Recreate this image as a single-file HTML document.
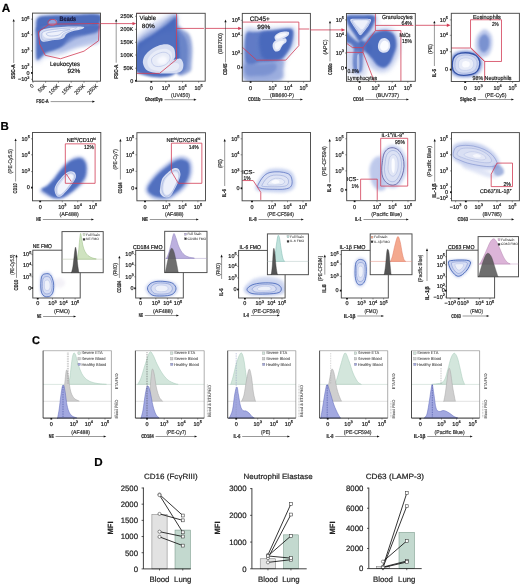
<!DOCTYPE html>
<html><head><meta charset="utf-8"><style>
html,body{margin:0;padding:0;background:#fff;}
svg{display:block;will-change:transform;}
text{font-family:"Liberation Sans", sans-serif;text-rendering:geometricPrecision;stroke:currentColor;stroke-width:0.2px;}
</style></head><body>
<svg width="520" height="584" viewBox="0 0 520 584">
<defs>
<filter id="b1" x="-20%" y="-20%" width="140%" height="140%"><feGaussianBlur stdDeviation="0.8"/></filter>
<filter id="b2" x="-20%" y="-20%" width="140%" height="140%"><feGaussianBlur stdDeviation="1.5"/></filter>
<filter id="b3" x="-30%" y="-30%" width="160%" height="160%"><feGaussianBlur stdDeviation="2.5"/></filter>
<filter id="b05" x="-20%" y="-20%" width="140%" height="140%"><feGaussianBlur stdDeviation="0.4"/></filter>
<filter id="b15" x="-25%" y="-25%" width="150%" height="150%"><feGaussianBlur stdDeviation="1.1"/></filter>
<filter id="b4" x="-40%" y="-40%" width="180%" height="180%"><feGaussianBlur stdDeviation="3.5"/></filter>
</defs>
<rect width="520" height="584" fill="#fff"/>
<text x="1.80" y="12.00" font-size="11.8" fill="#000" style="color:#000" text-anchor="start" font-weight="bold" >A</text>
<text x="0.60" y="129.60" font-size="11.5" fill="#000" style="color:#000" text-anchor="start" font-weight="bold" >B</text>
<text x="32.00" y="344.20" font-size="11" fill="#000" style="color:#000" text-anchor="start" font-weight="bold" >C</text>
<text x="94.30" y="466.00" font-size="11.6" fill="#000" style="color:#000" text-anchor="start" font-weight="bold" >D</text>
<g>
<clipPath id="c1"><rect x="32.50" y="13.10" width="68.00" height="68.10"/></clipPath><g clip-path="url(#c1)">
<path d="M35.54,19.31 C36.28,16.54 36.00,16.03 39.70,15.16 C43.39,14.28 47.77,14.28 57.70,14.05 C67.63,13.82 92.21,11.74 99.25,13.77 C106.29,15.80 99.83,22.08 99.94,26.24 C100.06,30.39 101.91,35.93 99.94,38.70 C97.98,41.47 92.21,41.47 88.17,42.86 C84.13,44.24 79.63,45.40 75.71,47.01 C71.78,48.63 68.55,51.17 64.63,52.55 C60.70,53.94 55.62,54.63 52.16,55.32 C48.70,56.01 45.93,55.78 43.85,56.71 C41.77,57.63 40.96,59.94 39.70,60.86 C38.43,61.78 36.97,63.63 36.23,62.25 C35.49,60.86 35.42,57.63 35.26,52.55 C35.10,47.47 35.22,37.32 35.26,31.78 C35.31,26.24 34.80,22.08 35.54,19.31 Z" fill="#a3b4e3" stroke="none" stroke-width="0.5" filter="url(#b3)" opacity="0.7"/>
<path d="M36.37,21.39 C36.83,19.13 37.29,17.81 39.70,16.82 C42.10,15.82 45.47,15.76 50.78,15.43 C56.08,15.11 63.52,15.02 71.55,14.88 C79.58,14.74 94.40,12.94 98.98,14.60 C103.55,16.26 100.78,23.05 98.98,24.85 C97.17,26.65 92.74,25.22 88.17,25.40 C83.60,25.59 77.78,25.77 71.55,25.96 C65.32,26.14 55.85,26.12 50.78,26.51 C45.70,26.90 43.39,27.67 41.08,28.31 C38.77,28.96 37.71,31.54 36.93,30.39 C36.14,29.24 35.91,23.65 36.37,21.39 Z" fill="#4767bb" stroke="none" stroke-width="0.5" filter="url(#b1)" opacity="0.95"/>
<path d="M75.71,25.54 C83.74,25.27 95.10,24.04 98.98,24.85 C102.85,25.66 99.62,28.89 98.98,30.39 C98.33,31.89 97.36,32.93 95.10,33.85 C92.83,34.78 88.63,35.12 85.40,35.93 C82.17,36.74 78.48,37.55 75.71,38.70 C72.94,39.86 71.09,41.42 68.78,42.86 C66.47,44.29 64.40,46.02 61.86,47.29 C59.32,48.56 56.08,49.60 53.55,50.47 C51.01,51.35 48.47,51.63 46.62,52.55 C44.77,53.47 43.73,54.91 42.47,56.01 C41.20,57.12 39.88,58.58 39.00,59.20 C38.13,59.82 37.66,60.17 37.20,59.75 C36.74,59.34 36.42,60.22 36.23,56.71 C36.05,53.20 35.98,43.55 36.09,38.70 C36.21,33.85 34.48,29.65 36.93,27.62 C39.37,25.59 44.31,26.86 50.78,26.51 C57.24,26.17 67.67,25.82 75.71,25.54 Z" fill="#4767bb" stroke="none" stroke-width="0.5" filter="url(#b1)" opacity="0.92"/>
<path d="M71.55,37.32 C75.71,35.47 83.60,35.47 88.17,34.55 C92.74,33.62 97.17,30.39 98.98,31.78 C100.78,33.16 100.78,40.55 98.98,42.86 C97.17,45.16 92.05,44.82 88.17,45.63 C84.29,46.43 79.63,46.90 75.71,47.70 C71.78,48.51 67.63,49.78 64.63,50.47 C61.63,51.17 57.93,52.67 57.70,51.86 C57.47,51.05 60.93,48.05 63.24,45.63 C65.55,43.20 67.40,39.16 71.55,37.32 Z" fill="#a6b6e4" stroke="none" stroke-width="0.5" filter="url(#b2)" opacity="0.55"/>
<path d="M39.97,31.78 C40.85,30.23 42.28,29.47 45.24,28.73 C48.19,27.99 53.31,27.71 57.70,27.34 C62.09,26.97 67.28,26.60 71.55,26.51 C75.82,26.42 81.52,26.37 83.32,26.79 C85.12,27.20 84.32,28.22 82.35,29.01 C80.39,29.79 74.23,30.62 71.55,31.50 C68.87,32.38 67.72,33.11 66.29,34.27 C64.86,35.42 65.32,37.41 62.96,38.42 C60.61,39.44 55.46,39.81 52.16,40.36 C48.86,40.92 45.19,42.14 43.16,41.75 C41.13,41.36 40.50,39.67 39.97,38.01 C39.44,36.35 39.10,33.32 39.97,31.78 Z" fill="#d3dbf2" stroke="none" stroke-width="0.5" filter="url(#b05)" opacity="1.0"/>
<path d="M43.85,31.78 C46.04,30.51 53.08,30.02 57.70,29.42 C62.32,28.82 67.97,28.43 71.55,28.17 C75.13,27.92 79.17,27.57 79.17,27.90 C79.17,28.22 74.09,29.24 71.55,30.11 C69.01,30.99 65.90,32.01 63.93,33.16 C61.97,34.31 61.97,36.18 59.78,37.04 C57.59,37.89 53.31,38.29 50.78,38.29 C48.24,38.29 45.70,38.12 44.54,37.04 C43.39,35.95 41.66,33.05 43.85,31.78 Z" fill="#eef1fb" stroke="none" stroke-width="0.5" filter="url(#b05)" opacity="1.0"/>
<path d="M46.62,33.16 C48.01,32.35 53.78,31.73 57.70,31.08 C61.63,30.44 69.24,29.17 70.17,29.28 C71.09,29.40 65.20,30.78 63.24,31.78 C61.28,32.77 60.70,34.55 58.39,35.24 C56.08,35.93 51.35,36.28 49.39,35.93 C47.43,35.58 45.24,33.97 46.62,33.16 Z" fill="none" stroke="#7f95d2" stroke-width="0.45" />
<path d="M41.77,33.16 C43.04,31.43 46.74,30.51 50.78,29.70 C54.82,28.89 61.63,28.71 66.01,28.31 C70.40,27.92 76.40,26.93 77.09,27.34 C77.78,27.76 72.47,29.72 70.17,30.81 C67.86,31.89 64.86,32.65 63.24,33.85 C61.63,35.05 62.55,37.08 60.47,38.01 C58.39,38.93 53.66,39.05 50.78,39.39 C47.89,39.74 44.66,41.12 43.16,40.09 C41.66,39.05 40.50,34.89 41.77,33.16 Z" fill="none" stroke="#8ea1d8" stroke-width="0.4" />
<path d="M48.70,22.08 C49.39,21.27 51.47,19.82 52.85,19.59 C54.24,19.36 56.43,19.93 57.01,20.70 C57.59,21.46 57.12,23.35 56.32,24.16 C55.51,24.97 53.43,25.50 52.16,25.54 C50.89,25.59 49.28,25.01 48.70,24.43 C48.12,23.86 48.01,22.89 48.70,22.08 Z" fill="#8fa3dc" stroke="none" stroke-width="0.5" filter="url(#b05)" opacity="1.0"/>
</g>
<path d="M38.31,31.78 L49.39,24.16 L99.25,23.47" fill="none" stroke="#d23c55" stroke-width="0.8" stroke-linejoin="round" />
<path d="M38.31,31.78 L39.70,44.24 L45.24,55.32 L60.47,58.78 L84.02,51.17 L98.56,40.78 L99.25,23.47" fill="none" stroke="#d23c55" stroke-width="0.8" stroke-linejoin="round" />
<ellipse cx="52.16" cy="22.36" rx="4.2" ry="3.0" fill="none" stroke="#d23c55" stroke-width="0.8"/>
<text x="59.60" y="21.20" font-size="6.4" fill="#1a1a40" style="color:#1a1a40" text-anchor="start" font-weight="bold" textLength="16.60" lengthAdjust="spacingAndGlyphs" >Beads</text>
<text x="50.00" y="65.60" font-size="6.2" fill="#161616" style="color:#161616" text-anchor="start" textLength="30.00" lengthAdjust="spacingAndGlyphs" >Leukocytes</text>
<text x="67.40" y="73.20" font-size="6.2" fill="#161616" style="color:#161616" text-anchor="start" textLength="13.00" lengthAdjust="spacingAndGlyphs" >92%</text>
<rect x="32.50" y="13.10" width="68.00" height="68.10" fill="none" stroke="#4a4a4a" stroke-width="0.95" />
</g>
<text x="29.50" y="21.00" font-size="5.5" fill="#161616" style="color:#161616" text-anchor="end" >10<tspan font-size="3.85" dy="-2.48">5</tspan></text>
<line x1="31.00" y1="19.20" x2="32.50" y2="19.20" stroke="#333" stroke-width="0.5" />
<text x="29.50" y="36.60" font-size="5.5" fill="#161616" style="color:#161616" text-anchor="end" >10<tspan font-size="3.85" dy="-2.48">4</tspan></text>
<line x1="31.00" y1="34.80" x2="32.50" y2="34.80" stroke="#333" stroke-width="0.5" />
<text x="29.50" y="52.70" font-size="5.5" fill="#161616" style="color:#161616" text-anchor="end" >10<tspan font-size="3.85" dy="-2.48">3</tspan></text>
<line x1="31.00" y1="50.90" x2="32.50" y2="50.90" stroke="#333" stroke-width="0.5" />
<text x="29.50" y="68.80" font-size="5.5" fill="#161616" style="color:#161616" text-anchor="end" >10<tspan font-size="3.85" dy="-2.48">2</tspan></text>
<line x1="31.00" y1="67.00" x2="32.50" y2="67.00" stroke="#333" stroke-width="0.5" />
<text x="29.50" y="74.70" font-size="5.5" fill="#161616" style="color:#161616" text-anchor="end" >0</text>
<line x1="31.00" y1="72.90" x2="32.50" y2="72.90" stroke="#333" stroke-width="0.5" />
<rect x="31.10" y="72.00" width="1.4" height="1.8" fill="#111"/>
<text x="29.50" y="81.10" font-size="5.5" fill="#161616" style="color:#161616" text-anchor="end" >−10<tspan font-size="3.85" dy="-2.48">2</tspan></text>
<line x1="31.00" y1="79.30" x2="32.50" y2="79.30" stroke="#333" stroke-width="0.5" />
<line x1="33.00" y1="81.20" x2="33.00" y2="82.80" stroke="#333" stroke-width="0.5" />
<text x="34.20" y="86.20" font-size="5.3" fill="#333" style="color:#333" text-anchor="end" transform="rotate(-45 34.20 86.2)">0</text>
<line x1="45.60" y1="81.20" x2="45.60" y2="82.80" stroke="#333" stroke-width="0.5" />
<text x="46.80" y="86.20" font-size="5.3" fill="#333" style="color:#333" text-anchor="end" transform="rotate(-45 46.80 86.2)">50K</text>
<line x1="58.40" y1="81.20" x2="58.40" y2="82.80" stroke="#333" stroke-width="0.5" />
<text x="59.60" y="86.20" font-size="5.3" fill="#333" style="color:#333" text-anchor="end" transform="rotate(-45 59.60 86.2)">100K</text>
<line x1="71.20" y1="81.20" x2="71.20" y2="82.80" stroke="#333" stroke-width="0.5" />
<text x="72.40" y="86.20" font-size="5.3" fill="#333" style="color:#333" text-anchor="end" transform="rotate(-45 72.40 86.2)">150K</text>
<line x1="84.00" y1="81.20" x2="84.00" y2="82.80" stroke="#333" stroke-width="0.5" />
<text x="85.20" y="86.20" font-size="5.3" fill="#333" style="color:#333" text-anchor="end" transform="rotate(-45 85.20 86.2)">200K</text>
<line x1="97.00" y1="81.20" x2="97.00" y2="82.80" stroke="#333" stroke-width="0.5" />
<text x="98.20" y="86.20" font-size="5.3" fill="#333" style="color:#333" text-anchor="end" transform="rotate(-45 98.20 86.2)">250K</text>
<line x1="13.70" y1="21.00" x2="13.70" y2="63.00" stroke="#333" stroke-width="0.5" />
<path d="M12.60,21.60 L13.70,19.00 L14.80,21.60 Z" fill="#111"/>
<text x="15.40" y="71.60" font-size="5.5" fill="#222" style="color:#222" text-anchor="middle" font-weight="bold" textLength="14.80" lengthAdjust="spacingAndGlyphs" transform="rotate(-90 15.40 71.60)" >SSC-A</text>
<line x1="93.00" y1="101.60" x2="50.60" y2="101.60" stroke="#333" stroke-width="0.5" />
<path d="M92.40,100.50 L95.00,101.60 L92.40,102.70 Z" fill="#111"/>
<text x="36.30" y="103.30" font-size="5.5" fill="#222" style="color:#222" text-anchor="start" font-weight="bold" textLength="12.50" lengthAdjust="spacingAndGlyphs" >FSC-A</text>
<line x1="100.50" y1="23.60" x2="133.50" y2="23.60" stroke="#d23c55" stroke-width="0.8" />
<path d="M132.5,21.9 L136.3,23.6 L132.5,25.3 Z" fill="#d23c55"/>
<g>
<clipPath id="c2"><rect x="136.50" y="13.30" width="68.70" height="67.90"/></clipPath><g clip-path="url(#c2)">
<path d="M137.05,37.84 C138.83,33.92 143.80,30.43 147.76,27.38 C151.73,24.33 157.13,21.71 160.84,19.54 C164.54,17.36 167.37,15.29 169.99,14.31 C172.60,13.33 175.43,10.60 176.52,13.65 C177.61,16.70 178.92,29.23 176.52,32.61 C174.13,35.98 166.72,32.17 162.14,33.92 C157.57,35.66 153.25,40.23 149.07,43.07 C144.89,45.90 139.05,51.78 137.05,50.91 C135.04,50.04 135.26,41.76 137.05,37.84 Z" fill="#a9b8e5" stroke="none" stroke-width="0.5" filter="url(#b3)" opacity="0.7"/>
<path d="M137.05,41.76 C138.61,39.14 142.93,36.31 146.46,33.92 C149.99,31.52 154.74,29.78 158.22,27.38 C161.71,24.98 164.54,21.61 167.37,19.54 C170.20,17.47 173.69,13.87 175.22,14.96 C176.74,16.05 178.70,23.13 176.52,26.07 C174.34,29.01 166.72,30.21 162.14,32.61 C157.57,35.00 153.25,37.62 149.07,40.45 C144.89,43.28 139.05,49.38 137.05,49.60 C135.04,49.82 135.48,44.37 137.05,41.76 Z" fill="#6f89cc" stroke="none" stroke-width="0.5" filter="url(#b2)" opacity="0.6"/>
<path d="M176.78,28.69 C177.83,21.67 180.92,28.90 183.06,29.99 C185.19,31.08 188.07,32.39 189.59,35.22 C191.12,38.05 191.88,42.41 192.21,46.99 C192.54,51.56 191.99,58.53 191.56,62.67 C191.12,66.81 192.06,70.25 189.59,71.82 C187.13,73.39 178.92,79.27 176.78,72.08 C174.65,64.90 175.74,35.70 176.78,28.69 Z" fill="#6a84ca" stroke="none" stroke-width="0.5" filter="url(#b2)" opacity="0.75"/>
<path d="M176.78,32.61 C178.05,26.77 182.56,34.13 184.37,36.53 C186.17,38.93 187.20,42.19 187.63,46.99 C188.07,51.78 187.53,61.26 186.98,65.29 C186.44,69.32 186.07,70.12 184.37,71.17 C182.67,72.22 178.05,77.99 176.78,71.56 C175.52,65.14 175.52,38.45 176.78,32.61 Z" fill="#4767bb" stroke="none" stroke-width="0.5" filter="url(#b15)" opacity="0.5"/>
<path d="M137.05,46.99 C138.18,41.54 141.19,41.98 143.84,39.80 C146.50,37.62 149.94,35.94 152.99,33.92 C156.04,31.89 159.42,29.60 162.14,27.64 C164.87,25.68 167.20,23.83 169.33,22.15 C171.47,20.47 173.76,18.34 174.95,17.58 C176.15,16.81 176.26,8.49 176.52,17.58 C176.78,26.66 183.10,62.93 176.52,72.08 C169.94,81.24 143.63,76.66 137.05,72.48 C130.47,68.29 135.91,52.43 137.05,46.99 Z" fill="#4767bb" stroke="none" stroke-width="0.5" filter="url(#b1)" opacity="0.95"/>
<path d="M143.84,57.44 C144.82,55.22 146.68,52.87 149.07,50.91 C151.47,48.95 155.17,46.77 158.22,45.68 C161.27,44.59 164.76,43.94 167.37,44.37 C169.99,44.81 172.60,46.33 173.91,48.29 C175.22,50.25 175.22,54.22 175.22,56.14 C175.22,58.05 173.04,59.36 173.91,59.80 C174.78,60.23 178.88,58.05 180.44,58.75 C182.01,59.45 183.10,62.02 183.32,63.98 C183.54,65.94 183.10,68.99 181.75,70.52 C180.40,72.04 178.92,72.65 175.22,73.13 C171.51,73.61 164.10,73.78 159.53,73.39 C154.95,73.00 150.49,72.30 147.76,70.78 C145.04,69.25 143.84,66.46 143.19,64.24 C142.54,62.02 142.86,59.67 143.84,57.44 Z" fill="#d6ddf2" stroke="none" stroke-width="0.5" filter="url(#b05)" opacity="1.0"/>
<path d="M148.42,58.10 C149.33,56.36 151.14,54.29 152.99,52.87 C154.85,51.45 157.24,50.25 159.53,49.60 C161.82,48.95 164.76,48.51 166.72,48.95 C168.68,49.38 170.42,50.69 171.29,52.22 C172.17,53.74 172.27,56.14 171.95,58.10 C171.62,60.06 168.79,63.22 169.33,63.98 C169.88,64.74 173.58,62.56 175.22,62.67 C176.85,62.78 178.70,63.54 179.14,64.63 C179.57,65.72 179.14,68.12 177.83,69.21 C176.52,70.30 174.34,70.84 171.29,71.17 C168.24,71.50 163.02,71.61 159.53,71.17 C156.04,70.73 152.38,69.86 150.38,68.56 C148.37,67.25 147.83,65.07 147.50,63.33 C147.18,61.58 147.50,59.84 148.42,58.10 Z" fill="#e8ecf8" stroke="none" stroke-width="0.5" filter="url(#b05)" opacity="1.0"/>
<path d="M151.69,58.75 C152.34,57.01 154.85,55.27 156.92,54.18 C158.98,53.09 162.03,52.11 164.10,52.22 C166.17,52.32 168.40,53.52 169.33,54.83 C170.27,56.14 170.38,58.42 169.73,60.06 C169.07,61.69 167.33,63.54 165.41,64.63 C163.49,65.72 160.29,66.59 158.22,66.59 C156.15,66.59 154.08,65.94 152.99,64.63 C151.90,63.33 151.03,60.49 151.69,58.75 Z" fill="none" stroke="#9aabdc" stroke-width="0.45" />
<path d="M157.57,59.41 C158.27,58.32 160.62,56.36 162.14,56.14 C163.67,55.92 166.07,57.01 166.72,58.10 C167.37,59.19 166.94,61.65 166.07,62.67 C165.19,63.70 162.84,64.24 161.49,64.24 C160.14,64.24 158.61,63.48 157.96,62.67 C157.31,61.87 156.87,60.49 157.57,59.41 Z" fill="#f8f9fe" stroke="none" stroke-width="0.5" filter="url(#b1)" opacity="1.0"/>
</g>
<path d="M136.65,13.39 L176.52,13.39 L176.52,59.41 L159.53,73.39 L136.65,73.39" fill="none" stroke="#d23c55" stroke-width="0.8" stroke-linejoin="round" />
<line x1="176.52" y1="28.42" x2="203.97" y2="28.42" stroke="#d23c55" stroke-width="0.8" />
<text x="139.50" y="19.80" font-size="6.2" fill="#161616" style="color:#161616" text-anchor="start" textLength="16.50" lengthAdjust="spacingAndGlyphs" >Viable</text>
<text x="141.80" y="28.00" font-size="6.2" fill="#161616" style="color:#161616" text-anchor="start" textLength="13.00" lengthAdjust="spacingAndGlyphs" >80%</text>
<rect x="136.50" y="13.30" width="68.70" height="67.90" fill="none" stroke="#4a4a4a" stroke-width="0.95" />
</g>
<text x="133.20" y="18.10" font-size="5.5" fill="#161616" style="color:#161616" text-anchor="end" >250K</text>
<line x1="135.00" y1="16.30" x2="136.50" y2="16.30" stroke="#333" stroke-width="0.5" />
<text x="133.20" y="31.10" font-size="5.5" fill="#161616" style="color:#161616" text-anchor="end" >200K</text>
<line x1="135.00" y1="29.30" x2="136.50" y2="29.30" stroke="#333" stroke-width="0.5" />
<text x="133.20" y="44.10" font-size="5.5" fill="#161616" style="color:#161616" text-anchor="end" >150K</text>
<line x1="135.00" y1="42.30" x2="136.50" y2="42.30" stroke="#333" stroke-width="0.5" />
<text x="133.20" y="56.80" font-size="5.5" fill="#161616" style="color:#161616" text-anchor="end" >100K</text>
<line x1="135.00" y1="55.00" x2="136.50" y2="55.00" stroke="#333" stroke-width="0.5" />
<text x="133.20" y="70.00" font-size="5.5" fill="#161616" style="color:#161616" text-anchor="end" >50K</text>
<line x1="135.00" y1="68.20" x2="136.50" y2="68.20" stroke="#333" stroke-width="0.5" />
<text x="133.20" y="82.60" font-size="5.5" fill="#161616" style="color:#161616" text-anchor="end" >0</text>
<line x1="135.00" y1="80.80" x2="136.50" y2="80.80" stroke="#333" stroke-width="0.5" />
<rect x="135.10" y="79.90" width="1.4" height="1.8" fill="#111"/>
<text x="151.30" y="89.60" font-size="5.5" fill="#161616" style="color:#161616" text-anchor="middle" >0</text>
<line x1="151.30" y1="81.20" x2="151.30" y2="82.70" stroke="#333" stroke-width="0.5" />
<rect x="150.40" y="81.20" width="1.8" height="1.4" fill="#111"/>
<text x="165.80" y="89.60" font-size="5.5" fill="#161616" style="color:#161616" text-anchor="middle" >10<tspan font-size="3.85" dy="-2.48">3</tspan></text>
<line x1="165.80" y1="81.20" x2="165.80" y2="82.70" stroke="#333" stroke-width="0.5" />
<text x="182.50" y="89.60" font-size="5.5" fill="#161616" style="color:#161616" text-anchor="middle" >10<tspan font-size="3.85" dy="-2.48">4</tspan></text>
<line x1="182.50" y1="81.20" x2="182.50" y2="82.70" stroke="#333" stroke-width="0.5" />
<text x="198.60" y="89.60" font-size="5.5" fill="#161616" style="color:#161616" text-anchor="middle" >10<tspan font-size="3.85" dy="-2.48">5</tspan></text>
<line x1="198.60" y1="81.20" x2="198.60" y2="82.70" stroke="#333" stroke-width="0.5" />
<line x1="116.20" y1="20.90" x2="116.20" y2="62.70" stroke="#333" stroke-width="0.5" />
<path d="M115.10,21.50 L116.20,18.90 L117.30,21.50 Z" fill="#111"/>
<text x="117.90" y="71.65" font-size="5.5" fill="#222" style="color:#222" text-anchor="middle" font-weight="bold" textLength="14.30" lengthAdjust="spacingAndGlyphs" transform="rotate(-90 117.90 71.65)" >FSC-A</text>
<line x1="194.50" y1="99.70" x2="164.50" y2="99.70" stroke="#333" stroke-width="0.5" />
<path d="M193.90,98.60 L196.50,99.70 L193.90,100.80 Z" fill="#111"/>
<text x="145.00" y="101.40" font-size="5.5" fill="#222" style="color:#222" text-anchor="start" font-weight="bold" textLength="17.70" lengthAdjust="spacingAndGlyphs" >GhostDye</text>
<text x="180.50" y="96.70" font-size="5.5" fill="#333" style="color:#333" text-anchor="middle" textLength="19.00" lengthAdjust="spacingAndGlyphs" >(UV450)</text>
<line x1="205.20" y1="28.40" x2="239.00" y2="28.40" stroke="#d23c55" stroke-width="0.8" />
<path d="M238.2,26.7 L242.0,28.4 L238.2,30.1 Z" fill="#d23c55"/>
<g>
<clipPath id="c3"><rect x="242.30" y="13.40" width="68.10" height="67.90"/></clipPath><g clip-path="url(#c3)">
<path d="M244.85,31.78 C246.81,23.23 251.66,29.58 256.62,29.01 C261.58,28.43 269.43,28.59 274.63,28.31 C279.82,28.04 284.44,27.23 287.78,27.34 C291.13,27.46 293.67,25.96 294.71,29.01 C295.75,32.05 295.52,40.78 294.02,45.63 C292.52,50.47 287.55,54.17 285.71,58.09 C283.86,62.02 283.86,65.48 282.94,69.17 C282.01,72.87 286.51,78.41 280.17,80.25 C273.82,82.10 250.73,88.33 244.85,80.25 C238.96,72.17 242.89,40.32 244.85,31.78 Z" fill="#a3b4e3" stroke="none" stroke-width="0.5" filter="url(#b3)" opacity="0.75"/>
<path d="M245.54,58.09 C248.08,54.51 254.77,58.67 260.78,58.78 C266.78,58.90 277.86,57.05 281.55,58.78 C285.24,60.52 283.40,65.59 282.94,69.17 C282.47,72.75 285.01,78.41 278.78,80.25 C272.55,82.10 251.08,83.95 245.54,80.25 C240.00,76.56 243.00,61.67 245.54,58.09 Z" fill="#94a7db" stroke="none" stroke-width="0.5" filter="url(#b2)" opacity="0.8"/>
<path d="M245.82,34.55 C247.32,29.51 250.43,32.75 255.24,32.05 C260.04,31.36 269.32,30.90 274.63,30.39 C279.94,29.88 284.04,28.89 287.09,29.01 C290.14,29.12 292.33,28.31 292.91,31.08 C293.49,33.85 292.33,41.12 290.55,45.63 C288.78,50.13 284.90,55.55 282.24,58.09 C279.59,60.63 278.20,60.17 274.63,60.86 C271.05,61.55 265.51,62.02 260.78,62.25 C256.04,62.48 248.73,66.86 246.23,62.25 C243.74,57.63 244.32,39.58 245.82,34.55 Z" fill="#5c78c5" stroke="none" stroke-width="0.5" filter="url(#b1)" opacity="0.95"/>
<path d="M260.78,33.16 C263.31,30.44 270.24,31.31 274.63,30.67 C279.01,30.02 284.14,29.14 287.09,29.28 C290.05,29.42 291.85,28.77 292.35,31.50 C292.86,34.22 291.82,41.31 290.14,45.63 C288.45,49.94 284.83,55.04 282.24,57.40 C279.66,59.75 277.74,59.52 274.63,59.75 C271.51,59.98 266.08,60.91 263.55,58.78 C261.01,56.66 259.85,51.28 259.39,47.01 C258.93,42.74 258.24,35.88 260.78,33.16 Z" fill="#4767bb" stroke="none" stroke-width="0.5" filter="url(#b2)" opacity="0.9"/>
<path d="M245.82,63.63 C248.24,61.78 255.97,63.75 260.78,63.63 C265.58,63.52 272.04,62.02 274.63,62.94 C277.21,63.86 277.21,67.21 276.29,69.17 C275.36,71.13 272.36,73.56 269.09,74.71 C265.81,75.87 260.43,76.10 256.62,76.10 C252.81,76.10 248.03,76.79 246.23,74.71 C244.43,72.63 243.39,65.48 245.82,63.63 Z" fill="#5f7ac6" stroke="none" stroke-width="0.5" filter="url(#b2)" opacity="0.5"/>
<path d="M274.63,36.62 C275.02,35.42 276.47,34.01 278.09,33.16 C279.70,32.31 282.54,31.68 284.32,31.50 C286.10,31.31 288.06,31.43 288.75,32.05 C289.45,32.68 289.26,34.25 288.48,35.24 C287.69,36.23 285.54,37.20 284.04,38.01 C282.54,38.82 280.86,39.69 279.47,40.09 C278.09,40.48 276.54,40.94 275.73,40.36 C274.93,39.79 274.23,37.82 274.63,36.62 Z" fill="#dfe4f5" stroke="none" stroke-width="0.5" filter="url(#b05)" opacity="1.0"/>
<path d="M276.29,36.35 C276.84,35.58 278.71,34.38 280.17,33.85 C281.62,33.32 283.91,33.09 285.01,33.16 C286.12,33.23 287.05,33.74 286.81,34.27 C286.58,34.80 284.85,35.70 283.63,36.35 C282.41,36.99 280.60,37.80 279.47,38.15 C278.34,38.49 277.37,38.72 276.84,38.42 C276.31,38.12 275.73,37.11 276.29,36.35 Z" fill="#f7f8fd" stroke="none" stroke-width="0.5" filter="url(#b05)" opacity="1.0"/>
<path d="M272.96,43.55 C273.52,42.21 274.86,40.89 276.29,40.09 C277.72,39.28 279.98,38.98 281.55,38.70 C283.12,38.42 284.90,37.92 285.71,38.42 C286.51,38.93 286.98,40.55 286.40,41.75 C285.82,42.95 283.40,44.17 282.24,45.63 C281.09,47.08 280.63,49.50 279.47,50.47 C278.32,51.44 276.40,51.84 275.32,51.44 C274.23,51.05 273.36,49.43 272.96,48.12 C272.57,46.80 272.41,44.89 272.96,43.55 Z" fill="#dce2f4" stroke="none" stroke-width="0.5" filter="url(#b05)" opacity="1.0"/>
<path d="M274.90,44.24 C275.30,42.99 276.87,42.33 278.09,41.75 C279.31,41.17 281.25,40.78 282.24,40.78 C283.24,40.78 284.16,41.06 284.04,41.75 C283.93,42.44 282.43,43.78 281.55,44.93 C280.67,46.09 279.75,47.96 278.78,48.67 C277.81,49.39 276.38,49.97 275.73,49.23 C275.09,48.49 274.51,45.49 274.90,44.24 Z" fill="#f4f6fc" stroke="none" stroke-width="0.5" filter="url(#b05)" opacity="1.0"/>
</g>
<path d="M242.08,22.08 L298.86,22.08 L298.86,45.63 L285.71,60.17 L256.62,60.17 L242.08,47.01" fill="none" stroke="#d23c55" stroke-width="0.8" stroke-linejoin="round" />
<line x1="298.86" y1="29.01" x2="309.25" y2="29.01" stroke="#d23c55" stroke-width="0.8" />
<text x="249.70" y="21.20" font-size="6.4" fill="#161616" style="color:#161616" text-anchor="start" textLength="20.00" lengthAdjust="spacingAndGlyphs" >CD45+</text>
<text x="257.30" y="28.80" font-size="6.2" fill="#161616" style="color:#161616" text-anchor="start" textLength="13.00" lengthAdjust="spacingAndGlyphs" >99%</text>
<rect x="242.30" y="13.40" width="68.10" height="67.90" fill="none" stroke="#4a4a4a" stroke-width="0.95" />
</g>
<text x="240.00" y="22.10" font-size="5.5" fill="#161616" style="color:#161616" text-anchor="end" >10<tspan font-size="3.85" dy="-2.48">5</tspan></text>
<line x1="240.80" y1="20.30" x2="242.30" y2="20.30" stroke="#333" stroke-width="0.5" />
<text x="240.00" y="37.10" font-size="5.5" fill="#161616" style="color:#161616" text-anchor="end" >10<tspan font-size="3.85" dy="-2.48">4</tspan></text>
<line x1="240.80" y1="35.30" x2="242.30" y2="35.30" stroke="#333" stroke-width="0.5" />
<text x="240.00" y="55.40" font-size="5.5" fill="#161616" style="color:#161616" text-anchor="end" >10<tspan font-size="3.85" dy="-2.48">3</tspan></text>
<line x1="240.80" y1="53.60" x2="242.30" y2="53.60" stroke="#333" stroke-width="0.5" />
<text x="240.00" y="69.30" font-size="5.5" fill="#161616" style="color:#161616" text-anchor="end" >0</text>
<line x1="240.80" y1="67.50" x2="242.30" y2="67.50" stroke="#333" stroke-width="0.5" />
<rect x="240.90" y="66.60" width="1.4" height="1.8" fill="#111"/>
<text x="250.60" y="89.60" font-size="5.5" fill="#161616" style="color:#161616" text-anchor="middle" >0</text>
<line x1="250.60" y1="81.30" x2="250.60" y2="82.80" stroke="#333" stroke-width="0.5" />
<rect x="249.70" y="81.30" width="1.8" height="1.4" fill="#111"/>
<text x="272.60" y="89.60" font-size="5.5" fill="#161616" style="color:#161616" text-anchor="middle" >10<tspan font-size="3.85" dy="-2.48">2</tspan></text>
<line x1="272.60" y1="81.30" x2="272.60" y2="82.80" stroke="#333" stroke-width="0.5" />
<text x="288.20" y="89.60" font-size="5.5" fill="#161616" style="color:#161616" text-anchor="middle" >10<tspan font-size="3.85" dy="-2.48">4</tspan></text>
<line x1="288.20" y1="81.30" x2="288.20" y2="82.80" stroke="#333" stroke-width="0.5" />
<text x="303.60" y="89.60" font-size="5.5" fill="#161616" style="color:#161616" text-anchor="middle" >10<tspan font-size="3.85" dy="-2.48">5</tspan></text>
<line x1="303.60" y1="81.30" x2="303.60" y2="82.80" stroke="#333" stroke-width="0.5" />
<line x1="225.50" y1="21.60" x2="225.50" y2="62.40" stroke="#333" stroke-width="0.5" />
<path d="M224.40,22.20 L225.50,19.60 L226.60,22.20 Z" fill="#111"/>
<text x="227.20" y="69.30" font-size="5.5" fill="#222" style="color:#222" text-anchor="middle" font-weight="bold" textLength="11.40" lengthAdjust="spacingAndGlyphs" transform="rotate(-90 227.20 69.30)" >CD45</text>
<text x="222.40" y="43.50" font-size="5.5" fill="#333" style="color:#333" text-anchor="middle" textLength="21.00" lengthAdjust="spacingAndGlyphs" transform="rotate(-90 222.40 43.50)" >(BB700)</text>
<line x1="301.00" y1="99.50" x2="262.40" y2="99.50" stroke="#333" stroke-width="0.5" />
<path d="M300.40,98.40 L303.00,99.50 L300.40,100.60 Z" fill="#111"/>
<text x="248.00" y="101.20" font-size="5.5" fill="#222" style="color:#222" text-anchor="start" font-weight="bold" textLength="12.60" lengthAdjust="spacingAndGlyphs" >CD11b</text>
<text x="282.00" y="96.70" font-size="5.5" fill="#333" style="color:#333" text-anchor="middle" textLength="24.00" lengthAdjust="spacingAndGlyphs" >(BB660-P)</text>
<line x1="310.40" y1="29.90" x2="342.50" y2="29.90" stroke="#d23c55" stroke-width="0.8" />
<path d="M341.5,28.2 L345.3,29.9 L341.5,31.6 Z" fill="#d23c55"/>
<g>
<clipPath id="c4"><rect x="346.50" y="13.50" width="68.80" height="67.80"/></clipPath><g clip-path="url(#c4)">
<path d="M346.00,14.96 C350.90,6.57 370.51,12.67 375.41,14.96 C380.31,17.25 376.61,24.66 375.41,28.69 C374.21,32.72 369.86,35.22 368.22,39.14 C366.59,43.07 366.04,46.33 365.61,52.22 C365.17,58.10 368.00,70.73 365.61,74.44 C363.21,78.14 354.50,75.96 351.23,74.44 C347.96,72.91 346.87,75.20 346.00,65.29 C345.13,55.37 341.10,23.35 346.00,14.96 Z" fill="#a8b7e4" stroke="none" stroke-width="0.5" filter="url(#b3)" opacity="0.55"/>
<path d="M364.30,41.76 C365.17,37.84 368.22,34.79 370.84,32.61 C373.45,30.43 376.72,29.34 379.99,28.69 C383.25,28.03 387.50,27.60 390.44,28.69 C393.39,29.78 396.22,31.95 397.63,35.22 C399.05,38.49 399.27,44.15 398.94,48.29 C398.61,52.43 397.31,56.57 395.67,60.06 C394.04,63.54 391.53,67.25 389.14,69.21 C386.74,71.17 384.13,72.04 381.29,71.82 C378.46,71.61 374.76,70.52 372.14,67.90 C369.53,65.29 366.92,60.49 365.61,56.14 C364.30,51.78 363.43,45.68 364.30,41.76 Z" fill="#a3b3e3" stroke="none" stroke-width="0.5" filter="url(#b3)" opacity="0.75"/>
<path d="M346.65,15.88 C348.94,15.07 355.74,15.35 360.38,15.35 C365.02,15.35 372.27,14.42 374.50,15.88 C376.72,17.34 374.71,21.28 373.71,24.11 C372.71,26.94 370.38,30.36 368.48,32.87 C366.59,35.37 363.91,37.77 362.34,39.14 C360.77,40.52 360.44,41.98 359.07,41.10 C357.70,40.23 355.85,36.53 354.10,33.92 C352.36,31.30 349.86,27.71 348.61,25.42 C347.37,23.13 346.98,21.78 346.65,20.19 C346.33,18.60 344.37,16.68 346.65,15.88 Z" fill="#4767bb" stroke="none" stroke-width="0.5" filter="url(#b1)" opacity="0.95"/>
<path d="M346.00,31.30 C346.87,30.43 349.27,34.79 351.23,36.53 C353.19,38.27 356.02,41.00 357.76,41.76 C359.51,42.52 360.71,40.45 361.69,41.10 C362.67,41.76 363.47,43.17 363.65,45.68 C363.82,48.19 363.10,52.00 362.73,56.14 C362.36,60.28 362.69,67.90 361.42,70.52 C360.16,73.13 356.52,73.13 355.15,71.82 C353.78,70.52 353.36,66.16 353.19,62.67 C353.02,59.19 354.43,53.96 354.10,50.91 C353.78,47.86 352.58,45.90 351.23,44.37 C349.88,42.85 346.87,43.94 346.00,41.76 C345.13,39.58 345.13,32.17 346.00,31.30 Z" fill="#4767bb" stroke="none" stroke-width="0.5" filter="url(#b1)" opacity="0.88"/>
<path d="M353.84,52.22 C354.67,50.25 357.81,50.25 359.07,50.91 C360.34,51.56 361.21,52.87 361.42,56.14 C361.64,59.41 361.32,68.01 360.38,70.52 C359.44,73.02 356.85,72.48 355.80,71.17 C354.76,69.86 354.43,65.83 354.10,62.67 C353.78,59.51 353.02,54.18 353.84,52.22 Z" fill="#7f96d4" stroke="none" stroke-width="0.5" filter="url(#b15)" opacity="0.8"/>
<path d="M359.73,41.10 C360.38,40.02 363.54,40.89 365.61,41.76 C367.68,42.63 371.27,44.59 372.14,46.33 C373.02,48.08 371.93,51.24 370.84,52.22 C369.75,53.20 367.13,52.87 365.61,52.22 C364.08,51.56 362.67,50.15 361.69,48.29 C360.71,46.44 359.07,42.19 359.73,41.10 Z" fill="#4767bb" stroke="none" stroke-width="0.5" filter="url(#b1)" opacity="0.85"/>
<path d="M365.61,43.33 C366.26,40.49 368.66,37.23 370.84,35.22 C373.02,33.22 375.85,32.06 378.68,31.30 C381.51,30.54 385.22,29.99 387.83,30.65 C390.44,31.30 392.95,32.72 394.37,35.22 C395.78,37.73 396.54,42.19 396.33,45.68 C396.11,49.17 394.26,53.09 393.06,56.14 C391.86,59.19 390.66,62.06 389.14,63.98 C387.61,65.90 385.87,67.42 383.91,67.64 C381.95,67.86 379.33,66.77 377.37,65.29 C375.41,63.81 373.89,60.93 372.14,58.75 C370.40,56.57 368.00,54.79 366.92,52.22 C365.83,49.64 364.95,46.16 365.61,43.33 Z" fill="#4767bb" stroke="none" stroke-width="0.5" filter="url(#b1)" opacity="0.95"/>
<path d="M378.03,45.03 C378.29,43.35 379.16,40.95 380.25,39.80 C381.34,38.64 383.08,37.88 384.56,38.10 C386.04,38.32 388.20,39.58 389.14,41.10 C390.07,42.63 390.51,45.44 390.18,47.25 C389.86,49.06 388.55,51.08 387.18,51.95 C385.80,52.83 383.36,52.83 381.95,52.48 C380.53,52.13 379.33,51.10 378.68,49.86 C378.03,48.62 377.76,46.70 378.03,45.03 Z" fill="#dde3f5" stroke="none" stroke-width="0.5" filter="url(#b05)" opacity="1.0"/>
<path d="M380.25,45.42 C380.55,44.33 381.42,42.54 382.21,41.76 C382.99,40.97 383.97,40.54 384.95,40.71 C385.93,40.89 387.50,41.71 388.09,42.80 C388.68,43.89 388.85,46.01 388.48,47.25 C388.11,48.49 386.89,49.73 385.87,50.25 C384.85,50.78 383.25,50.71 382.34,50.39 C381.42,50.06 380.73,49.12 380.38,48.29 C380.03,47.47 379.94,46.51 380.25,45.42 Z" fill="#fbfcff" stroke="none" stroke-width="0.5" filter="url(#b05)" opacity="1.0"/>
<path d="M350.58,19.27 C351.88,18.32 357.05,18.75 360.38,18.75 C363.71,18.75 369.14,18.27 370.58,19.27 C372.01,20.28 370.05,22.76 369.01,24.76 C367.96,26.77 365.74,29.56 364.30,31.30 C362.86,33.04 361.64,35.33 360.38,35.22 C359.12,35.11 358.03,32.43 356.72,30.65 C355.41,28.86 353.56,26.40 352.54,24.50 C351.51,22.61 349.27,20.23 350.58,19.27 Z" fill="#d6ddf3" stroke="none" stroke-width="0.5" filter="url(#b05)" opacity="1.0"/>
<path d="M353.84,20.84 C354.78,20.36 358.75,20.54 361.03,20.58 C363.32,20.63 366.85,20.30 367.57,21.10 C368.29,21.91 366.28,24.05 365.35,25.42 C364.41,26.79 363.10,29.12 361.95,29.34 C360.79,29.56 359.51,27.71 358.42,26.73 C357.33,25.75 356.17,24.44 355.41,23.46 C354.65,22.48 352.91,21.32 353.84,20.84 Z" fill="#eef1fb" stroke="none" stroke-width="0.5" filter="url(#b05)" opacity="1.0"/>
<path d="M352.27,20.19 C353.45,19.36 357.76,19.54 360.64,19.54 C363.52,19.54 368.37,19.21 369.53,20.19 C370.68,21.17 368.66,23.57 367.57,25.42 C366.48,27.27 364.24,29.88 362.99,31.30 C361.75,32.72 361.10,34.18 360.12,33.92 C359.14,33.65 358.20,31.30 357.11,29.73 C356.02,28.16 354.39,26.09 353.58,24.50 C352.78,22.91 351.10,21.02 352.27,20.19 Z" fill="none" stroke="#8ea1d8" stroke-width="0.45" />
<path d="M357.11,56.14 C357.42,53.81 358.70,53.31 359.07,55.48 C359.44,57.66 359.64,66.88 359.33,69.21 C359.03,71.54 357.61,71.65 357.24,69.47 C356.87,67.29 356.81,58.47 357.11,56.14 Z" fill="#b9c6ea" stroke="none" stroke-width="0.5" filter="url(#b05)" opacity="0.9"/>
</g>
<path d="M375.40,13.20 L375.40,30.60 L363.00,47.60 L352.50,47.60 L346.10,43.00" fill="none" stroke="#d23c55" stroke-width="0.8" stroke-linejoin="round" />
<line x1="375.40" y1="25.40" x2="413.40" y2="25.40" stroke="#d23c55" stroke-width="0.8" />
<path d="M375.40,30.60 L400.90,30.60 L400.90,81.20" fill="none" stroke="#d23c55" stroke-width="0.8" stroke-linejoin="round" />
<path d="M346.10,52.40 L363.00,52.40 L374.20,81.20" fill="none" stroke="#d23c55" stroke-width="0.8" stroke-linejoin="round" />
<line x1="363.00" y1="47.60" x2="363.00" y2="52.40" stroke="#d23c55" stroke-width="0.8" />
<text x="382.00" y="19.20" font-size="5.8" fill="#161616" style="color:#161616" text-anchor="start" textLength="30.60" lengthAdjust="spacingAndGlyphs" >Granulocytes</text>
<text x="401.50" y="24.80" font-size="5.8" fill="#161616" style="color:#161616" text-anchor="start" textLength="10.50" lengthAdjust="spacingAndGlyphs" >64%</text>
<text x="399.40" y="37.20" font-size="5.8" fill="#161616" style="color:#161616" text-anchor="start" textLength="11.00" lengthAdjust="spacingAndGlyphs" >MdCs</text>
<text x="402.00" y="43.40" font-size="5.8" fill="#161616" style="color:#161616" text-anchor="start" textLength="10.00" lengthAdjust="spacingAndGlyphs" >15%</text>
<text x="347.50" y="73.30" font-size="5.8" fill="#161616" style="color:#161616" text-anchor="start" textLength="11.50" lengthAdjust="spacingAndGlyphs" >0.8%</text>
<text x="347.50" y="80.00" font-size="5.8" fill="#161616" style="color:#161616" text-anchor="start" textLength="29.50" lengthAdjust="spacingAndGlyphs" >Lymphocytes</text>
<rect x="346.50" y="13.50" width="68.80" height="67.80" fill="none" stroke="#4a4a4a" stroke-width="0.95" />
</g>
<text x="344.00" y="21.70" font-size="5.5" fill="#161616" style="color:#161616" text-anchor="end" >10<tspan font-size="3.85" dy="-2.48">5</tspan></text>
<line x1="345.00" y1="19.90" x2="346.50" y2="19.90" stroke="#333" stroke-width="0.5" />
<text x="344.00" y="37.10" font-size="5.5" fill="#161616" style="color:#161616" text-anchor="end" >10<tspan font-size="3.85" dy="-2.48">4</tspan></text>
<line x1="345.00" y1="35.30" x2="346.50" y2="35.30" stroke="#333" stroke-width="0.5" />
<text x="344.00" y="54.80" font-size="5.5" fill="#161616" style="color:#161616" text-anchor="end" >10<tspan font-size="3.85" dy="-2.48">3</tspan></text>
<line x1="345.00" y1="53.00" x2="346.50" y2="53.00" stroke="#333" stroke-width="0.5" />
<text x="344.00" y="69.60" font-size="5.5" fill="#161616" style="color:#161616" text-anchor="end" >0</text>
<line x1="345.00" y1="67.80" x2="346.50" y2="67.80" stroke="#333" stroke-width="0.5" />
<rect x="345.10" y="66.90" width="1.4" height="1.8" fill="#111"/>
<text x="359.60" y="89.60" font-size="5.5" fill="#161616" style="color:#161616" text-anchor="middle" >0</text>
<line x1="359.60" y1="81.30" x2="359.60" y2="82.80" stroke="#333" stroke-width="0.5" />
<rect x="358.70" y="81.30" width="1.8" height="1.4" fill="#111"/>
<text x="375.60" y="89.60" font-size="5.5" fill="#161616" style="color:#161616" text-anchor="middle" >10<tspan font-size="3.85" dy="-2.48">2</tspan></text>
<line x1="375.60" y1="81.30" x2="375.60" y2="82.80" stroke="#333" stroke-width="0.5" />
<text x="392.20" y="89.60" font-size="5.5" fill="#161616" style="color:#161616" text-anchor="middle" >10<tspan font-size="3.85" dy="-2.48">4</tspan></text>
<line x1="392.20" y1="81.30" x2="392.20" y2="82.80" stroke="#333" stroke-width="0.5" />
<text x="407.80" y="89.60" font-size="5.5" fill="#161616" style="color:#161616" text-anchor="middle" >10<tspan font-size="3.85" dy="-2.48">5</tspan></text>
<line x1="407.80" y1="81.30" x2="407.80" y2="82.80" stroke="#333" stroke-width="0.5" />
<line x1="330.00" y1="22.70" x2="330.00" y2="61.40" stroke="#333" stroke-width="0.5" />
<path d="M328.90,23.30 L330.00,20.70 L331.10,23.30 Z" fill="#111"/>
<text x="331.70" y="69.20" font-size="5.5" fill="#222" style="color:#222" text-anchor="middle" font-weight="bold" textLength="11.60" lengthAdjust="spacingAndGlyphs" transform="rotate(-90 331.70 69.20)" >CD66b</text>
<text x="326.50" y="47.00" font-size="5.5" fill="#333" style="color:#333" text-anchor="middle" textLength="15.00" lengthAdjust="spacingAndGlyphs" transform="rotate(-90 326.50 47.00)" >(APC)</text>
<line x1="407.00" y1="99.50" x2="365.40" y2="99.50" stroke="#333" stroke-width="0.5" />
<path d="M406.40,98.40 L409.00,99.50 L406.40,100.60 Z" fill="#111"/>
<text x="353.00" y="101.20" font-size="5.5" fill="#222" style="color:#222" text-anchor="start" font-weight="bold" textLength="10.60" lengthAdjust="spacingAndGlyphs" >CD14</text>
<text x="387.50" y="96.70" font-size="5.5" fill="#333" style="color:#333" text-anchor="middle" textLength="23.00" lengthAdjust="spacingAndGlyphs" >(BUV737)</text>
<line x1="415.30" y1="25.30" x2="447.50" y2="25.30" stroke="#d23c55" stroke-width="0.8" />
<path d="M446.8,23.6 L450.6,25.3 L446.8,27.0 Z" fill="#d23c55"/>
<g>
<clipPath id="c5"><rect x="451.30" y="13.30" width="68.10" height="68.20"/></clipPath><g clip-path="url(#c5)">
<path d="M449.12,61.42 C449.54,58.51 450.48,55.76 452.25,53.92 C454.02,52.09 456.83,51.05 459.75,50.43 C462.67,49.80 466.62,49.70 469.75,50.17 C472.88,50.65 476.29,51.63 478.50,53.30 C480.71,54.97 482.38,57.57 483.00,60.17 C483.62,62.78 483.21,66.42 482.25,68.92 C481.29,71.42 479.75,73.67 477.25,75.17 C474.75,76.67 470.79,77.61 467.25,77.93 C463.71,78.24 458.92,78.13 456.00,77.05 C453.08,75.97 450.90,74.03 449.75,71.42 C448.60,68.82 448.71,64.34 449.12,61.42 Z" fill="#a9b8e5" stroke="none" stroke-width="0.5" filter="url(#b2)" opacity="0.75"/>
<path d="M451.42,61.82 C451.78,59.30 452.59,56.92 454.12,55.34 C455.65,53.75 458.08,52.85 460.60,52.31 C463.12,51.77 466.54,51.68 469.24,52.10 C471.94,52.51 474.89,53.36 476.80,54.80 C478.71,56.24 480.15,58.49 480.69,60.74 C481.23,62.99 480.87,66.14 480.04,68.30 C479.21,70.46 477.88,72.40 475.72,73.70 C473.56,74.99 470.14,75.80 467.08,76.07 C464.02,76.34 459.88,76.25 457.36,75.32 C454.84,74.38 452.95,72.71 451.96,70.46 C450.97,68.21 451.06,64.34 451.42,61.82 Z" fill="#5a76c4" stroke="none" stroke-width="0.5" filter="url(#b1)" opacity="0.85"/>
<path d="M452.50,62.00 C452.83,59.67 453.58,57.47 455.00,56.00 C456.42,54.53 458.67,53.70 461.00,53.20 C463.33,52.70 466.50,52.62 469.00,53.00 C471.50,53.38 474.23,54.17 476.00,55.50 C477.77,56.83 479.10,58.92 479.60,61.00 C480.10,63.08 479.77,66.00 479.00,68.00 C478.23,70.00 477.00,71.80 475.00,73.00 C473.00,74.20 469.83,74.95 467.00,75.20 C464.17,75.45 460.33,75.37 458.00,74.50 C455.67,73.63 453.92,72.08 453.00,70.00 C452.08,67.92 452.17,64.33 452.50,62.00 Z" fill="#c3cdee" stroke="#3553a8" stroke-width="1.3" />
<path d="M455.20,62.46 C455.47,60.59 456.07,58.83 457.20,57.66 C458.33,56.49 460.13,55.82 462.00,55.42 C463.87,55.02 466.40,54.95 468.40,55.26 C470.40,55.57 472.59,56.19 474.00,57.26 C475.41,58.33 476.48,59.99 476.88,61.66 C477.28,63.33 477.01,65.66 476.40,67.26 C475.79,68.86 474.80,70.30 473.20,71.26 C471.60,72.22 469.07,72.82 466.80,73.02 C464.53,73.22 461.47,73.15 459.60,72.46 C457.73,71.77 456.33,70.53 455.60,68.86 C454.87,67.19 454.93,64.33 455.20,62.46 Z" fill="#d6ddf3" stroke="#8a9ed6" stroke-width="0.4" />
<path d="M458.57,63.03 C458.76,61.75 459.17,60.54 459.95,59.73 C460.73,58.93 461.97,58.47 463.25,58.20 C464.53,57.92 466.27,57.87 467.65,58.09 C469.02,58.30 470.53,58.73 471.50,59.46 C472.47,60.19 473.21,61.34 473.48,62.48 C473.75,63.63 473.57,65.23 473.15,66.33 C472.73,67.43 472.05,68.42 470.95,69.08 C469.85,69.74 468.11,70.16 466.55,70.30 C464.99,70.43 462.88,70.39 461.60,69.91 C460.32,69.43 459.35,68.58 458.85,67.44 C458.35,66.29 458.39,64.32 458.57,63.03 Z" fill="#e8ecf8" stroke="#a9b7e2" stroke-width="0.35" />
<path d="M462.22,63.66 C462.31,63.00 462.52,62.39 462.92,61.98 C463.32,61.57 463.95,61.33 464.60,61.19 C465.25,61.05 466.14,61.03 466.84,61.14 C467.54,61.24 468.31,61.46 468.80,61.84 C469.29,62.21 469.67,62.79 469.81,63.38 C469.95,63.96 469.85,64.78 469.64,65.34 C469.43,65.90 469.08,66.40 468.52,66.74 C467.96,67.07 467.07,67.28 466.28,67.35 C465.49,67.42 464.41,67.40 463.76,67.16 C463.11,66.91 462.62,66.48 462.36,65.90 C462.10,65.31 462.13,64.31 462.22,63.66 Z" fill="#fbfcff" stroke="none" stroke-width="0.5" filter="url(#b05)" opacity="1.0"/>
<path d="M477.94,34.55 C479.44,32.65 482.42,29.06 484.67,29.17 C486.91,29.28 490.16,32.31 491.40,35.23 C492.63,38.14 492.63,43.30 492.07,46.67 C491.51,50.03 489.94,53.84 488.03,55.41 C486.12,56.98 482.65,57.10 480.63,56.09 C478.61,55.08 476.75,51.94 475.92,49.36 C475.09,46.78 475.31,43.08 475.65,40.61 C475.99,38.14 476.43,36.46 477.94,34.55 Z" fill="#a6b6e4" stroke="none" stroke-width="0.5" filter="url(#b2)" opacity="0.75"/>
<path d="M480.22,37.24 C481.26,35.52 483.59,33.95 485.07,34.28 C486.55,34.62 488.50,37.09 489.11,39.26 C489.71,41.44 489.38,45.21 488.70,47.34 C488.03,49.47 486.35,51.49 485.07,52.05 C483.79,52.61 482.06,51.94 481.03,50.70 C480.00,49.47 479.01,46.89 478.88,44.65 C478.74,42.40 479.19,38.97 480.22,37.24 Z" fill="#5f7bc6" stroke="none" stroke-width="0.5" filter="url(#b15)" opacity="0.7"/>
</g>
<path d="M470.53,19.75 L501.49,19.75 L501.49,61.47 L484.67,61.47 L470.53,47.34 Z" fill="none" stroke="#d23c55" stroke-width="0.8" stroke-linejoin="round" />
<path d="M451.02,48.01 L470.53,48.01 L484.67,61.47 L484.67,80.99" fill="none" stroke="#d23c55" stroke-width="0.8" stroke-linejoin="round" />
<text x="473.00" y="18.90" font-size="5.8" fill="#161616" style="color:#161616" text-anchor="start" textLength="27.80" lengthAdjust="spacingAndGlyphs" >Eosinophils</text>
<text x="492.00" y="25.60" font-size="5.8" fill="#161616" style="color:#161616" text-anchor="start" textLength="6.80" lengthAdjust="spacingAndGlyphs" >2%</text>
<text x="472.50" y="80.20" font-size="5.8" fill="#161616" style="color:#161616" text-anchor="start" textLength="39.00" lengthAdjust="spacingAndGlyphs" >98% Neutrophils</text>
<rect x="451.30" y="13.30" width="68.10" height="68.20" fill="none" stroke="#4a4a4a" stroke-width="0.95" />
</g>
<text x="448.00" y="21.70" font-size="5.5" fill="#161616" style="color:#161616" text-anchor="end" >10<tspan font-size="3.85" dy="-2.48">5</tspan></text>
<line x1="449.80" y1="19.90" x2="451.30" y2="19.90" stroke="#333" stroke-width="0.5" />
<text x="448.00" y="37.10" font-size="5.5" fill="#161616" style="color:#161616" text-anchor="end" >10<tspan font-size="3.85" dy="-2.48">4</tspan></text>
<line x1="449.80" y1="35.30" x2="451.30" y2="35.30" stroke="#333" stroke-width="0.5" />
<text x="448.00" y="53.60" font-size="5.5" fill="#161616" style="color:#161616" text-anchor="end" >10<tspan font-size="3.85" dy="-2.48">3</tspan></text>
<line x1="449.80" y1="51.80" x2="451.30" y2="51.80" stroke="#333" stroke-width="0.5" />
<text x="448.00" y="71.40" font-size="5.5" fill="#161616" style="color:#161616" text-anchor="end" >0</text>
<line x1="449.80" y1="69.60" x2="451.30" y2="69.60" stroke="#333" stroke-width="0.5" />
<rect x="449.90" y="68.70" width="1.4" height="1.8" fill="#111"/>
<text x="465.20" y="89.60" font-size="5.5" fill="#161616" style="color:#161616" text-anchor="middle" >0</text>
<line x1="465.20" y1="81.50" x2="465.20" y2="83.00" stroke="#333" stroke-width="0.5" />
<rect x="464.30" y="81.50" width="1.8" height="1.4" fill="#111"/>
<text x="478.40" y="89.60" font-size="5.5" fill="#161616" style="color:#161616" text-anchor="middle" >10<tspan font-size="3.85" dy="-2.48">3</tspan></text>
<line x1="478.40" y1="81.50" x2="478.40" y2="83.00" stroke="#333" stroke-width="0.5" />
<text x="497.60" y="89.60" font-size="5.5" fill="#161616" style="color:#161616" text-anchor="middle" >10<tspan font-size="3.85" dy="-2.48">4</tspan></text>
<line x1="497.60" y1="81.50" x2="497.60" y2="83.00" stroke="#333" stroke-width="0.5" />
<text x="512.60" y="89.60" font-size="5.5" fill="#161616" style="color:#161616" text-anchor="middle" >10<tspan font-size="3.85" dy="-2.48">5</tspan></text>
<line x1="512.60" y1="81.50" x2="512.60" y2="83.00" stroke="#333" stroke-width="0.5" />
<line x1="434.40" y1="22.70" x2="434.40" y2="66.00" stroke="#333" stroke-width="0.5" />
<path d="M433.30,23.30 L434.40,20.70 L435.50,23.30 Z" fill="#111"/>
<text x="436.10" y="73.00" font-size="5.5" fill="#222" style="color:#222" text-anchor="middle" font-weight="bold" textLength="8.00" lengthAdjust="spacingAndGlyphs" transform="rotate(-90 436.10 73.00)" >IL-5</text>
<text x="431.50" y="49.00" font-size="5.5" fill="#333" style="color:#333" text-anchor="middle" textLength="10.00" lengthAdjust="spacingAndGlyphs" transform="rotate(-90 431.50 49.00)" >(PE)</text>
<line x1="512.00" y1="99.50" x2="477.60" y2="99.50" stroke="#333" stroke-width="0.5" />
<path d="M511.40,98.40 L514.00,99.50 L511.40,100.60 Z" fill="#111"/>
<text x="460.00" y="101.20" font-size="5.5" fill="#222" style="color:#222" text-anchor="start" font-weight="bold" textLength="15.80" lengthAdjust="spacingAndGlyphs" >Siglec-8</text>
<text x="495.75" y="96.70" font-size="5.5" fill="#333" style="color:#333" text-anchor="middle" textLength="21.50" lengthAdjust="spacingAndGlyphs" >(PE-Cy5)</text>
<g>
<clipPath id="c6"><rect x="32.50" y="132.50" width="68.30" height="68.30"/></clipPath><g clip-path="url(#c6)">
<path d="M39.70,190.25 C39.93,188.40 45.12,186.67 47.31,184.71 C49.51,182.75 50.89,180.90 52.85,178.48 C54.82,176.05 57.01,172.75 59.09,170.17 C61.16,167.58 63.24,164.93 65.32,162.96 C67.40,161.00 69.36,159.50 71.55,158.39 C73.74,157.29 76.28,156.32 78.48,156.32 C80.67,156.32 83.14,156.78 84.71,158.39 C86.28,160.01 87.50,163.01 87.89,166.01 C88.29,169.01 87.94,173.40 87.06,176.40 C86.19,179.40 84.41,181.78 82.63,184.02 C80.85,186.26 78.59,187.99 76.40,189.83 C74.21,191.68 71.85,193.57 69.47,195.10 C67.10,196.62 64.67,198.28 62.13,198.98 C59.59,199.67 56.94,199.78 54.24,199.25 C51.54,198.72 48.35,197.29 45.93,195.79 C43.50,194.29 39.46,192.10 39.70,190.25 Z" fill="#a3b3e3" stroke="none" stroke-width="0.5" filter="url(#b2)" opacity="0.8"/>
<path d="M41.77,189.56 C41.77,188.06 46.04,187.02 48.01,185.40 C49.97,183.79 51.58,182.17 53.55,179.86 C55.51,177.55 57.70,174.09 59.78,171.55 C61.86,169.01 64.05,166.47 66.01,164.63 C67.97,162.78 69.59,161.51 71.55,160.47 C73.51,159.43 75.82,158.51 77.78,158.39 C79.75,158.28 81.94,158.51 83.32,159.78 C84.71,161.05 85.75,163.36 86.09,166.01 C86.44,168.67 86.21,172.94 85.40,175.71 C84.59,178.48 82.86,180.55 81.25,182.63 C79.63,184.71 77.78,186.33 75.71,188.17 C73.63,190.02 71.09,192.14 68.78,193.71 C66.47,195.28 64.16,196.90 61.86,197.59 C59.55,198.28 57.24,198.40 54.93,197.87 C52.62,197.34 50.20,195.79 48.01,194.40 C45.81,193.02 41.77,191.06 41.77,189.56 Z" fill="#4767bb" stroke="none" stroke-width="0.5" filter="url(#b1)" opacity="0.92"/>
<path d="M54.65,190.94 C54.42,189.14 54.42,187.71 55.62,185.40 C56.82,183.09 59.89,179.28 61.86,177.09 C63.82,174.90 65.78,173.21 67.40,172.24 C69.01,171.27 70.28,171.16 71.55,171.27 C72.82,171.39 74.32,171.85 75.01,172.94 C75.71,174.02 76.28,175.82 75.71,177.78 C75.13,179.75 73.28,182.29 71.55,184.71 C69.82,187.13 67.05,190.41 65.32,192.33 C63.59,194.24 62.55,195.56 61.16,196.20 C59.78,196.85 58.09,197.08 57.01,196.20 C55.92,195.33 54.88,192.74 54.65,190.94 Z" fill="#d7def3" stroke="none" stroke-width="0.5" filter="url(#b05)" opacity="1.0"/>
<path d="M57.70,190.94 C57.70,189.67 57.77,188.06 58.81,186.09 C59.85,184.13 62.32,181.02 63.93,179.17 C65.55,177.32 67.23,175.78 68.50,175.01 C69.77,174.25 70.77,174.25 71.55,174.60 C72.34,174.94 73.44,175.64 73.21,177.09 C72.98,178.55 71.48,181.20 70.17,183.32 C68.85,185.45 66.75,188.15 65.32,189.83 C63.89,191.52 62.66,192.79 61.58,193.43 C60.49,194.08 59.46,194.13 58.81,193.71 C58.16,193.30 57.70,192.21 57.70,190.94 Z" fill="#f1f4fc" stroke="none" stroke-width="0.5" filter="url(#b05)" opacity="1.0"/>
<path d="M56.04,191.22 C55.97,189.65 55.85,187.89 57.01,185.68 C58.16,183.46 61.14,179.93 62.96,177.92 C64.79,175.91 66.47,174.46 67.95,173.63 C69.43,172.80 70.77,172.71 71.83,172.94 C72.89,173.17 73.91,174.09 74.32,175.01 C74.74,175.94 74.92,176.93 74.32,178.48 C73.72,180.02 72.29,182.12 70.72,184.29 C69.15,186.46 66.52,189.70 64.90,191.50 C63.29,193.30 62.27,194.50 61.02,195.10 C59.78,195.70 58.25,195.74 57.42,195.10 C56.59,194.45 56.11,192.79 56.04,191.22 Z" fill="none" stroke="#8a9ed6" stroke-width="0.45" />
</g>
<path d="M65.32,143.85 L95.10,143.85 L95.10,183.32 L65.32,183.32 Z" fill="none" stroke="#d23c55" stroke-width="0.8" stroke-linejoin="round" />
<line x1="66.29" y1="174.04" x2="71.27" y2="181.52" stroke="#d23c55" stroke-width="0.8" />
<text x="66.70" y="141.60" font-size="5.6" fill="#161616" style="color:#161616" text-anchor="start" >NE<tspan font-size="3.5" dy="-2">hi</tspan><tspan dy="2">/CD10</tspan><tspan font-size="3.5" dy="-2">hi</tspan></text>
<text x="84.00" y="149.40" font-size="5.6" fill="#161616" style="color:#161616" text-anchor="start" textLength="10.00" lengthAdjust="spacingAndGlyphs" >12%</text>
<rect x="32.50" y="132.50" width="68.30" height="68.30" fill="none" stroke="#4a4a4a" stroke-width="0.95" />
</g>
<text x="29.80" y="140.60" font-size="5.5" fill="#161616" style="color:#161616" text-anchor="end" >10<tspan font-size="3.85" dy="-2.48">5</tspan></text>
<line x1="31.00" y1="138.80" x2="32.50" y2="138.80" stroke="#333" stroke-width="0.5" />
<text x="29.80" y="156.60" font-size="5.5" fill="#161616" style="color:#161616" text-anchor="end" >10<tspan font-size="3.85" dy="-2.48">4</tspan></text>
<line x1="31.00" y1="154.80" x2="32.50" y2="154.80" stroke="#333" stroke-width="0.5" />
<text x="29.80" y="173.40" font-size="5.5" fill="#161616" style="color:#161616" text-anchor="end" >10<tspan font-size="3.85" dy="-2.48">3</tspan></text>
<line x1="31.00" y1="171.60" x2="32.50" y2="171.60" stroke="#333" stroke-width="0.5" />
<text x="29.80" y="189.40" font-size="5.5" fill="#161616" style="color:#161616" text-anchor="end" >0</text>
<line x1="31.00" y1="187.60" x2="32.50" y2="187.60" stroke="#333" stroke-width="0.5" />
<rect x="31.10" y="186.70" width="1.4" height="1.8" fill="#111"/>
<text x="40.20" y="208.80" font-size="5.5" fill="#161616" style="color:#161616" text-anchor="middle" >0</text>
<line x1="40.20" y1="200.80" x2="40.20" y2="202.30" stroke="#333" stroke-width="0.5" />
<rect x="39.30" y="200.80" width="1.8" height="1.4" fill="#111"/>
<text x="62.30" y="208.80" font-size="5.5" fill="#161616" style="color:#161616" text-anchor="middle" >10<tspan font-size="3.85" dy="-2.48">3</tspan></text>
<line x1="62.30" y1="200.80" x2="62.30" y2="202.30" stroke="#333" stroke-width="0.5" />
<text x="77.70" y="208.80" font-size="5.5" fill="#161616" style="color:#161616" text-anchor="middle" >10<tspan font-size="3.85" dy="-2.48">4</tspan></text>
<line x1="77.70" y1="200.80" x2="77.70" y2="202.30" stroke="#333" stroke-width="0.5" />
<text x="93.00" y="208.80" font-size="5.5" fill="#161616" style="color:#161616" text-anchor="middle" >10<tspan font-size="3.85" dy="-2.48">5</tspan></text>
<line x1="93.00" y1="200.80" x2="93.00" y2="202.30" stroke="#333" stroke-width="0.5" />
<line x1="15.60" y1="140.40" x2="15.60" y2="181.50" stroke="#333" stroke-width="0.5" />
<path d="M14.50,141.00 L15.60,138.40 L16.70,141.00 Z" fill="#111"/>
<text x="17.30" y="188.30" font-size="5.5" fill="#222" style="color:#222" text-anchor="middle" font-weight="bold" textLength="10.20" lengthAdjust="spacingAndGlyphs" transform="rotate(-90 17.30 188.30)" >CD10</text>
<text x="12.50" y="161.20" font-size="5.5" fill="#333" style="color:#333" text-anchor="middle" textLength="24.40" lengthAdjust="spacingAndGlyphs" transform="rotate(-90 12.50 161.20)" >(PE-Cy5.5)</text>
<line x1="92.00" y1="219.50" x2="42.80" y2="219.50" stroke="#333" stroke-width="0.5" />
<path d="M91.40,218.40 L94.00,219.50 L91.40,220.60 Z" fill="#111"/>
<text x="36.30" y="221.20" font-size="5.5" fill="#222" style="color:#222" text-anchor="start" font-weight="bold" textLength="4.70" lengthAdjust="spacingAndGlyphs" >NE</text>
<text x="69.05" y="216.40" font-size="5.5" fill="#333" style="color:#333" text-anchor="middle" textLength="19.30" lengthAdjust="spacingAndGlyphs" >(AF488)</text>
<g>
<clipPath id="c7"><rect x="136.90" y="132.70" width="68.60" height="68.10"/></clipPath><g clip-path="url(#c7)">
<path d="M145.15,189.22 C145.26,186.71 147.00,183.77 149.07,180.72 C151.14,177.67 154.52,173.86 157.57,170.92 C160.62,167.97 164.43,165.29 167.37,163.07 C170.31,160.85 172.49,158.71 175.22,157.58 C177.94,156.45 181.10,155.75 183.71,156.27 C186.33,156.80 189.44,158.28 190.90,160.72 C192.36,163.16 192.64,167.58 192.47,170.92 C192.30,174.25 191.21,177.71 189.86,180.72 C188.51,183.73 186.70,186.45 184.37,188.95 C182.03,191.46 178.70,193.86 175.87,195.75 C173.04,197.65 170.64,199.63 167.37,200.33 C164.10,201.02 159.42,200.70 156.26,199.93 C153.10,199.17 150.27,197.54 148.42,195.75 C146.57,193.97 145.04,191.72 145.15,189.22 Z" fill="#a3b3e3" stroke="none" stroke-width="0.5" filter="url(#b2)" opacity="0.8"/>
<path d="M147.76,188.95 C147.94,186.95 149.57,184.38 151.42,181.76 C153.28,179.15 156.11,175.95 158.88,173.27 C161.64,170.59 165.26,167.78 168.03,165.69 C170.79,163.59 173.02,161.76 175.48,160.72 C177.94,159.67 180.62,159.06 182.80,159.41 C184.98,159.76 187.42,160.89 188.55,162.81 C189.68,164.73 189.81,168.08 189.59,170.92 C189.38,173.75 188.51,177.08 187.24,179.80 C185.98,182.53 184.06,185.03 182.01,187.25 C179.97,189.48 177.39,191.46 174.95,193.14 C172.51,194.81 170.27,196.67 167.37,197.32 C164.47,197.97 160.40,197.65 157.57,197.06 C154.74,196.47 152.01,195.14 150.38,193.79 C148.75,192.44 147.59,190.96 147.76,188.95 Z" fill="#4767bb" stroke="none" stroke-width="0.5" filter="url(#b15)" opacity="0.9"/>
<path d="M160.18,187.91 C160.51,185.51 160.95,181.26 162.14,178.76 C163.34,176.25 165.41,174.62 167.37,172.88 C169.33,171.13 172.06,168.95 173.91,168.30 C175.76,167.65 177.39,167.86 178.48,168.95 C179.57,170.04 180.55,172.55 180.44,174.84 C180.34,177.12 178.92,180.07 177.83,182.68 C176.74,185.29 175.22,188.24 173.91,190.52 C172.60,192.81 171.62,195.32 169.99,196.41 C168.35,197.49 165.74,197.60 164.10,197.06 C162.47,196.51 160.84,194.66 160.18,193.14 C159.53,191.61 159.86,190.31 160.18,187.91 Z" fill="#d7def3" stroke="none" stroke-width="0.5" filter="url(#b05)" opacity="1.0"/>
<path d="M163.45,188.56 C163.49,186.38 164.04,182.90 165.02,180.72 C166.00,178.54 167.74,176.91 169.33,175.49 C170.92,174.07 173.19,172.55 174.56,172.22 C175.93,171.90 176.98,172.55 177.57,173.53 C178.16,174.51 178.48,176.25 178.09,178.10 C177.70,179.96 176.31,182.40 175.22,184.64 C174.13,186.88 172.75,189.93 171.56,191.57 C170.36,193.20 169.16,194.07 168.03,194.44 C166.89,194.81 165.52,194.77 164.76,193.79 C164.00,192.81 163.41,190.74 163.45,188.56 Z" fill="#eef1fb" stroke="none" stroke-width="0.5" filter="url(#b05)" opacity="1.0"/>
<path d="M161.88,189.22 C161.71,186.56 162.58,182.31 163.71,179.80 C164.85,177.30 166.94,175.71 168.68,174.18 C170.42,172.66 172.60,171.09 174.17,170.65 C175.74,170.22 177.26,170.54 178.09,171.57 C178.92,172.59 179.44,174.77 179.14,176.80 C178.83,178.82 177.35,181.33 176.26,183.73 C175.17,186.12 173.82,189.22 172.60,191.18 C171.38,193.14 170.25,194.73 168.94,195.49 C167.63,196.25 165.93,196.80 164.76,195.75 C163.58,194.71 162.06,191.87 161.88,189.22 Z" fill="none" stroke="#8a9ed6" stroke-width="0.45" />
</g>
<path d="M171.40,143.16 L201.87,143.16 L201.87,183.32 L178.32,183.32 L171.40,171.55 Z" fill="none" stroke="#d23c55" stroke-width="0.8" stroke-linejoin="round" />
<text x="166.50" y="141.60" font-size="5.6" fill="#161616" style="color:#161616" text-anchor="start" >NE<tspan font-size="3.5" dy="-2">hi</tspan><tspan dy="2">/CXCR4</tspan><tspan font-size="3.5" dy="-2">hi</tspan></text>
<text x="188.70" y="148.60" font-size="5.6" fill="#161616" style="color:#161616" text-anchor="start" textLength="10.00" lengthAdjust="spacingAndGlyphs" >14%</text>
<rect x="136.90" y="132.70" width="68.60" height="68.10" fill="none" stroke="#4a4a4a" stroke-width="0.95" />
</g>
<text x="134.20" y="140.60" font-size="5.5" fill="#161616" style="color:#161616" text-anchor="end" >10<tspan font-size="3.85" dy="-2.48">5</tspan></text>
<line x1="135.40" y1="138.80" x2="136.90" y2="138.80" stroke="#333" stroke-width="0.5" />
<text x="134.20" y="156.60" font-size="5.5" fill="#161616" style="color:#161616" text-anchor="end" >10<tspan font-size="3.85" dy="-2.48">4</tspan></text>
<line x1="135.40" y1="154.80" x2="136.90" y2="154.80" stroke="#333" stroke-width="0.5" />
<text x="134.20" y="173.10" font-size="5.5" fill="#161616" style="color:#161616" text-anchor="end" >10<tspan font-size="3.85" dy="-2.48">3</tspan></text>
<line x1="135.40" y1="171.30" x2="136.90" y2="171.30" stroke="#333" stroke-width="0.5" />
<text x="134.20" y="190.10" font-size="5.5" fill="#161616" style="color:#161616" text-anchor="end" >0</text>
<line x1="135.40" y1="188.30" x2="136.90" y2="188.30" stroke="#333" stroke-width="0.5" />
<rect x="135.50" y="187.40" width="1.4" height="1.8" fill="#111"/>
<text x="145.00" y="208.80" font-size="5.5" fill="#161616" style="color:#161616" text-anchor="middle" >0</text>
<line x1="145.00" y1="200.80" x2="145.00" y2="202.30" stroke="#333" stroke-width="0.5" />
<rect x="144.10" y="200.80" width="1.8" height="1.4" fill="#111"/>
<text x="166.20" y="208.80" font-size="5.5" fill="#161616" style="color:#161616" text-anchor="middle" >10<tspan font-size="3.85" dy="-2.48">3</tspan></text>
<line x1="166.20" y1="200.80" x2="166.20" y2="202.30" stroke="#333" stroke-width="0.5" />
<text x="182.50" y="208.80" font-size="5.5" fill="#161616" style="color:#161616" text-anchor="middle" >10<tspan font-size="3.85" dy="-2.48">4</tspan></text>
<line x1="182.50" y1="200.80" x2="182.50" y2="202.30" stroke="#333" stroke-width="0.5" />
<text x="197.90" y="208.80" font-size="5.5" fill="#161616" style="color:#161616" text-anchor="middle" >10<tspan font-size="3.85" dy="-2.48">5</tspan></text>
<line x1="197.90" y1="200.80" x2="197.90" y2="202.30" stroke="#333" stroke-width="0.5" />
<line x1="120.40" y1="140.80" x2="120.40" y2="179.60" stroke="#333" stroke-width="0.5" />
<path d="M119.30,141.40 L120.40,138.80 L121.50,141.40 Z" fill="#111"/>
<text x="122.10" y="187.95" font-size="5.5" fill="#222" style="color:#222" text-anchor="middle" font-weight="bold" textLength="10.90" lengthAdjust="spacingAndGlyphs" transform="rotate(-90 122.10 187.95)" >CD184</text>
<text x="117.30" y="159.20" font-size="5.5" fill="#333" style="color:#333" text-anchor="middle" textLength="20.40" lengthAdjust="spacingAndGlyphs" transform="rotate(-90 117.30 159.20)" >(PE-Cy7)</text>
<line x1="196.80" y1="219.50" x2="149.80" y2="219.50" stroke="#333" stroke-width="0.5" />
<path d="M196.20,218.40 L198.80,219.50 L196.20,220.60 Z" fill="#111"/>
<text x="142.00" y="221.20" font-size="5.5" fill="#222" style="color:#222" text-anchor="start" font-weight="bold" textLength="6.00" lengthAdjust="spacingAndGlyphs" >NE</text>
<text x="174.25" y="216.20" font-size="5.5" fill="#333" style="color:#333" text-anchor="middle" textLength="18.50" lengthAdjust="spacingAndGlyphs" >(AF488)</text>
<g>
<clipPath id="c8"><rect x="242.10" y="132.50" width="68.40" height="68.30"/></clipPath><g clip-path="url(#c8)">
<path d="M255.53,186.37 C256.25,184.04 258.94,178.84 260.92,176.15 C262.89,173.46 265.04,171.48 267.38,170.23 C269.71,168.97 272.04,168.79 274.91,168.61 C277.78,168.43 281.73,168.52 284.60,169.15 C287.47,169.78 290.34,170.32 292.13,172.38 C293.93,174.44 295.18,178.75 295.36,181.53 C295.54,184.31 295.00,187.27 293.21,189.06 C291.42,190.86 287.65,191.75 284.60,192.29 C281.55,192.83 278.50,192.38 274.91,192.29 C271.32,192.20 266.12,192.11 263.07,191.75 C260.02,191.40 257.87,191.04 256.61,190.14 C255.36,189.24 254.82,188.70 255.53,186.37 Z" fill="#b4c2ea" stroke="none" stroke-width="0.5" filter="url(#b2)" opacity="0.75"/>
<path d="M257.69,185.83 C258.23,184.31 260.38,180.36 261.99,178.30 C263.61,176.24 265.22,174.53 267.38,173.46 C269.53,172.38 272.22,172.02 274.91,171.84 C277.60,171.66 281.01,171.84 283.52,172.38 C286.03,172.92 288.55,173.55 289.98,175.07 C291.42,176.59 292.04,179.56 292.13,181.53 C292.22,183.50 291.77,185.65 290.52,186.91 C289.26,188.17 287.20,188.67 284.60,189.06 C282.00,189.46 278.32,189.31 274.91,189.28 C271.50,189.24 266.84,189.15 264.15,188.85 C261.46,188.54 259.84,187.95 258.76,187.45 C257.69,186.95 257.15,187.36 257.69,185.83 Z" fill="#d6ddf3" stroke="#4f69bb" stroke-width="0.7" />
<path d="M261.99,185.30 C262.44,184.13 264.33,180.94 265.76,179.38 C267.20,177.81 268.81,176.65 270.60,175.93 C272.40,175.21 274.37,175.07 276.53,175.07 C278.68,175.07 281.64,175.30 283.52,175.93 C285.41,176.56 287.02,177.64 287.83,178.84 C288.64,180.04 288.72,181.98 288.37,183.14 C288.01,184.31 287.20,185.24 285.67,185.83 C284.15,186.43 281.91,186.55 279.22,186.70 C276.53,186.84 272.22,186.75 269.53,186.70 C266.84,186.64 264.33,186.61 263.07,186.37 C261.81,186.14 261.55,186.46 261.99,185.30 Z" fill="#dfe4f5" stroke="#7d92d0" stroke-width="0.45" />
<path d="M267.38,184.22 C267.56,183.47 269.26,181.44 270.60,180.45 C271.95,179.47 273.65,178.57 275.45,178.30 C277.24,178.03 279.84,178.30 281.37,178.84 C282.89,179.38 284.42,180.63 284.60,181.53 C284.78,182.43 283.79,183.65 282.45,184.22 C281.10,184.79 278.68,184.85 276.53,184.97 C274.37,185.10 271.05,185.10 269.53,184.97 C268.00,184.85 267.20,184.97 267.38,184.22 Z" fill="#e8ecf8" stroke="#97a8da" stroke-width="0.4" />
<path d="M271.14,182.07 C271.05,181.44 273.12,180.18 274.37,179.91 C275.63,179.64 277.87,179.97 278.68,180.45 C279.49,180.94 279.84,182.28 279.22,182.82 C278.59,183.36 276.26,183.81 274.91,183.68 C273.57,183.56 271.23,182.69 271.14,182.07 Z" fill="#fafbff" stroke="none" stroke-width="0.5" filter="url(#b05)" opacity="1.0"/>
</g>
<path d="M242.08,180.55 L253.16,180.55 L260.78,192.33 L260.78,199.94" fill="none" stroke="#d23c55" stroke-width="0.8" stroke-linejoin="round" />
<text x="242.00" y="173.50" font-size="5.6" fill="#161616" style="color:#161616" text-anchor="start" textLength="12.50" lengthAdjust="spacingAndGlyphs" >ICS-</text>
<text x="243.50" y="180.00" font-size="5.6" fill="#161616" style="color:#161616" text-anchor="start" textLength="7.00" lengthAdjust="spacingAndGlyphs" >1%</text>
<rect x="242.10" y="132.50" width="68.40" height="68.30" fill="none" stroke="#4a4a4a" stroke-width="0.95" />
</g>
<text x="239.50" y="140.60" font-size="5.5" fill="#161616" style="color:#161616" text-anchor="end" >10<tspan font-size="3.85" dy="-2.48">5</tspan></text>
<line x1="240.60" y1="138.80" x2="242.10" y2="138.80" stroke="#333" stroke-width="0.5" />
<text x="239.50" y="156.60" font-size="5.5" fill="#161616" style="color:#161616" text-anchor="end" >10<tspan font-size="3.85" dy="-2.48">4</tspan></text>
<line x1="240.60" y1="154.80" x2="242.10" y2="154.80" stroke="#333" stroke-width="0.5" />
<text x="239.50" y="173.10" font-size="5.5" fill="#161616" style="color:#161616" text-anchor="end" >10<tspan font-size="3.85" dy="-2.48">3</tspan></text>
<line x1="240.60" y1="171.30" x2="242.10" y2="171.30" stroke="#333" stroke-width="0.5" />
<text x="239.50" y="190.10" font-size="5.5" fill="#161616" style="color:#161616" text-anchor="end" >0</text>
<line x1="240.60" y1="188.30" x2="242.10" y2="188.30" stroke="#333" stroke-width="0.5" />
<rect x="240.70" y="187.40" width="1.4" height="1.8" fill="#111"/>
<text x="252.00" y="208.80" font-size="5.5" fill="#161616" style="color:#161616" text-anchor="middle" >0</text>
<line x1="252.00" y1="200.80" x2="252.00" y2="202.30" stroke="#333" stroke-width="0.5" />
<rect x="251.10" y="200.80" width="1.8" height="1.4" fill="#111"/>
<text x="272.00" y="208.80" font-size="5.5" fill="#161616" style="color:#161616" text-anchor="middle" >10<tspan font-size="3.85" dy="-2.48">3</tspan></text>
<line x1="272.00" y1="200.80" x2="272.00" y2="202.30" stroke="#333" stroke-width="0.5" />
<text x="287.50" y="208.80" font-size="5.5" fill="#161616" style="color:#161616" text-anchor="middle" >10<tspan font-size="3.85" dy="-2.48">4</tspan></text>
<line x1="287.50" y1="200.80" x2="287.50" y2="202.30" stroke="#333" stroke-width="0.5" />
<text x="303.00" y="208.80" font-size="5.5" fill="#161616" style="color:#161616" text-anchor="middle" >10<tspan font-size="3.85" dy="-2.48">5</tspan></text>
<line x1="303.00" y1="200.80" x2="303.00" y2="202.30" stroke="#333" stroke-width="0.5" />
<line x1="224.70" y1="140.80" x2="224.70" y2="186.00" stroke="#333" stroke-width="0.5" />
<path d="M223.60,141.40 L224.70,138.80 L225.80,141.40 Z" fill="#111"/>
<text x="226.40" y="193.00" font-size="5.5" fill="#222" style="color:#222" text-anchor="middle" font-weight="bold" textLength="8.00" lengthAdjust="spacingAndGlyphs" transform="rotate(-90 226.40 193.00)" >IL-6</text>
<text x="221.90" y="163.60" font-size="5.5" fill="#333" style="color:#333" text-anchor="middle" textLength="8.80" lengthAdjust="spacingAndGlyphs" transform="rotate(-90 221.90 163.60)" >(PE)</text>
<line x1="301.80" y1="219.50" x2="258.50" y2="219.50" stroke="#333" stroke-width="0.5" />
<path d="M301.20,218.40 L303.80,219.50 L301.20,220.60 Z" fill="#111"/>
<text x="249.00" y="221.20" font-size="5.5" fill="#222" style="color:#222" text-anchor="start" font-weight="bold" textLength="7.70" lengthAdjust="spacingAndGlyphs" >IL-8</text>
<text x="280.65" y="216.20" font-size="5.5" fill="#333" style="color:#333" text-anchor="middle" textLength="26.70" lengthAdjust="spacingAndGlyphs" >(PE-CF594)</text>
<g>
<clipPath id="c9"><rect x="346.70" y="132.50" width="68.60" height="68.20"/></clipPath><g clip-path="url(#c9)">
<path d="M370.58,163.95 C371.60,161.35 373.83,158.39 375.59,157.27 C377.35,156.16 379.77,155.42 381.16,157.27 C382.55,159.13 383.20,164.70 383.94,168.41 C384.68,172.12 385.33,176.20 385.61,179.54 C385.89,182.88 386.73,186.60 385.61,188.45 C384.50,190.31 381.16,191.42 378.93,190.68 C376.70,189.94 373.83,186.97 372.25,184.00 C370.67,181.03 369.74,176.20 369.47,172.86 C369.19,169.52 369.56,166.55 370.58,163.95 Z" fill="#a9b8e5" stroke="none" stroke-width="0.5" filter="url(#b2)" opacity="0.75"/>
<path d="M380.04,161.73 C380.51,158.57 380.97,154.30 382.27,151.70 C383.57,149.11 385.89,147.21 387.84,146.14 C389.79,145.06 391.83,144.87 393.96,145.24 C396.10,145.62 398.70,146.36 400.65,148.36 C402.59,150.37 404.64,154.12 405.66,157.27 C406.68,160.43 406.96,163.95 406.77,167.29 C406.59,170.63 405.84,174.25 404.54,177.32 C403.24,180.38 401.02,183.90 398.98,185.67 C396.93,187.43 394.52,187.90 392.29,187.90 C390.07,187.90 387.47,187.06 385.61,185.67 C383.76,184.28 382.18,182.05 381.16,179.54 C380.14,177.04 379.67,173.60 379.49,170.63 C379.30,167.67 379.58,164.88 380.04,161.73 Z" fill="#b9c6ec" stroke="none" stroke-width="0.5" filter="url(#b2)" opacity="0.8"/>
<path d="M382.27,162.84 C382.64,160.06 383.01,156.25 383.94,153.93 C384.87,151.61 386.26,149.94 387.84,148.92 C389.42,147.90 391.55,147.53 393.41,147.81 C395.26,148.08 397.40,149.01 398.98,150.59 C400.55,152.17 402.04,154.67 402.87,157.27 C403.71,159.87 404.08,163.21 403.99,166.18 C403.89,169.15 403.34,172.31 402.32,175.09 C401.30,177.87 399.53,181.21 397.86,182.88 C396.19,184.55 394.15,185.11 392.29,185.11 C390.44,185.11 388.30,184.18 386.73,182.88 C385.15,181.59 383.66,179.36 382.83,177.32 C381.99,175.27 381.81,173.05 381.71,170.63 C381.62,168.22 381.90,165.62 382.27,162.84 Z" fill="#d5dcf2" stroke="#5b5a9e" stroke-width="0.8" />
<path d="M385.06,163.40 C385.39,161.08 385.71,157.59 386.50,155.60 C387.30,153.62 388.60,152.32 389.84,151.48 C391.09,150.65 392.57,150.33 393.96,150.59 C395.36,150.85 397.03,151.65 398.20,153.04 C399.37,154.43 400.44,156.66 400.98,158.94 C401.52,161.22 401.61,164.23 401.43,166.74 C401.24,169.24 400.74,171.75 399.87,173.98 C398.99,176.20 397.49,178.80 396.19,180.10 C394.89,181.40 393.46,181.83 392.07,181.77 C390.68,181.71 388.95,180.88 387.84,179.77 C386.73,178.65 385.95,176.80 385.39,175.09 C384.83,173.38 384.55,171.47 384.50,169.52 C384.44,167.57 384.72,165.72 385.06,163.40 Z" fill="#dbe1f4" stroke="#8597d2" stroke-width="0.45" />
<path d="M388.40,163.95 C388.64,162.00 388.86,159.35 389.51,157.83 C390.16,156.31 391.31,155.25 392.29,154.82 C393.28,154.39 394.48,154.39 395.41,155.27 C396.34,156.14 397.42,158.05 397.86,160.06 C398.31,162.06 398.36,165.07 398.08,167.29 C397.81,169.52 397.06,171.93 396.19,173.42 C395.32,174.90 393.96,176.11 392.85,176.20 C391.74,176.30 390.31,175.09 389.51,173.98 C388.71,172.86 388.25,171.19 388.06,169.52 C387.88,167.85 388.16,165.90 388.40,163.95 Z" fill="#e2e7f6" stroke="#9dacdc" stroke-width="0.4" />
<path d="M391.74,160.61 C392.02,158.76 392.91,158.20 393.41,158.39 C393.91,158.57 394.56,159.68 394.74,161.73 C394.93,163.77 394.78,168.78 394.52,170.63 C394.26,172.49 393.65,173.05 393.18,172.86 C392.72,172.68 391.98,171.56 391.74,169.52 C391.50,167.48 391.46,162.47 391.74,160.61 Z" fill="#fbfcff" stroke="none" stroke-width="0.5" filter="url(#b05)" opacity="1.0"/>
</g>
<path d="M380.70,138.31 L407.71,138.31 L407.71,186.09 L380.70,186.09 Z" fill="none" stroke="#d23c55" stroke-width="0.8" stroke-linejoin="round" />
<path d="M360.62,199.94 L360.62,179.17 L377.24,179.17 L377.24,199.94" fill="none" stroke="#d23c55" stroke-width="0.8" stroke-linejoin="round" />
<text x="381.40" y="137.40" font-size="5.0" fill="#161616" style="color:#161616" text-anchor="start" >IL-1<tspan font-size="3.5" dy="-2">+</tspan><tspan dy="2">/IL-8</tspan><tspan font-size="3.5" dy="-2">+</tspan></text>
<text x="395.00" y="144.40" font-size="5.6" fill="#161616" style="color:#161616" text-anchor="start" textLength="10.00" lengthAdjust="spacingAndGlyphs" >95%</text>
<text x="346.80" y="180.80" font-size="5.6" fill="#161616" style="color:#161616" text-anchor="start" textLength="11.50" lengthAdjust="spacingAndGlyphs" >ICS-</text>
<text x="351.60" y="188.00" font-size="5.6" fill="#161616" style="color:#161616" text-anchor="start" textLength="7.00" lengthAdjust="spacingAndGlyphs" >1%</text>
<rect x="346.70" y="132.50" width="68.60" height="68.20" fill="none" stroke="#4a4a4a" stroke-width="0.95" />
</g>
<text x="343.60" y="140.60" font-size="5.5" fill="#161616" style="color:#161616" text-anchor="end" >10<tspan font-size="3.85" dy="-2.48">5</tspan></text>
<line x1="345.20" y1="138.80" x2="346.70" y2="138.80" stroke="#333" stroke-width="0.5" />
<text x="343.60" y="156.60" font-size="5.5" fill="#161616" style="color:#161616" text-anchor="end" >10<tspan font-size="3.85" dy="-2.48">4</tspan></text>
<line x1="345.20" y1="154.80" x2="346.70" y2="154.80" stroke="#333" stroke-width="0.5" />
<text x="343.60" y="172.70" font-size="5.5" fill="#161616" style="color:#161616" text-anchor="end" >10<tspan font-size="3.85" dy="-2.48">3</tspan></text>
<line x1="345.20" y1="170.90" x2="346.70" y2="170.90" stroke="#333" stroke-width="0.5" />
<text x="343.60" y="191.60" font-size="5.5" fill="#161616" style="color:#161616" text-anchor="end" >0</text>
<line x1="345.20" y1="189.80" x2="346.70" y2="189.80" stroke="#333" stroke-width="0.5" />
<rect x="345.30" y="188.90" width="1.4" height="1.8" fill="#111"/>
<text x="354.60" y="208.80" font-size="5.5" fill="#161616" style="color:#161616" text-anchor="middle" >0</text>
<line x1="354.60" y1="200.70" x2="354.60" y2="202.20" stroke="#333" stroke-width="0.5" />
<rect x="353.70" y="200.70" width="1.8" height="1.4" fill="#111"/>
<text x="377.00" y="208.80" font-size="5.5" fill="#161616" style="color:#161616" text-anchor="middle" >10<tspan font-size="3.85" dy="-2.48">2</tspan></text>
<line x1="377.00" y1="200.70" x2="377.00" y2="202.20" stroke="#333" stroke-width="0.5" />
<text x="392.50" y="208.80" font-size="5.5" fill="#161616" style="color:#161616" text-anchor="middle" >10<tspan font-size="3.85" dy="-2.48">4</tspan></text>
<line x1="392.50" y1="200.70" x2="392.50" y2="202.20" stroke="#333" stroke-width="0.5" />
<text x="408.00" y="208.80" font-size="5.5" fill="#161616" style="color:#161616" text-anchor="middle" >10<tspan font-size="3.85" dy="-2.48">5</tspan></text>
<line x1="408.00" y1="200.70" x2="408.00" y2="202.20" stroke="#333" stroke-width="0.5" />
<line x1="329.70" y1="140.80" x2="329.70" y2="182.50" stroke="#333" stroke-width="0.5" />
<path d="M328.60,141.40 L329.70,138.80 L330.80,141.40 Z" fill="#111"/>
<text x="331.40" y="188.00" font-size="5.5" fill="#222" style="color:#222" text-anchor="middle" font-weight="bold" textLength="8.00" lengthAdjust="spacingAndGlyphs" transform="rotate(-90 331.40 188.00)" >IL-8</text>
<text x="326.30" y="161.00" font-size="5.5" fill="#333" style="color:#333" text-anchor="middle" textLength="30.00" lengthAdjust="spacingAndGlyphs" transform="rotate(-90 326.30 161.00)" >(PE-CF594)</text>
<line x1="406.80" y1="219.50" x2="363.50" y2="219.50" stroke="#333" stroke-width="0.5" />
<path d="M406.20,218.40 L408.80,219.50 L406.20,220.60 Z" fill="#111"/>
<text x="355.00" y="221.20" font-size="5.5" fill="#222" style="color:#222" text-anchor="start" font-weight="bold" textLength="6.70" lengthAdjust="spacingAndGlyphs" >IL-1</text>
<text x="386.65" y="216.20" font-size="5.5" fill="#333" style="color:#333" text-anchor="middle" textLength="30.70" lengthAdjust="spacingAndGlyphs" >(Pacific Blue)</text>
<g>
<clipPath id="c10"><rect x="451.50" y="132.60" width="67.90" height="68.20"/></clipPath><g clip-path="url(#c10)">
<path d="M451.31,151.99 C451.63,149.92 451.96,146.44 453.92,144.80 C455.88,143.17 459.59,142.52 463.07,142.19 C466.56,141.86 471.02,142.08 474.84,142.84 C478.65,143.61 482.68,145.02 485.95,146.76 C489.22,148.51 492.20,150.80 494.44,153.30 C496.69,155.81 498.71,159.40 499.41,161.80 C500.11,164.19 500.33,166.37 498.63,167.68 C496.93,168.99 492.96,169.53 489.22,169.64 C485.47,169.75 480.28,168.99 476.14,168.33 C472.00,167.68 467.76,166.92 464.38,165.72 C461.00,164.52 457.95,162.56 455.88,161.14 C453.81,159.73 452.72,158.75 451.96,157.22 C451.20,155.70 450.98,154.06 451.31,151.99 Z" fill="#b8c4ea" stroke="none" stroke-width="0.5" filter="url(#b2)" opacity="0.8"/>
<path d="M463.07,164.41 C465.47,164.30 473.75,166.15 478.76,167.68 C483.77,169.20 490.09,171.93 493.14,173.56 C496.19,175.20 497.71,176.83 497.06,177.48 C496.41,178.14 492.70,178.25 489.22,177.48 C485.73,176.72 480.28,174.43 476.14,172.91 C472.00,171.38 466.56,169.75 464.38,168.33 C462.20,166.92 460.68,164.52 463.07,164.41 Z" fill="#c7d0ef" stroke="none" stroke-width="0.5" filter="url(#b2)" opacity="0.55"/>
<path d="M453.27,153.30 C453.55,151.67 454.25,148.73 455.88,147.42 C457.52,146.11 460.13,145.68 463.07,145.46 C466.01,145.24 470.04,145.46 473.53,146.11 C477.02,146.76 480.94,147.96 483.99,149.38 C487.04,150.80 489.76,152.65 491.83,154.61 C493.90,156.57 495.71,159.36 496.41,161.14 C497.10,162.93 497.21,164.41 496.01,165.33 C494.81,166.24 492.20,166.63 489.22,166.63 C486.23,166.63 481.70,165.92 478.10,165.33 C474.51,164.74 470.81,164.02 467.65,163.10 C464.49,162.19 461.39,160.82 459.15,159.84 C456.91,158.86 455.16,158.31 454.18,157.22 C453.20,156.13 452.98,154.93 453.27,153.30 Z" fill="#d0d7f0" stroke="#7d8fcc" stroke-width="0.6" />
<path d="M457.19,153.30 C457.58,152.21 458.82,149.99 460.46,149.12 C462.09,148.25 464.49,148.12 466.99,148.07 C469.50,148.03 472.77,148.25 475.49,148.86 C478.21,149.47 481.05,150.51 483.33,151.73 C485.62,152.95 487.84,154.65 489.22,156.18 C490.59,157.70 491.68,159.79 491.57,160.88 C491.46,161.97 490.48,162.49 488.56,162.71 C486.64,162.93 483.01,162.58 480.07,162.19 C477.12,161.80 473.75,161.08 470.92,160.36 C468.08,159.64 465.21,158.66 463.07,157.88 C460.94,157.09 459.08,156.42 458.10,155.65 C457.12,154.89 456.80,154.39 457.19,153.30 Z" fill="#d9dff3" stroke="#95a5d9" stroke-width="0.45" />
<path d="M464.38,153.95 C465.25,153.21 468.52,151.93 470.92,151.73 C473.31,151.54 476.47,152.08 478.76,152.78 C481.05,153.47 483.55,154.85 484.64,155.92 C485.73,156.98 486.17,158.53 485.29,159.18 C484.42,159.84 481.70,159.99 479.41,159.84 C477.12,159.68 473.86,158.88 471.57,158.27 C469.28,157.66 466.88,156.90 465.69,156.18 C464.49,155.46 463.51,154.69 464.38,153.95 Z" fill="#e3e7f6" stroke="#a9b6e0" stroke-width="0.4" />
<path d="M472.88,155.26 C473.20,154.72 475.49,153.89 476.80,153.95 C478.10,154.02 480.28,155.07 480.72,155.65 C481.15,156.24 480.39,157.22 479.41,157.48 C478.43,157.75 475.93,157.59 474.84,157.22 C473.75,156.85 472.55,155.81 472.88,155.26 Z" fill="#f6f7fd" stroke="none" stroke-width="0.5" filter="url(#b05)" opacity="1.0"/>
<path d="M493.14,167.03 C493.79,165.50 496.08,164.19 497.71,164.41 C499.35,164.63 501.96,166.81 502.94,168.33 C503.92,169.86 504.36,172.25 503.59,173.56 C502.83,174.87 500.00,176.18 498.37,176.18 C496.73,176.18 494.66,175.09 493.79,173.56 C492.92,172.04 492.48,168.55 493.14,167.03 Z" fill="#6580c8" stroke="none" stroke-width="0.5" filter="url(#b15)" opacity="0.6"/>
</g>
<path d="M497.00,163.10 L512.50,163.10 L512.50,186.60 L491.20,186.60 L491.20,174.20 Z" fill="none" stroke="#d23c55" stroke-width="0.8" stroke-linejoin="round" />
<text x="503.40" y="185.80" font-size="5.6" fill="#161616" style="color:#161616" text-anchor="start" textLength="7.50" lengthAdjust="spacingAndGlyphs" >2%</text>
<text x="479.90" y="192.80" font-size="5.4" fill="#161616" style="color:#161616" text-anchor="start" >CD63<tspan font-size="3.5" dy="-2">+</tspan><tspan dy="2">/IL-1β</tspan><tspan font-size="3.5" dy="-2">+</tspan></text>
<rect x="451.50" y="132.60" width="67.90" height="68.20" fill="none" stroke="#4a4a4a" stroke-width="0.95" />
</g>
<text x="448.00" y="140.60" font-size="5.5" fill="#161616" style="color:#161616" text-anchor="end" >10<tspan font-size="3.85" dy="-2.48">5</tspan></text>
<line x1="450.00" y1="138.80" x2="451.50" y2="138.80" stroke="#333" stroke-width="0.5" />
<text x="448.00" y="156.60" font-size="5.5" fill="#161616" style="color:#161616" text-anchor="end" >10<tspan font-size="3.85" dy="-2.48">4</tspan></text>
<line x1="450.00" y1="154.80" x2="451.50" y2="154.80" stroke="#333" stroke-width="0.5" />
<text x="448.00" y="172.70" font-size="5.5" fill="#161616" style="color:#161616" text-anchor="end" >10<tspan font-size="3.85" dy="-2.48">3</tspan></text>
<line x1="450.00" y1="170.90" x2="451.50" y2="170.90" stroke="#333" stroke-width="0.5" />
<text x="448.00" y="188.70" font-size="5.5" fill="#161616" style="color:#161616" text-anchor="end" >10<tspan font-size="3.85" dy="-2.48">2</tspan></text>
<line x1="450.00" y1="186.90" x2="451.50" y2="186.90" stroke="#333" stroke-width="0.5" />
<text x="448.00" y="194.00" font-size="5.5" fill="#161616" style="color:#161616" text-anchor="end" >0</text>
<line x1="450.00" y1="192.20" x2="451.50" y2="192.20" stroke="#333" stroke-width="0.5" />
<rect x="450.10" y="191.30" width="1.4" height="1.8" fill="#111"/>
<text x="448.00" y="200.30" font-size="5.5" fill="#161616" style="color:#161616" text-anchor="end" >−10<tspan font-size="3.85" dy="-2.48">2</tspan></text>
<line x1="450.00" y1="198.50" x2="451.50" y2="198.50" stroke="#333" stroke-width="0.5" />
<text x="455.60" y="208.80" font-size="5.5" fill="#161616" style="color:#161616" text-anchor="middle" >−10<tspan font-size="3.85" dy="-2.48">3</tspan></text>
<line x1="455.60" y1="200.80" x2="455.60" y2="202.30" stroke="#333" stroke-width="0.5" />
<text x="465.80" y="208.80" font-size="5.5" fill="#161616" style="color:#161616" text-anchor="middle" >0</text>
<line x1="465.80" y1="200.80" x2="465.80" y2="202.30" stroke="#333" stroke-width="0.5" />
<rect x="464.90" y="200.80" width="1.8" height="1.4" fill="#111"/>
<text x="478.70" y="208.80" font-size="5.5" fill="#161616" style="color:#161616" text-anchor="middle" >10<tspan font-size="3.85" dy="-2.48">3</tspan></text>
<line x1="478.70" y1="200.80" x2="478.70" y2="202.30" stroke="#333" stroke-width="0.5" />
<text x="497.00" y="208.80" font-size="5.5" fill="#161616" style="color:#161616" text-anchor="middle" >10<tspan font-size="3.85" dy="-2.48">4</tspan></text>
<line x1="497.00" y1="200.80" x2="497.00" y2="202.30" stroke="#333" stroke-width="0.5" />
<text x="512.30" y="208.80" font-size="5.5" fill="#161616" style="color:#161616" text-anchor="middle" >10<tspan font-size="3.85" dy="-2.48">5</tspan></text>
<line x1="512.30" y1="200.80" x2="512.30" y2="202.30" stroke="#333" stroke-width="0.5" />
<line x1="434.70" y1="140.80" x2="434.70" y2="181.80" stroke="#333" stroke-width="0.5" />
<path d="M433.60,141.40 L434.70,138.80 L435.80,141.40 Z" fill="#111"/>
<text x="436.40" y="190.50" font-size="5.5" fill="#222" style="color:#222" text-anchor="middle" font-weight="bold" textLength="14.60" lengthAdjust="spacingAndGlyphs" transform="rotate(-90 436.40 190.50)" >IL-1β</text>
<text x="431.20" y="161.35" font-size="5.5" fill="#333" style="color:#333" text-anchor="middle" textLength="30.70" lengthAdjust="spacingAndGlyphs" transform="rotate(-90 431.20 161.35)" >(Pacific Blue)</text>
<line x1="512.20" y1="219.40" x2="469.80" y2="219.40" stroke="#333" stroke-width="0.5" />
<path d="M511.60,218.30 L514.20,219.40 L511.60,220.50 Z" fill="#111"/>
<text x="457.50" y="221.10" font-size="5.5" fill="#222" style="color:#222" text-anchor="start" font-weight="bold" textLength="10.50" lengthAdjust="spacingAndGlyphs" >CD63</text>
<text x="492.10" y="216.30" font-size="5.5" fill="#333" style="color:#333" text-anchor="middle" textLength="19.20" lengthAdjust="spacingAndGlyphs" >(BV785)</text>
<clipPath id="c11"><rect x="32.80" y="250.20" width="47.40" height="47.80"/></clipPath><g clip-path="url(#c11)">
<ellipse cx="59" cy="283" rx="6" ry="5" fill="#e8e4f0" opacity="0.5" filter="url(#b2)"/>
<path d="M40.45,275.49 C41.34,272.30 43.40,272.11 45.17,271.71 C46.94,271.32 49.50,271.32 51.07,273.13 C52.65,274.94 54.12,279.23 54.61,282.57 C55.11,285.91 54.81,290.57 54.02,293.19 C53.24,295.81 51.66,297.48 49.89,298.26 C48.12,299.05 45.08,299.15 43.40,297.91 C41.73,296.67 40.36,294.57 39.86,290.83 C39.37,287.09 39.57,278.68 40.45,275.49 Z" fill="#c3cdee" stroke="none" stroke-width="0.6" filter="url(#b15)" opacity="0.55"/>
<path d="M41.50,277.00 C42.25,274.30 44.00,274.13 45.50,273.80 C47.00,273.47 49.17,273.47 50.50,275.00 C51.83,276.53 53.08,280.17 53.50,283.00 C53.92,285.83 53.67,289.78 53.00,292.00 C52.33,294.22 51.00,295.63 49.50,296.30 C48.00,296.97 45.42,297.05 44.00,296.00 C42.58,294.95 41.42,293.17 41.00,290.00 C40.58,286.83 40.75,279.70 41.50,277.00 Z" fill="#b9c6ea" stroke="none" stroke-width="0.6" filter="url(#b1)" opacity="0.7"/>
<path d="M41.50,277.00 C42.25,274.30 44.00,274.13 45.50,273.80 C47.00,273.47 49.17,273.47 50.50,275.00 C51.83,276.53 53.08,280.17 53.50,283.00 C53.92,285.83 53.67,289.78 53.00,292.00 C52.33,294.22 51.00,295.63 49.50,296.30 C48.00,296.97 45.42,297.05 44.00,296.00 C42.58,294.95 41.42,293.17 41.00,290.00 C40.58,286.83 40.75,279.70 41.50,277.00 Z" fill="#c7d1ef" stroke="#3a5cb4" stroke-width="0.765" />
<path d="M42.95,279.10 C43.52,277.07 44.83,276.95 45.95,276.70 C47.08,276.45 48.70,276.45 49.70,277.60 C50.70,278.75 51.64,281.47 51.95,283.60 C52.27,285.72 52.08,288.68 51.58,290.35 C51.08,292.01 50.08,293.07 48.95,293.57 C47.83,294.07 45.89,294.13 44.83,293.35 C43.77,292.56 42.89,291.22 42.58,288.85 C42.27,286.47 42.39,281.12 42.95,279.10 Z" fill="#d9dff4" stroke="#7189cc" stroke-width="0.5" />
<path d="M44.70,281.61 C45.03,280.40 45.82,280.32 46.50,280.17 C47.17,280.02 48.15,280.02 48.75,280.71 C49.35,281.40 49.91,283.04 50.10,284.31 C50.28,285.59 50.17,287.37 49.87,288.36 C49.57,289.36 48.97,290.00 48.30,290.30 C47.62,290.60 46.46,290.64 45.82,290.16 C45.18,289.69 44.66,288.89 44.47,287.46 C44.28,286.04 44.36,282.83 44.70,281.61 Z" fill="#eef1fa" stroke="#a3b2e0" stroke-width="0.4" />
</g>
<rect x="32.80" y="250.20" width="47.40" height="47.80" fill="none" stroke="#4a4a4a" stroke-width="0.95" />
<rect x="62.00" y="231.60" width="41.20" height="41.10" fill="#fff" stroke="#4a4a4a" stroke-width="0.95" />
<line x1="62.00" y1="259.20" x2="103.20" y2="259.20" stroke="#b5c0a5" stroke-width="0.5" />
<path d="M77.00,259.20 C77.00,259.20 76.75,260.40 77.00,259.20 C77.25,258.00 78.07,255.20 78.50,252.00 C78.93,248.80 79.25,243.10 79.60,240.00 C79.95,236.90 80.27,233.73 80.60,233.40 C80.93,233.07 81.20,235.90 81.60,238.00 C82.00,240.10 82.43,243.75 83.00,246.00 C83.57,248.25 84.17,249.92 85.00,251.50 C85.83,253.08 86.83,254.45 88.00,255.50 C89.17,256.55 90.67,257.25 92.00,257.80 C93.33,258.35 95.33,258.57 96.00,258.80 C96.67,259.03 96.00,259.13 96.00,259.20 Z" fill="#cfe3c0" stroke="#9bbf85" stroke-width="0.5"/>
<path d="M71.50,272.60 C71.50,272.60 71.25,273.70 71.50,272.60 C71.75,271.50 72.50,269.27 73.00,266.00 C73.50,262.73 74.08,256.13 74.50,253.00 C74.92,249.87 75.17,247.37 75.50,247.20 C75.83,247.03 76.15,249.20 76.50,252.00 C76.85,254.80 77.22,260.63 77.60,264.00 C77.98,267.37 78.60,270.77 78.80,272.20 C79.00,273.63 78.80,272.53 78.80,272.60 Z" fill="#555" stroke="#333" stroke-width="0.4"/>
<rect x="83.00" y="233.55" width="2.05" height="2.05" fill="#d5e6c8" stroke="#777" stroke-width="0.25"/>
<text x="86.05" y="235.60" font-size="3.3" fill="#444" style="color:#444;stroke-width:0.06px" text-anchor="start" >Full Stain</text>
<rect x="83.00" y="238.35" width="2.05" height="2.05" fill="#333" stroke="#777" stroke-width="0.25"/>
<text x="86.05" y="240.40" font-size="3.3" fill="#444" style="color:#444;stroke-width:0.06px" text-anchor="start" >NE FMO</text>
<text x="32.80" y="248.30" font-size="5.6" fill="#161616" style="color:#161616" text-anchor="start" textLength="19.00" lengthAdjust="spacingAndGlyphs" >NE FMO</text>
<text x="31.30" y="256.40" font-size="5.5" fill="#161616" style="color:#161616" text-anchor="end" >10<tspan font-size="3.85" dy="-2.48">5</tspan></text>
<line x1="31.30" y1="254.60" x2="32.80" y2="254.60" stroke="#333" stroke-width="0.5" />
<text x="31.30" y="267.00" font-size="5.5" fill="#161616" style="color:#161616" text-anchor="end" >10<tspan font-size="3.85" dy="-2.48">4</tspan></text>
<line x1="31.30" y1="265.20" x2="32.80" y2="265.20" stroke="#333" stroke-width="0.5" />
<text x="31.30" y="278.60" font-size="5.5" fill="#161616" style="color:#161616" text-anchor="end" >10<tspan font-size="3.85" dy="-2.48">3</tspan></text>
<line x1="31.30" y1="276.80" x2="32.80" y2="276.80" stroke="#333" stroke-width="0.5" />
<text x="31.30" y="289.80" font-size="5.5" fill="#161616" style="color:#161616" text-anchor="end" >0</text>
<line x1="31.30" y1="288.00" x2="32.80" y2="288.00" stroke="#333" stroke-width="0.5" />
<rect x="31.40" y="287.10" width="1.4" height="1.8" fill="#111"/>
<text x="37.70" y="305.10" font-size="5.5" fill="#161616" style="color:#161616" text-anchor="middle" >0</text>
<line x1="37.70" y1="298.00" x2="37.70" y2="299.50" stroke="#333" stroke-width="0.5" />
<rect x="36.80" y="298.00" width="1.8" height="1.4" fill="#111"/>
<text x="52.50" y="305.10" font-size="5.5" fill="#161616" style="color:#161616" text-anchor="middle" >10<tspan font-size="3.85" dy="-2.48">3</tspan></text>
<line x1="52.50" y1="298.00" x2="52.50" y2="299.50" stroke="#333" stroke-width="0.5" />
<text x="63.50" y="305.10" font-size="5.5" fill="#161616" style="color:#161616" text-anchor="middle" >10<tspan font-size="3.85" dy="-2.48">4</tspan></text>
<line x1="63.50" y1="298.00" x2="63.50" y2="299.50" stroke="#333" stroke-width="0.5" />
<text x="75.10" y="305.10" font-size="5.5" fill="#161616" style="color:#161616" text-anchor="middle" >10<tspan font-size="3.85" dy="-2.48">5</tspan></text>
<line x1="75.10" y1="298.00" x2="75.10" y2="299.50" stroke="#333" stroke-width="0.5" />
<line x1="16.50" y1="256.60" x2="16.50" y2="277.90" stroke="#333" stroke-width="0.5" />
<path d="M15.40,257.20 L16.50,254.60 L17.60,257.20 Z" fill="#111"/>
<text x="18.20" y="285.10" font-size="5.5" fill="#222" style="color:#222" text-anchor="middle" font-weight="bold" textLength="11.00" lengthAdjust="spacingAndGlyphs" transform="rotate(-90 18.20 285.10)" >CD10</text>
<text x="13.90" y="264.65" font-size="5.5" fill="#333" style="color:#333" text-anchor="middle" textLength="20.10" lengthAdjust="spacingAndGlyphs" transform="rotate(-90 13.90 264.65)" >(PE-Cy5.5)</text>
<line x1="74.20" y1="316.50" x2="43.10" y2="316.50" stroke="#333" stroke-width="0.5" />
<path d="M73.60,315.40 L76.20,316.50 L73.60,317.60 Z" fill="#111"/>
<text x="37.00" y="318.20" font-size="5.5" fill="#222" style="color:#222" text-anchor="start" font-weight="bold" textLength="4.30" lengthAdjust="spacingAndGlyphs" >NE</text>
<text x="61.90" y="313.00" font-size="5.5" fill="#333" style="color:#333" text-anchor="middle" textLength="15.80" lengthAdjust="spacingAndGlyphs" >(FMO)</text>
<clipPath id="c12"><rect x="135.70" y="250.40" width="47.60" height="47.60"/></clipPath><g clip-path="url(#c12)">
<path d="M144.98,289.14 C144.59,286.98 146.26,284.72 147.93,283.24 C149.60,281.76 152.06,280.78 155.01,280.29 C157.96,279.80 162.29,279.90 165.63,280.29 C168.97,280.68 172.91,281.17 175.07,282.65 C177.23,284.12 178.81,286.98 178.61,289.14 C178.41,291.30 176.64,294.25 173.89,295.63 C171.14,297.01 166.02,297.30 162.09,297.40 C158.16,297.50 153.14,297.60 150.29,296.22 C147.44,294.84 145.37,291.30 144.98,289.14 Z" fill="#c3cdee" stroke="none" stroke-width="0.6" filter="url(#b15)" opacity="0.55"/>
<path d="M147.50,289.00 C147.17,287.17 148.58,285.25 150.00,284.00 C151.42,282.75 153.50,281.92 156.00,281.50 C158.50,281.08 162.17,281.17 165.00,281.50 C167.83,281.83 171.17,282.25 173.00,283.50 C174.83,284.75 176.17,287.17 176.00,289.00 C175.83,290.83 174.33,293.33 172.00,294.50 C169.67,295.67 165.33,295.92 162.00,296.00 C158.67,296.08 154.42,296.17 152.00,295.00 C149.58,293.83 147.83,290.83 147.50,289.00 Z" fill="#b9c6ea" stroke="none" stroke-width="0.6" filter="url(#b1)" opacity="0.7"/>
<path d="M147.50,289.00 C147.17,287.17 148.58,285.25 150.00,284.00 C151.42,282.75 153.50,281.92 156.00,281.50 C158.50,281.08 162.17,281.17 165.00,281.50 C167.83,281.83 171.17,282.25 173.00,283.50 C174.83,284.75 176.17,287.17 176.00,289.00 C175.83,290.83 174.33,293.33 172.00,294.50 C169.67,295.67 165.33,295.92 162.00,296.00 C158.67,296.08 154.42,296.17 152.00,295.00 C149.58,293.83 147.83,290.83 147.50,289.00 Z" fill="#c7d1ef" stroke="#3a5cb4" stroke-width="0.765" />
<path d="M151.00,288.81 C150.75,287.43 151.81,285.99 152.88,285.06 C153.94,284.12 155.50,283.49 157.38,283.18 C159.25,282.87 162.00,282.93 164.12,283.18 C166.25,283.43 168.75,283.74 170.12,284.68 C171.50,285.62 172.50,287.43 172.38,288.81 C172.25,290.18 171.12,292.06 169.38,292.93 C167.62,293.81 164.38,293.99 161.88,294.06 C159.38,294.12 156.19,294.18 154.38,293.31 C152.56,292.43 151.25,290.18 151.00,288.81 Z" fill="#d9dff4" stroke="#7189cc" stroke-width="0.5" />
<path d="M155.20,288.57 C155.05,287.75 155.69,286.88 156.32,286.32 C156.96,285.76 157.90,285.38 159.03,285.20 C160.15,285.01 161.80,285.05 163.07,285.20 C164.35,285.35 165.85,285.53 166.68,286.10 C167.50,286.66 168.10,287.75 168.03,288.57 C167.95,289.40 167.28,290.52 166.22,291.05 C165.17,291.57 163.22,291.68 161.72,291.72 C160.22,291.76 158.31,291.80 157.22,291.27 C156.14,290.75 155.35,289.40 155.20,288.57 Z" fill="#eef1fa" stroke="#a3b2e0" stroke-width="0.4" />
</g>
<rect x="135.70" y="250.40" width="47.60" height="47.60" fill="none" stroke="#4a4a4a" stroke-width="0.95" />
<rect x="164.70" y="231.30" width="42.30" height="41.30" fill="#fff" stroke="#4a4a4a" stroke-width="0.95" />
<line x1="164.70" y1="258.40" x2="207.00" y2="258.40" stroke="#a89cc8" stroke-width="0.5" />
<path d="M166.50,258.40 C166.50,258.40 166.08,259.47 166.50,258.40 C166.92,257.33 168.17,254.73 169.00,252.00 C169.83,249.27 170.70,245.07 171.50,242.00 C172.30,238.93 173.05,234.27 173.80,233.60 C174.55,232.93 175.13,235.77 176.00,238.00 C176.87,240.23 177.83,244.42 179.00,247.00 C180.17,249.58 181.50,251.87 183.00,253.50 C184.50,255.13 186.17,256.05 188.00,256.80 C189.83,257.55 193.00,257.73 194.00,258.00 C195.00,258.27 194.00,258.33 194.00,258.40 Z" fill="#bcb0df" stroke="#8f82bd" stroke-width="0.5"/>
<path d="M165.30,272.40 C165.30,272.40 165.02,273.80 165.30,272.40 C165.58,271.00 166.30,267.23 167.00,264.00 C167.70,260.77 168.73,255.62 169.50,253.00 C170.27,250.38 170.85,248.47 171.60,248.30 C172.35,248.13 173.18,249.55 174.00,252.00 C174.82,254.45 175.80,259.63 176.50,263.00 C177.20,266.37 177.92,270.63 178.20,272.20 C178.48,273.77 178.20,272.37 178.20,272.40 Z" fill="#555" stroke="#333" stroke-width="0.4" opacity="0.85"/>
<rect x="184.50" y="233.15" width="2.05" height="2.05" fill="#bcb0df" stroke="#777" stroke-width="0.25"/>
<text x="187.55" y="235.20" font-size="3.3" fill="#444" style="color:#444;stroke-width:0.06px" text-anchor="start" >Full Stain</text>
<rect x="184.50" y="237.75" width="2.05" height="2.05" fill="#333" stroke="#777" stroke-width="0.25"/>
<text x="187.55" y="239.80" font-size="3.3" fill="#444" style="color:#444;stroke-width:0.06px" text-anchor="start" >CD184 FMO</text>
<text x="133.00" y="248.60" font-size="5.6" fill="#161616" style="color:#161616" text-anchor="start" textLength="29.50" lengthAdjust="spacingAndGlyphs" >CD184 FMO</text>
<text x="133.60" y="256.40" font-size="5.5" fill="#161616" style="color:#161616" text-anchor="end" >10<tspan font-size="3.85" dy="-2.48">5</tspan></text>
<line x1="134.20" y1="254.60" x2="135.70" y2="254.60" stroke="#333" stroke-width="0.5" />
<text x="133.60" y="267.00" font-size="5.5" fill="#161616" style="color:#161616" text-anchor="end" >10<tspan font-size="3.85" dy="-2.48">4</tspan></text>
<line x1="134.20" y1="265.20" x2="135.70" y2="265.20" stroke="#333" stroke-width="0.5" />
<text x="133.60" y="278.60" font-size="5.5" fill="#161616" style="color:#161616" text-anchor="end" >10<tspan font-size="3.85" dy="-2.48">3</tspan></text>
<line x1="134.20" y1="276.80" x2="135.70" y2="276.80" stroke="#333" stroke-width="0.5" />
<text x="133.60" y="290.10" font-size="5.5" fill="#161616" style="color:#161616" text-anchor="end" >0</text>
<line x1="134.20" y1="288.30" x2="135.70" y2="288.30" stroke="#333" stroke-width="0.5" />
<rect x="134.30" y="287.40" width="1.4" height="1.8" fill="#111"/>
<text x="140.50" y="305.10" font-size="5.5" fill="#161616" style="color:#161616" text-anchor="middle" >0</text>
<line x1="140.50" y1="298.00" x2="140.50" y2="299.50" stroke="#333" stroke-width="0.5" />
<rect x="139.60" y="298.00" width="1.8" height="1.4" fill="#111"/>
<text x="155.80" y="305.10" font-size="5.5" fill="#161616" style="color:#161616" text-anchor="middle" >10<tspan font-size="3.85" dy="-2.48">3</tspan></text>
<line x1="155.80" y1="298.00" x2="155.80" y2="299.50" stroke="#333" stroke-width="0.5" />
<text x="167.40" y="305.10" font-size="5.5" fill="#161616" style="color:#161616" text-anchor="middle" >10<tspan font-size="3.85" dy="-2.48">4</tspan></text>
<line x1="167.40" y1="298.00" x2="167.40" y2="299.50" stroke="#333" stroke-width="0.5" />
<text x="178.00" y="305.10" font-size="5.5" fill="#161616" style="color:#161616" text-anchor="middle" >10<tspan font-size="3.85" dy="-2.48">5</tspan></text>
<line x1="178.00" y1="298.00" x2="178.00" y2="299.50" stroke="#333" stroke-width="0.5" />
<line x1="119.40" y1="257.70" x2="119.40" y2="278.00" stroke="#333" stroke-width="0.5" />
<path d="M118.30,258.30 L119.40,255.70 L120.50,258.30 Z" fill="#111"/>
<text x="121.10" y="286.85" font-size="5.5" fill="#222" style="color:#222" text-anchor="middle" font-weight="bold" textLength="11.70" lengthAdjust="spacingAndGlyphs" transform="rotate(-90 121.10 286.85)" >CD184</text>
<text x="116.80" y="269.40" font-size="5.5" fill="#333" style="color:#333" text-anchor="middle" textLength="12.80" lengthAdjust="spacingAndGlyphs" transform="rotate(-90 116.80 269.40)" >(FMO)</text>
<line x1="177.00" y1="315.50" x2="144.80" y2="315.50" stroke="#333" stroke-width="0.5" />
<path d="M176.40,314.40 L179.00,315.50 L176.40,316.60 Z" fill="#111"/>
<text x="138.80" y="317.20" font-size="5.5" fill="#222" style="color:#222" text-anchor="start" font-weight="bold" textLength="4.20" lengthAdjust="spacingAndGlyphs" >NE</text>
<text x="162.85" y="313.00" font-size="5.5" fill="#333" style="color:#333" text-anchor="middle" textLength="19.70" lengthAdjust="spacingAndGlyphs" >(AF488)</text>
<clipPath id="c13"><rect x="238.60" y="250.40" width="46.50" height="47.60"/></clipPath><g clip-path="url(#c13)">
<path d="M245.00,287.00 C246.00,284.83 249.17,281.67 252.00,280.00 C254.83,278.33 258.17,277.42 262.00,277.00 C265.83,276.58 271.33,276.67 275.00,277.50 C278.67,278.33 282.33,279.58 284.00,282.00 C285.67,284.42 286.50,289.75 285.00,292.00 C283.50,294.25 280.00,294.92 275.00,295.50 C270.00,296.08 259.83,295.92 255.00,295.50 C250.17,295.08 247.67,294.42 246.00,293.00 C244.33,291.58 244.00,289.17 245.00,287.00 Z" fill="#c6d0ee" stroke="none" stroke-width="0.6" filter="url(#b2)" opacity="0.8"/>
<path d="M243.90,289.67 C243.90,288.00 246.84,285.64 249.79,284.36 C252.75,283.08 257.07,282.29 261.60,282.00 C266.12,281.70 273.20,281.70 276.94,282.59 C280.67,283.47 283.23,285.54 284.01,287.31 C284.80,289.08 284.60,291.93 281.65,293.21 C278.70,294.49 271.62,294.78 266.31,294.98 C261.00,295.18 253.53,295.27 249.79,294.39 C246.06,293.50 243.90,291.34 243.90,289.67 Z" fill="#c3cdee" stroke="none" stroke-width="0.6" filter="url(#b15)" opacity="0.55"/>
<path d="M247.00,289.50 C247.00,288.08 249.50,286.08 252.00,285.00 C254.50,283.92 258.17,283.25 262.00,283.00 C265.83,282.75 271.83,282.75 275.00,283.50 C278.17,284.25 280.33,286.00 281.00,287.50 C281.67,289.00 281.50,291.42 279.00,292.50 C276.50,293.58 270.50,293.83 266.00,294.00 C261.50,294.17 255.17,294.25 252.00,293.50 C248.83,292.75 247.00,290.92 247.00,289.50 Z" fill="#b9c6ea" stroke="none" stroke-width="0.6" filter="url(#b1)" opacity="0.7"/>
<path d="M247.00,289.50 C247.00,288.08 249.50,286.08 252.00,285.00 C254.50,283.92 258.17,283.25 262.00,283.00 C265.83,282.75 271.83,282.75 275.00,283.50 C278.17,284.25 280.33,286.00 281.00,287.50 C281.67,289.00 281.50,291.42 279.00,292.50 C276.50,293.58 270.50,293.83 266.00,294.00 C261.50,294.17 255.17,294.25 252.00,293.50 C248.83,292.75 247.00,290.92 247.00,289.50 Z" fill="#c7d1ef" stroke="#3a5cb4" stroke-width="0.765" />
<path d="M252.18,289.22 C252.18,288.23 253.93,286.83 255.68,286.07 C257.43,285.31 259.99,284.84 262.68,284.67 C265.36,284.49 269.56,284.49 271.77,285.02 C273.99,285.54 275.51,286.77 275.98,287.82 C276.44,288.87 276.32,290.56 274.57,291.32 C272.82,292.08 268.62,292.25 265.48,292.37 C262.33,292.49 257.89,292.54 255.68,292.02 C253.46,291.49 252.18,290.21 252.18,289.22 Z" fill="#d9dff4" stroke="#7189cc" stroke-width="0.5" />
<path d="M257.35,288.94 C257.35,288.37 258.35,287.57 259.35,287.14 C260.35,286.70 261.82,286.44 263.35,286.34 C264.88,286.24 267.28,286.24 268.55,286.54 C269.82,286.84 270.68,287.54 270.95,288.14 C271.22,288.74 271.15,289.70 270.15,290.14 C269.15,290.57 266.75,290.67 264.95,290.74 C263.15,290.80 260.62,290.84 259.35,290.54 C258.08,290.24 257.35,289.50 257.35,288.94 Z" fill="#eef1fa" stroke="#a3b2e0" stroke-width="0.4" />
</g>
<rect x="238.60" y="250.40" width="46.50" height="47.60" fill="none" stroke="#4a4a4a" stroke-width="0.95" />
<rect x="267.40" y="233.90" width="41.00" height="40.80" fill="#fff" stroke="#4a4a4a" stroke-width="0.95" />
<line x1="267.40" y1="261.40" x2="308.40" y2="261.40" stroke="#b0c4c2" stroke-width="0.5" />
<path d="M273.50,261.40 C273.50,261.40 273.25,262.30 273.50,261.40 C273.75,260.50 274.50,258.90 275.00,256.00 C275.50,253.10 276.00,247.40 276.50,244.00 C277.00,240.60 277.50,236.60 278.00,235.60 C278.50,234.60 279.00,235.93 279.50,238.00 C280.00,240.07 280.45,244.67 281.00,248.00 C281.55,251.33 282.22,255.80 282.80,258.00 C283.38,260.20 284.22,260.63 284.50,261.20 C284.78,261.77 284.50,261.37 284.50,261.40 Z" fill="#bfe2dc" stroke="#7fb8b0" stroke-width="0.5"/>
<path d="M271.30,274.30 C271.30,274.30 271.13,275.68 271.30,274.30 C271.47,272.92 271.93,270.17 272.30,266.00 C272.67,261.83 273.10,251.63 273.50,249.30 C273.90,246.97 274.28,249.22 274.70,252.00 C275.12,254.78 275.57,262.30 276.00,266.00 C276.43,269.70 277.08,272.82 277.30,274.20 C277.52,275.58 277.30,274.28 277.30,274.30 Z" fill="#555" stroke="#333" stroke-width="0.4"/>
<rect x="287.00" y="235.75" width="2.05" height="2.05" fill="#bfe2dc" stroke="#777" stroke-width="0.25"/>
<text x="290.05" y="237.80" font-size="3.3" fill="#444" style="color:#444;stroke-width:0.06px" text-anchor="start" >Full Stain</text>
<rect x="287.00" y="240.35" width="2.05" height="2.05" fill="#333" stroke="#777" stroke-width="0.25"/>
<text x="290.05" y="242.40" font-size="3.3" fill="#444" style="color:#444;stroke-width:0.06px" text-anchor="start" >IL-6 FMO</text>
<text x="239.60" y="249.00" font-size="5.6" fill="#161616" style="color:#161616" text-anchor="start" textLength="21.20" lengthAdjust="spacingAndGlyphs" >IL-6 FMO</text>
<text x="236.60" y="257.50" font-size="5.5" fill="#161616" style="color:#161616" text-anchor="end" >10<tspan font-size="3.85" dy="-2.48">5</tspan></text>
<line x1="237.10" y1="255.70" x2="238.60" y2="255.70" stroke="#333" stroke-width="0.5" />
<text x="236.60" y="268.10" font-size="5.5" fill="#161616" style="color:#161616" text-anchor="end" >10<tspan font-size="3.85" dy="-2.48">4</tspan></text>
<line x1="237.10" y1="266.30" x2="238.60" y2="266.30" stroke="#333" stroke-width="0.5" />
<text x="236.60" y="279.70" font-size="5.5" fill="#161616" style="color:#161616" text-anchor="end" >10<tspan font-size="3.85" dy="-2.48">3</tspan></text>
<line x1="237.10" y1="277.90" x2="238.60" y2="277.90" stroke="#333" stroke-width="0.5" />
<text x="236.60" y="291.30" font-size="5.5" fill="#161616" style="color:#161616" text-anchor="end" >0</text>
<line x1="237.10" y1="289.50" x2="238.60" y2="289.50" stroke="#333" stroke-width="0.5" />
<rect x="237.20" y="288.60" width="1.4" height="1.8" fill="#111"/>
<text x="244.90" y="305.10" font-size="5.5" fill="#161616" style="color:#161616" text-anchor="middle" >0</text>
<line x1="244.90" y1="298.00" x2="244.90" y2="299.50" stroke="#333" stroke-width="0.5" />
<rect x="244.00" y="298.00" width="1.8" height="1.4" fill="#111"/>
<text x="259.70" y="305.10" font-size="5.5" fill="#161616" style="color:#161616" text-anchor="middle" >10<tspan font-size="3.85" dy="-2.48">3</tspan></text>
<line x1="259.70" y1="298.00" x2="259.70" y2="299.50" stroke="#333" stroke-width="0.5" />
<text x="271.30" y="305.10" font-size="5.5" fill="#161616" style="color:#161616" text-anchor="middle" >10<tspan font-size="3.85" dy="-2.48">4</tspan></text>
<line x1="271.30" y1="298.00" x2="271.30" y2="299.50" stroke="#333" stroke-width="0.5" />
<text x="282.00" y="305.10" font-size="5.5" fill="#161616" style="color:#161616" text-anchor="middle" >10<tspan font-size="3.85" dy="-2.48">5</tspan></text>
<line x1="282.00" y1="298.00" x2="282.00" y2="299.50" stroke="#333" stroke-width="0.5" />
<line x1="221.60" y1="256.60" x2="221.60" y2="279.00" stroke="#333" stroke-width="0.5" />
<path d="M220.50,257.20 L221.60,254.60 L222.70,257.20 Z" fill="#111"/>
<text x="223.30" y="292.25" font-size="5.5" fill="#222" style="color:#222" text-anchor="middle" font-weight="bold" textLength="7.50" lengthAdjust="spacingAndGlyphs" transform="rotate(-90 223.30 292.25)" >IL-6</text>
<text x="219.60" y="269.40" font-size="5.5" fill="#333" style="color:#333" text-anchor="middle" textLength="12.80" lengthAdjust="spacingAndGlyphs" transform="rotate(-90 219.60 269.40)" >(FMO)</text>
<line x1="277.80" y1="315.50" x2="250.90" y2="315.50" stroke="#333" stroke-width="0.5" />
<path d="M277.20,314.40 L279.80,315.50 L277.20,316.60 Z" fill="#111"/>
<text x="243.40" y="317.20" font-size="5.5" fill="#222" style="color:#222" text-anchor="start" font-weight="bold" textLength="5.70" lengthAdjust="spacingAndGlyphs" >IL-8</text>
<text x="266.05" y="313.00" font-size="5.5" fill="#333" style="color:#333" text-anchor="middle" textLength="27.50" lengthAdjust="spacingAndGlyphs" >(PE-CF594)</text>
<clipPath id="c14"><rect x="341.30" y="250.40" width="47.00" height="47.60"/></clipPath><g clip-path="url(#c14)">
<path d="M354.57,263.24 C355.09,260.05 356.09,259.25 357.29,258.28 C358.49,257.32 360.28,257.04 361.77,257.46 C363.27,257.87 365.33,258.42 366.26,260.76 C367.18,263.10 367.40,267.94 367.32,271.50 C367.24,275.06 366.71,279.54 365.78,282.12 C364.86,284.69 363.27,286.33 361.77,286.96 C360.28,287.59 358.07,287.49 356.82,285.89 C355.56,284.30 354.59,281.17 354.22,277.40 C353.85,273.62 354.06,266.42 354.57,263.24 Z" fill="#c3cdee" stroke="none" stroke-width="0.6" filter="url(#b15)" opacity="0.55"/>
<path d="M355.50,264.50 C355.93,261.80 356.78,261.12 357.80,260.30 C358.82,259.48 360.33,259.25 361.60,259.60 C362.87,259.95 364.62,260.42 365.40,262.40 C366.18,264.38 366.37,268.48 366.30,271.50 C366.23,274.52 365.78,278.32 365.00,280.50 C364.22,282.68 362.87,284.07 361.60,284.60 C360.33,285.13 358.47,285.05 357.40,283.70 C356.33,282.35 355.52,279.70 355.20,276.50 C354.88,273.30 355.07,267.20 355.50,264.50 Z" fill="#b9c6ea" stroke="none" stroke-width="0.6" filter="url(#b1)" opacity="0.7"/>
<path d="M355.50,264.50 C355.93,261.80 356.78,261.12 357.80,260.30 C358.82,259.48 360.33,259.25 361.60,259.60 C362.87,259.95 364.62,260.42 365.40,262.40 C366.18,264.38 366.37,268.48 366.30,271.50 C366.23,274.52 365.78,278.32 365.00,280.50 C364.22,282.68 362.87,284.07 361.60,284.60 C360.33,285.13 358.47,285.05 357.40,283.70 C356.33,282.35 355.52,279.70 355.20,276.50 C354.88,273.30 355.07,267.20 355.50,264.50 Z" fill="#c7d1ef" stroke="#3a5cb4" stroke-width="0.765" />
<path d="M356.79,266.25 C357.11,264.23 357.75,263.72 358.51,263.10 C359.27,262.49 360.41,262.32 361.36,262.58 C362.31,262.84 363.62,263.19 364.21,264.68 C364.80,266.17 364.94,269.24 364.89,271.50 C364.84,273.77 364.50,276.62 363.91,278.25 C363.32,279.89 362.31,280.93 361.36,281.33 C360.41,281.73 359.01,281.67 358.21,280.65 C357.41,279.64 356.80,277.65 356.56,275.25 C356.32,272.85 356.46,268.28 356.79,266.25 Z" fill="#d9dff4" stroke="#7189cc" stroke-width="0.5" />
<path d="M358.33,268.36 C358.52,267.14 358.91,266.83 359.36,266.47 C359.82,266.10 360.50,265.99 361.07,266.15 C361.64,266.31 362.43,266.52 362.78,267.41 C363.14,268.30 363.22,270.15 363.19,271.51 C363.16,272.86 362.96,274.57 362.60,275.56 C362.25,276.54 361.64,277.16 361.07,277.40 C360.50,277.64 359.66,277.60 359.18,277.00 C358.70,276.39 358.34,275.20 358.19,273.76 C358.05,272.32 358.13,269.57 358.33,268.36 Z" fill="#eef1fa" stroke="#a3b2e0" stroke-width="0.4" />
</g>
<rect x="341.30" y="250.40" width="47.00" height="47.60" fill="none" stroke="#4a4a4a" stroke-width="0.95" />
<rect x="370.20" y="233.90" width="41.80" height="40.80" fill="#fff" stroke="#4a4a4a" stroke-width="0.95" />
<line x1="370.20" y1="261.40" x2="412.00" y2="261.40" stroke="#e08a7a" stroke-width="0.5" />
<path d="M390.50,261.40 C390.50,261.40 390.17,262.30 390.50,261.40 C390.83,260.50 391.75,258.73 392.50,256.00 C393.25,253.27 394.12,248.23 395.00,245.00 C395.88,241.77 396.93,237.10 397.80,236.60 C398.67,236.10 399.47,239.27 400.20,242.00 C400.93,244.73 401.57,250.08 402.20,253.00 C402.83,255.92 403.45,258.13 404.00,259.50 C404.55,260.87 405.25,260.88 405.50,261.20 C405.75,261.52 405.50,261.37 405.50,261.40 Z" fill="#f4a98f" stroke="#e07b64" stroke-width="0.5"/>
<path d="M384.30,274.30 C384.30,274.30 384.10,275.68 384.30,274.30 C384.50,272.92 385.08,269.72 385.50,266.00 C385.92,262.28 386.42,254.78 386.80,252.00 C387.18,249.22 387.43,249.13 387.80,249.30 C388.17,249.47 388.60,250.22 389.00,253.00 C389.40,255.78 389.87,262.47 390.20,266.00 C390.53,269.53 390.87,272.82 391.00,274.20 C391.13,275.58 391.00,274.28 391.00,274.30 Z" fill="#555" stroke="#333" stroke-width="0.4"/>
<rect x="371.00" y="236.15" width="2.05" height="2.05" fill="#f4a98f" stroke="#777" stroke-width="0.25"/>
<text x="374.05" y="238.20" font-size="3.3" fill="#444" style="color:#444;stroke-width:0.06px" text-anchor="start" >Full stain</text>
<rect x="371.00" y="240.75" width="2.05" height="2.05" fill="#333" stroke="#777" stroke-width="0.25"/>
<text x="374.05" y="242.80" font-size="3.3" fill="#444" style="color:#444;stroke-width:0.06px" text-anchor="start" >IL-1β FMO</text>
<text x="339.60" y="248.60" font-size="5.6" fill="#161616" style="color:#161616" text-anchor="start" textLength="25.80" lengthAdjust="spacingAndGlyphs" >IL-1β FMO</text>
<text x="338.60" y="256.40" font-size="5.5" fill="#161616" style="color:#161616" text-anchor="end" >10<tspan font-size="3.85" dy="-2.48">5</tspan></text>
<line x1="339.80" y1="254.60" x2="341.30" y2="254.60" stroke="#333" stroke-width="0.5" />
<text x="338.60" y="265.80" font-size="5.5" fill="#161616" style="color:#161616" text-anchor="end" >10<tspan font-size="3.85" dy="-2.48">4</tspan></text>
<line x1="339.80" y1="264.00" x2="341.30" y2="264.00" stroke="#333" stroke-width="0.5" />
<text x="338.60" y="278.20" font-size="5.5" fill="#161616" style="color:#161616" text-anchor="end" >10<tspan font-size="3.85" dy="-2.48">3</tspan></text>
<line x1="339.80" y1="276.40" x2="341.30" y2="276.40" stroke="#333" stroke-width="0.5" />
<text x="338.60" y="292.40" font-size="5.5" fill="#161616" style="color:#161616" text-anchor="end" >0</text>
<line x1="339.80" y1="290.60" x2="341.30" y2="290.60" stroke="#333" stroke-width="0.5" />
<rect x="339.90" y="289.70" width="1.4" height="1.8" fill="#111"/>
<text x="347.00" y="305.10" font-size="5.5" fill="#161616" style="color:#161616" text-anchor="middle" >0</text>
<line x1="347.00" y1="298.00" x2="347.00" y2="299.50" stroke="#333" stroke-width="0.5" />
<rect x="346.10" y="298.00" width="1.8" height="1.4" fill="#111"/>
<text x="361.40" y="305.10" font-size="5.5" fill="#161616" style="color:#161616" text-anchor="middle" >10<tspan font-size="3.85" dy="-2.48">3</tspan></text>
<line x1="361.40" y1="298.00" x2="361.40" y2="299.50" stroke="#333" stroke-width="0.5" />
<text x="373.00" y="305.10" font-size="5.5" fill="#161616" style="color:#161616" text-anchor="middle" >10<tspan font-size="3.85" dy="-2.48">4</tspan></text>
<line x1="373.00" y1="298.00" x2="373.00" y2="299.50" stroke="#333" stroke-width="0.5" />
<text x="383.60" y="305.10" font-size="5.5" fill="#161616" style="color:#161616" text-anchor="middle" >10<tspan font-size="3.85" dy="-2.48">5</tspan></text>
<line x1="383.60" y1="298.00" x2="383.60" y2="299.50" stroke="#333" stroke-width="0.5" />
<line x1="324.80" y1="256.60" x2="324.80" y2="274.70" stroke="#333" stroke-width="0.5" />
<path d="M323.70,257.20 L324.80,254.60 L325.90,257.20 Z" fill="#111"/>
<text x="326.50" y="288.45" font-size="5.5" fill="#222" style="color:#222" text-anchor="middle" font-weight="bold" textLength="8.50" lengthAdjust="spacingAndGlyphs" transform="rotate(-90 326.50 288.45)" >IL8</text>
<text x="321.80" y="268.35" font-size="5.5" fill="#333" style="color:#333" text-anchor="middle" textLength="25.30" lengthAdjust="spacingAndGlyphs" transform="rotate(-90 321.80 268.35)" >(PE-CF594)</text>
<line x1="382.00" y1="316.00" x2="357.30" y2="316.00" stroke="#333" stroke-width="0.5" />
<path d="M381.40,314.90 L384.00,316.00 L381.40,317.10 Z" fill="#111"/>
<text x="343.80" y="317.70" font-size="5.5" fill="#222" style="color:#222" text-anchor="start" font-weight="bold" textLength="11.70" lengthAdjust="spacingAndGlyphs" >IL-1β</text>
<text x="371.15" y="313.00" font-size="5.5" fill="#333" style="color:#333" text-anchor="middle" textLength="13.10" lengthAdjust="spacingAndGlyphs" >(FMO)</text>
<clipPath id="c15"><rect x="446.40" y="250.20" width="48.20" height="47.80"/></clipPath><g clip-path="url(#c15)">
<path d="M446.56,261.24 C446.86,259.57 448.43,259.86 450.69,259.47 C452.95,259.08 456.98,258.88 460.13,258.88 C463.28,258.88 467.50,258.88 469.57,259.47 C471.63,260.06 472.72,260.55 472.52,262.42 C472.32,264.29 470.26,268.22 468.39,270.68 C466.52,273.14 463.47,276.09 461.31,277.17 C459.15,278.25 457.48,278.45 455.41,277.17 C453.35,275.89 450.40,272.15 448.92,269.50 C447.44,266.85 446.26,262.91 446.56,261.24 Z" fill="#c3cdee" stroke="none" stroke-width="0.6" filter="url(#b15)" opacity="0.55"/>
<path d="M448.50,262.00 C448.75,260.58 450.08,260.83 452.00,260.50 C453.92,260.17 457.33,260.00 460.00,260.00 C462.67,260.00 466.25,260.00 468.00,260.50 C469.75,261.00 470.67,261.42 470.50,263.00 C470.33,264.58 468.58,267.92 467.00,270.00 C465.42,272.08 462.83,274.58 461.00,275.50 C459.17,276.42 457.75,276.58 456.00,275.50 C454.25,274.42 451.75,271.25 450.50,269.00 C449.25,266.75 448.25,263.42 448.50,262.00 Z" fill="#b9c6ea" stroke="none" stroke-width="0.6" filter="url(#b1)" opacity="0.7"/>
<path d="M448.50,262.00 C448.75,260.58 450.08,260.83 452.00,260.50 C453.92,260.17 457.33,260.00 460.00,260.00 C462.67,260.00 466.25,260.00 468.00,260.50 C469.75,261.00 470.67,261.42 470.50,263.00 C470.33,264.58 468.58,267.92 467.00,270.00 C465.42,272.08 462.83,274.58 461.00,275.50 C459.17,276.42 457.75,276.58 456.00,275.50 C454.25,274.42 451.75,271.25 450.50,269.00 C449.25,266.75 448.25,263.42 448.50,262.00 Z" fill="#c7d1ef" stroke="#3a5cb4" stroke-width="0.85" />
<path d="M451.52,263.18 C451.70,262.16 452.66,262.34 454.04,262.10 C455.42,261.86 457.88,261.74 459.80,261.74 C461.72,261.74 464.30,261.74 465.56,262.10 C466.82,262.46 467.48,262.76 467.36,263.90 C467.24,265.04 465.98,267.44 464.84,268.94 C463.70,270.44 461.84,272.24 460.52,272.90 C459.20,273.56 458.18,273.68 456.92,272.90 C455.66,272.12 453.86,269.84 452.96,268.22 C452.06,266.60 451.34,264.20 451.52,263.18 Z" fill="#d9dff4" stroke="#7189cc" stroke-width="0.5" />
<path d="M454.97,264.53 C455.07,263.97 455.60,264.07 456.37,263.93 C457.13,263.80 458.50,263.73 459.57,263.73 C460.63,263.73 462.07,263.73 462.77,263.93 C463.47,264.13 463.83,264.30 463.77,264.93 C463.70,265.57 463.00,266.90 462.37,267.73 C461.73,268.57 460.70,269.57 459.97,269.93 C459.23,270.30 458.67,270.37 457.97,269.93 C457.27,269.50 456.27,268.23 455.77,267.33 C455.27,266.43 454.87,265.10 454.97,264.53 Z" fill="#eef1fa" stroke="#a3b2e0" stroke-width="0.4" />
</g>
<rect x="446.40" y="250.20" width="48.20" height="47.80" fill="none" stroke="#4a4a4a" stroke-width="0.95" />
<rect x="478.10" y="236.60" width="40.40" height="40.20" fill="#fff" stroke="#4a4a4a" stroke-width="0.95" />
<line x1="478.10" y1="264.00" x2="518.50" y2="264.00" stroke="#c49ac4" stroke-width="0.5" />
<path d="M479.80,264.00 C479.80,264.00 479.27,265.00 479.80,264.00 C480.33,263.00 481.80,260.50 483.00,258.00 C484.20,255.50 485.75,251.75 487.00,249.00 C488.25,246.25 489.40,243.20 490.50,241.50 C491.60,239.80 492.60,238.80 493.60,238.80 C494.60,238.80 495.43,239.80 496.50,241.50 C497.57,243.20 498.83,246.42 500.00,249.00 C501.17,251.58 502.33,254.83 503.50,257.00 C504.67,259.17 505.92,260.87 507.00,262.00 C508.08,263.13 509.50,263.47 510.00,263.80 C510.50,264.13 510.00,263.97 510.00,264.00 Z" fill="#dcb4d8" stroke="#b486b0" stroke-width="0.5"/>
<path d="M478.80,276.40 C478.80,276.40 478.43,277.80 478.80,276.40 C479.17,275.00 480.13,270.90 481.00,268.00 C481.87,265.10 483.08,261.33 484.00,259.00 C484.92,256.67 485.72,254.90 486.50,254.00 C487.28,253.10 487.87,253.10 488.70,253.60 C489.53,254.10 490.53,254.93 491.50,257.00 C492.47,259.07 493.45,262.80 494.50,266.00 C495.55,269.20 497.25,274.47 497.80,276.20 C498.35,277.93 497.80,276.37 497.80,276.40 Z" fill="#555" stroke="#333" stroke-width="0.4" opacity="0.85"/>
<rect x="498.00" y="238.75" width="2.05" height="2.05" fill="#dcb4d8" stroke="#777" stroke-width="0.25"/>
<text x="501.05" y="240.80" font-size="3.3" fill="#444" style="color:#444;stroke-width:0.06px" text-anchor="start" >Full stain</text>
<rect x="498.00" y="243.35" width="2.05" height="2.05" fill="#333" stroke="#777" stroke-width="0.25"/>
<text x="501.05" y="245.40" font-size="3.3" fill="#444" style="color:#444;stroke-width:0.06px" text-anchor="start" >CD63 FMO</text>
<text x="448.00" y="248.60" font-size="5.6" fill="#161616" style="color:#161616" text-anchor="start" textLength="26.50" lengthAdjust="spacingAndGlyphs" >CD63 FMO</text>
<text x="444.90" y="258.50" font-size="5.5" fill="#161616" style="color:#161616" text-anchor="end" >10<tspan font-size="3.85" dy="-2.48">5</tspan></text>
<line x1="444.90" y1="256.70" x2="446.40" y2="256.70" stroke="#333" stroke-width="0.5" />
<text x="444.90" y="266.60" font-size="5.5" fill="#161616" style="color:#161616" text-anchor="end" >10<tspan font-size="3.85" dy="-2.48">4</tspan></text>
<line x1="444.90" y1="264.80" x2="446.40" y2="264.80" stroke="#333" stroke-width="0.5" />
<text x="444.90" y="278.60" font-size="5.5" fill="#161616" style="color:#161616" text-anchor="end" >10<tspan font-size="3.85" dy="-2.48">3</tspan></text>
<line x1="444.90" y1="276.80" x2="446.40" y2="276.80" stroke="#333" stroke-width="0.5" />
<text x="444.90" y="288.10" font-size="5.5" fill="#161616" style="color:#161616" text-anchor="end" >10<tspan font-size="3.85" dy="-2.48">2</tspan></text>
<line x1="444.90" y1="286.30" x2="446.40" y2="286.30" stroke="#333" stroke-width="0.5" />
<text x="444.90" y="292.40" font-size="5.5" fill="#161616" style="color:#161616" text-anchor="end" >0</text>
<line x1="444.90" y1="290.60" x2="446.40" y2="290.60" stroke="#333" stroke-width="0.5" />
<rect x="445.00" y="289.70" width="1.4" height="1.8" fill="#111"/>
<text x="444.90" y="298.80" font-size="5.5" fill="#161616" style="color:#161616" text-anchor="end" >−10<tspan font-size="3.85" dy="-2.48">2</tspan></text>
<line x1="444.90" y1="297.00" x2="446.40" y2="297.00" stroke="#333" stroke-width="0.5" />
<text x="450.20" y="305.10" font-size="5.5" fill="#161616" style="color:#161616" text-anchor="middle" >−10<tspan font-size="3.85" dy="-2.48">3</tspan></text>
<line x1="450.20" y1="298.00" x2="450.20" y2="299.50" stroke="#333" stroke-width="0.5" />
<text x="458.70" y="305.10" font-size="5.5" fill="#161616" style="color:#161616" text-anchor="middle" >0</text>
<line x1="458.70" y1="298.00" x2="458.70" y2="299.50" stroke="#333" stroke-width="0.5" />
<rect x="457.80" y="298.00" width="1.8" height="1.4" fill="#111"/>
<text x="464.60" y="305.10" font-size="5.5" fill="#161616" style="color:#161616" text-anchor="middle" >10<tspan font-size="3.85" dy="-2.48">3</tspan></text>
<line x1="464.60" y1="298.00" x2="464.60" y2="299.50" stroke="#333" stroke-width="0.5" />
<text x="479.40" y="305.10" font-size="5.5" fill="#161616" style="color:#161616" text-anchor="middle" >10<tspan font-size="3.85" dy="-2.48">4</tspan></text>
<line x1="479.40" y1="298.00" x2="479.40" y2="299.50" stroke="#333" stroke-width="0.5" />
<text x="490.00" y="305.10" font-size="5.5" fill="#161616" style="color:#161616" text-anchor="middle" >10<tspan font-size="3.85" dy="-2.48">5</tspan></text>
<line x1="490.00" y1="298.00" x2="490.00" y2="299.50" stroke="#333" stroke-width="0.5" />
<line x1="427.00" y1="250.30" x2="427.00" y2="281.00" stroke="#333" stroke-width="0.5" />
<path d="M425.90,250.90 L427.00,248.30 L428.10,250.90 Z" fill="#111"/>
<text x="428.70" y="293.15" font-size="5.5" fill="#222" style="color:#222" text-anchor="middle" font-weight="bold" textLength="13.70" lengthAdjust="spacingAndGlyphs" transform="rotate(-90 428.70 293.15)" >IL-1β</text>
<text x="421.80" y="268.30" font-size="5.5" fill="#333" style="color:#333" text-anchor="middle" textLength="27.40" lengthAdjust="spacingAndGlyphs" transform="rotate(-90 421.80 268.30)" >(Pacific Blue)</text>
<line x1="487.30" y1="316.00" x2="462.60" y2="316.00" stroke="#333" stroke-width="0.5" />
<path d="M486.70,314.90 L489.30,316.00 L486.70,317.10 Z" fill="#111"/>
<text x="451.30" y="317.70" font-size="5.5" fill="#222" style="color:#222" text-anchor="start" font-weight="bold" textLength="9.50" lengthAdjust="spacingAndGlyphs" >CD63</text>
<text x="476.65" y="313.00" font-size="5.5" fill="#333" style="color:#333" text-anchor="middle" textLength="12.70" lengthAdjust="spacingAndGlyphs" >(FMO)</text>
<path d="M68.30,384.40 C68.30,384.40 68.05,385.47 68.30,384.40 C68.55,383.33 69.33,380.90 69.80,378.00 C70.27,375.10 70.67,370.42 71.10,367.00 C71.53,363.58 71.93,359.83 72.40,357.50 C72.87,355.17 73.37,353.42 73.90,353.00 C74.43,352.58 74.98,353.50 75.60,355.00 C76.22,356.50 76.83,359.50 77.60,362.00 C78.37,364.50 79.13,367.50 80.20,370.00 C81.27,372.50 82.37,375.08 84.00,377.00 C85.63,378.92 87.67,380.40 90.00,381.50 C92.33,382.60 95.33,383.13 98.00,383.60 C100.67,384.07 104.67,384.17 106.00,384.30 C107.33,384.43 106.00,384.38 106.00,384.40 Z" fill="#d3e6dc" stroke="#a3c9b7" stroke-width="0.5"/>
<line x1="43.10" y1="384.40" x2="111.40" y2="384.40" stroke="#c4d6cc" stroke-width="0.6" />
<path d="M62.60,401.30 C62.60,401.30 62.40,402.52 62.60,401.30 C62.80,400.08 63.40,397.38 63.80,394.00 C64.20,390.62 64.58,384.92 65.00,381.00 C65.42,377.08 65.83,371.83 66.30,370.50 C66.77,369.17 67.30,370.75 67.80,373.00 C68.30,375.25 68.73,380.67 69.30,384.00 C69.87,387.33 70.33,390.57 71.20,393.00 C72.07,395.43 73.20,397.27 74.50,398.60 C75.80,399.93 78.25,400.55 79.00,401.00 C79.75,401.45 79.00,401.25 79.00,401.30 Z" fill="#cfcfcf" stroke="#a5a5a5" stroke-width="0.5"/>
<line x1="43.10" y1="401.30" x2="111.40" y2="401.30" stroke="#cfcfcf" stroke-width="0.6" />
<path d="M57.60,418.10 C57.60,418.08 57.33,419.52 57.60,418.00 C57.87,416.48 58.67,412.67 59.20,409.00 C59.73,405.33 60.28,399.73 60.80,396.00 C61.32,392.27 61.80,388.33 62.30,386.60 C62.80,384.87 63.30,384.53 63.80,385.60 C64.30,386.67 64.77,389.77 65.30,393.00 C65.83,396.23 66.33,401.75 67.00,405.00 C67.67,408.25 68.38,410.63 69.30,412.50 C70.22,414.37 71.30,415.32 72.50,416.20 C73.70,417.08 75.83,417.48 76.50,417.80 C77.17,418.12 76.50,418.05 76.50,418.10 Z" fill="#a2a8e0" stroke="#5a64b8" stroke-width="0.5"/>
<line x1="67.40" y1="352.70" x2="67.40" y2="383.80" stroke="#999" stroke-width="0.6" stroke-dasharray="0.8,0.9"/>
<line x1="68.40" y1="352.70" x2="68.40" y2="383.80" stroke="#999" stroke-width="0.6" stroke-dasharray="0.8,0.9"/>
<line x1="63.00" y1="385.50" x2="63.00" y2="417.50" stroke="#2a3590" stroke-width="0.6" stroke-dasharray="0.8,0.9"/>
<line x1="43.10" y1="350.70" x2="111.40" y2="350.70" stroke="#888" stroke-width="0.6" />
<line x1="111.40" y1="350.70" x2="111.40" y2="418.10" stroke="#777" stroke-width="0.6" />
<line x1="43.10" y1="350.70" x2="43.10" y2="418.10" stroke="#222" stroke-width="0.8" />
<line x1="43.10" y1="418.10" x2="111.40" y2="418.10" stroke="#111" stroke-width="0.9" />
<rect x="77.93" y="351.92" width="2.48" height="2.48" fill="#d3e6dc" stroke="#777" stroke-width="0.25"/>
<text x="81.41" y="354.40" font-size="4.0" fill="#444" style="color:#444;stroke-width:0.06px" text-anchor="start" >Severe ETA</text>
<rect x="77.93" y="357.52" width="2.48" height="2.48" fill="#cfcfcf" stroke="#777" stroke-width="0.25"/>
<text x="81.41" y="360.00" font-size="4.0" fill="#444" style="color:#444;stroke-width:0.06px" text-anchor="start" >Severe Blood</text>
<rect x="77.93" y="363.12" width="2.48" height="2.48" fill="#a2a8e0" stroke="#777" stroke-width="0.25"/>
<text x="81.41" y="365.60" font-size="4.0" fill="#444" style="color:#444;stroke-width:0.06px" text-anchor="start" >Healthy Blood</text>
<text x="118.40" y="381.30" font-size="4.0" fill="#444" style="color:#444;stroke-width:0.06px" text-anchor="middle" textLength="16.00" lengthAdjust="spacingAndGlyphs" transform="rotate(-90 118.40 381.30)" >ETA FMO</text>
<text x="118.40" y="409.00" font-size="4.0" fill="#444" style="color:#444;stroke-width:0.06px" text-anchor="middle" textLength="19.00" lengthAdjust="spacingAndGlyphs" transform="rotate(-90 118.40 409.00)" >Blood FMO</text>
<line x1="114.60" y1="401.50" x2="114.60" y2="417.50" stroke="#555" stroke-width="0.5" stroke-dasharray="0.7,0.8"/>
<text x="51.30" y="425.60" font-size="5.5" fill="#161616" style="color:#161616" text-anchor="middle" >0</text>
<line x1="51.30" y1="418.10" x2="51.30" y2="419.60" stroke="#333" stroke-width="0.5" />
<rect x="50.40" y="418.10" width="1.8" height="1.4" fill="#111"/>
<text x="73.80" y="425.60" font-size="5.5" fill="#161616" style="color:#161616" text-anchor="middle" >10<tspan font-size="3.85" dy="-2.48">3</tspan></text>
<line x1="73.80" y1="418.10" x2="73.80" y2="419.60" stroke="#333" stroke-width="0.5" />
<text x="88.80" y="425.60" font-size="5.5" fill="#161616" style="color:#161616" text-anchor="middle" >10<tspan font-size="3.85" dy="-2.48">4</tspan></text>
<line x1="88.80" y1="418.10" x2="88.80" y2="419.60" stroke="#333" stroke-width="0.5" />
<text x="105.00" y="425.60" font-size="5.5" fill="#161616" style="color:#161616" text-anchor="middle" >10<tspan font-size="3.85" dy="-2.48">5</tspan></text>
<line x1="105.00" y1="418.10" x2="105.00" y2="419.60" stroke="#333" stroke-width="0.5" />
<line x1="104.30" y1="436.50" x2="55.60" y2="436.50" stroke="#333" stroke-width="0.5" />
<path d="M103.70,435.40 L106.30,436.50 L103.70,437.60 Z" fill="#111"/>
<text x="48.80" y="438.20" font-size="5.5" fill="#222" style="color:#222" text-anchor="start" font-weight="bold" textLength="5.00" lengthAdjust="spacingAndGlyphs" >NE</text>
<text x="80.65" y="433.70" font-size="5.5" fill="#333" style="color:#333" text-anchor="middle" textLength="18.70" lengthAdjust="spacingAndGlyphs" >(AF488)</text>
<path d="M137.70,384.40 C137.70,384.40 137.15,385.47 137.70,384.40 C138.25,383.33 139.78,381.23 141.00,378.00 C142.22,374.77 143.55,369.28 145.00,365.00 C146.45,360.72 148.37,353.97 149.70,352.30 C151.03,350.63 151.78,353.05 153.00,355.00 C154.22,356.95 155.50,361.00 157.00,364.00 C158.50,367.00 160.17,370.33 162.00,373.00 C163.83,375.67 165.83,378.23 168.00,380.00 C170.17,381.77 173.33,382.88 175.00,383.60 C176.67,384.32 177.50,384.17 178.00,384.30 C178.50,384.43 178.00,384.38 178.00,384.40 Z" fill="#d3e6dc" stroke="#a3c9b7" stroke-width="0.5"/>
<line x1="135.40" y1="384.40" x2="204.20" y2="384.40" stroke="#c4d6cc" stroke-width="0.6" />
<path d="M148.00,401.30 C148.00,401.30 147.75,402.52 148.00,401.30 C148.25,400.08 149.00,397.88 149.50,394.00 C150.00,390.12 150.55,382.13 151.00,378.00 C151.45,373.87 151.70,370.03 152.20,369.20 C152.70,368.37 153.28,369.87 154.00,373.00 C154.72,376.13 155.58,383.92 156.50,388.00 C157.42,392.08 158.50,395.33 159.50,397.50 C160.50,399.67 162.00,400.37 162.50,401.00 C163.00,401.63 162.50,401.25 162.50,401.30 Z" fill="#cfcfcf" stroke="#a5a5a5" stroke-width="0.5"/>
<line x1="135.40" y1="401.30" x2="204.20" y2="401.30" stroke="#cfcfcf" stroke-width="0.6" />
<path d="M141.00,418.10 C141.00,418.08 140.67,419.35 141.00,418.00 C141.33,416.65 142.25,414.17 143.00,410.00 C143.75,405.83 144.73,397.03 145.50,393.00 C146.27,388.97 146.85,386.13 147.60,385.80 C148.35,385.47 149.10,387.63 150.00,391.00 C150.90,394.37 152.00,402.08 153.00,406.00 C154.00,409.92 155.00,412.53 156.00,414.50 C157.00,416.47 158.50,417.20 159.00,417.80 C159.50,418.40 159.00,418.05 159.00,418.10 Z" fill="#a2a8e0" stroke="#5a64b8" stroke-width="0.5"/>
<line x1="147.00" y1="352.30" x2="147.00" y2="417.50" stroke="#333" stroke-width="0.6" stroke-dasharray="0.8,0.9"/>
<line x1="135.40" y1="350.70" x2="204.20" y2="350.70" stroke="#888" stroke-width="0.6" />
<line x1="204.20" y1="350.70" x2="204.20" y2="418.10" stroke="#777" stroke-width="0.6" />
<line x1="135.40" y1="350.70" x2="135.40" y2="418.10" stroke="#222" stroke-width="0.8" />
<line x1="135.40" y1="418.10" x2="204.20" y2="418.10" stroke="#111" stroke-width="0.9" />
<rect x="170.49" y="351.92" width="2.48" height="2.48" fill="#d3e6dc" stroke="#777" stroke-width="0.25"/>
<text x="173.97" y="354.40" font-size="4.0" fill="#444" style="color:#444;stroke-width:0.06px" text-anchor="start" >Severe ETA</text>
<rect x="170.49" y="357.52" width="2.48" height="2.48" fill="#cfcfcf" stroke="#777" stroke-width="0.25"/>
<text x="173.97" y="360.00" font-size="4.0" fill="#444" style="color:#444;stroke-width:0.06px" text-anchor="start" >Severe Blood</text>
<rect x="170.49" y="363.12" width="2.48" height="2.48" fill="#a2a8e0" stroke="#777" stroke-width="0.25"/>
<text x="173.97" y="365.60" font-size="4.0" fill="#444" style="color:#444;stroke-width:0.06px" text-anchor="start" >Healthy Blood</text>
<text x="211.20" y="401.00" font-size="4.0" fill="#444" style="color:#444;stroke-width:0.06px" text-anchor="middle" textLength="32.00" lengthAdjust="spacingAndGlyphs" transform="rotate(-90 211.20 401.00)" >Blood &amp; ETA FMO</text>
<line x1="207.40" y1="384.60" x2="207.40" y2="417.50" stroke="#555" stroke-width="0.5" stroke-dasharray="0.7,0.8"/>
<text x="147.00" y="425.60" font-size="5.5" fill="#161616" style="color:#161616" text-anchor="middle" >0</text>
<line x1="147.00" y1="418.10" x2="147.00" y2="419.60" stroke="#333" stroke-width="0.5" />
<rect x="146.10" y="418.10" width="1.8" height="1.4" fill="#111"/>
<text x="164.20" y="425.60" font-size="5.5" fill="#161616" style="color:#161616" text-anchor="middle" >10<tspan font-size="3.85" dy="-2.48">3</tspan></text>
<line x1="164.20" y1="418.10" x2="164.20" y2="419.60" stroke="#333" stroke-width="0.5" />
<text x="181.50" y="425.60" font-size="5.5" fill="#161616" style="color:#161616" text-anchor="middle" >10<tspan font-size="3.85" dy="-2.48">4</tspan></text>
<line x1="181.50" y1="418.10" x2="181.50" y2="419.60" stroke="#333" stroke-width="0.5" />
<text x="197.70" y="425.60" font-size="5.5" fill="#161616" style="color:#161616" text-anchor="middle" >10<tspan font-size="3.85" dy="-2.48">5</tspan></text>
<line x1="197.70" y1="418.10" x2="197.70" y2="419.60" stroke="#333" stroke-width="0.5" />
<line x1="195.20" y1="436.50" x2="155.60" y2="436.50" stroke="#333" stroke-width="0.5" />
<path d="M194.60,435.40 L197.20,436.50 L194.60,437.60 Z" fill="#111"/>
<text x="141.20" y="438.20" font-size="5.5" fill="#222" style="color:#222" text-anchor="start" font-weight="bold" textLength="12.60" lengthAdjust="spacingAndGlyphs" >CD184</text>
<text x="176.35" y="433.70" font-size="5.5" fill="#333" style="color:#333" text-anchor="middle" textLength="19.70" lengthAdjust="spacingAndGlyphs" >(PE-Cy7)</text>
<path d="M230.70,384.40 C230.70,384.40 230.32,385.63 230.70,384.40 C231.08,383.17 232.03,380.57 233.00,377.00 C233.97,373.43 235.20,367.00 236.50,363.00 C237.80,359.00 239.63,353.83 240.80,353.00 C241.97,352.17 242.72,355.00 243.50,358.00 C244.28,361.00 244.87,366.70 245.50,371.00 C246.13,375.30 247.00,381.57 247.30,383.80 C247.60,386.03 247.30,384.30 247.30,384.40 Z" fill="#d3e6dc" stroke="#a3c9b7" stroke-width="0.5"/>
<line x1="227.70" y1="384.40" x2="295.80" y2="384.40" stroke="#c4d6cc" stroke-width="0.6" />
<path d="M241.50,401.30 C241.50,401.30 241.08,402.35 241.50,401.30 C241.92,400.25 243.17,398.55 244.00,395.00 C244.83,391.45 245.63,384.30 246.50,380.00 C247.37,375.70 248.37,369.70 249.20,369.20 C250.03,368.70 250.78,373.03 251.50,377.00 C252.22,380.97 252.85,389.00 253.50,393.00 C254.15,397.00 255.08,399.62 255.40,401.00 C255.72,402.38 255.40,401.25 255.40,401.30 Z" fill="#cfcfcf" stroke="#a5a5a5" stroke-width="0.5"/>
<line x1="227.70" y1="401.30" x2="295.80" y2="401.30" stroke="#cfcfcf" stroke-width="0.6" />
<path d="M229.30,418.10 C229.30,418.08 228.77,419.35 229.30,418.00 C229.83,416.65 231.58,414.00 232.50,410.00 C233.42,406.00 234.07,397.83 234.80,394.00 C235.53,390.17 236.28,386.83 236.90,387.00 C237.52,387.17 237.90,391.83 238.50,395.00 C239.10,398.17 239.75,403.42 240.50,406.00 C241.25,408.58 242.08,409.67 243.00,410.50 C243.92,411.33 245.00,410.58 246.00,411.00 C247.00,411.42 248.00,412.08 249.00,413.00 C250.00,413.92 251.13,415.68 252.00,416.50 C252.87,417.32 253.83,417.63 254.20,417.90 C254.57,418.17 254.20,418.07 254.20,418.10 Z" fill="#a2a8e0" stroke="#5a64b8" stroke-width="0.5"/>
<line x1="236.20" y1="353.00" x2="236.20" y2="417.50" stroke="#8890c0" stroke-width="0.6" stroke-dasharray="0.8,0.9"/>
<line x1="227.70" y1="350.70" x2="295.80" y2="350.70" stroke="#888" stroke-width="0.6" />
<line x1="295.80" y1="350.70" x2="295.80" y2="418.10" stroke="#777" stroke-width="0.6" />
<line x1="227.70" y1="350.70" x2="227.70" y2="418.10" stroke="#222" stroke-width="0.8" />
<line x1="227.70" y1="418.10" x2="295.80" y2="418.10" stroke="#111" stroke-width="0.9" />
<rect x="262.43" y="351.92" width="2.48" height="2.48" fill="#d3e6dc" stroke="#777" stroke-width="0.25"/>
<text x="265.91" y="354.40" font-size="4.0" fill="#444" style="color:#444;stroke-width:0.06px" text-anchor="start" >Severe ETA</text>
<rect x="262.43" y="357.52" width="2.48" height="2.48" fill="#cfcfcf" stroke="#777" stroke-width="0.25"/>
<text x="265.91" y="360.00" font-size="4.0" fill="#444" style="color:#444;stroke-width:0.06px" text-anchor="start" >Severe Blood</text>
<rect x="262.43" y="363.12" width="2.48" height="2.48" fill="#a2a8e0" stroke="#777" stroke-width="0.25"/>
<text x="265.91" y="365.60" font-size="4.0" fill="#444" style="color:#444;stroke-width:0.06px" text-anchor="start" >Healthy Blood</text>
<text x="302.80" y="401.00" font-size="4.0" fill="#444" style="color:#444;stroke-width:0.06px" text-anchor="middle" textLength="32.00" lengthAdjust="spacingAndGlyphs" transform="rotate(-90 302.80 401.00)" >Blood &amp; ETA FMO</text>
<line x1="299.00" y1="384.60" x2="299.00" y2="417.50" stroke="#555" stroke-width="0.5" stroke-dasharray="0.7,0.8"/>
<text x="236.20" y="425.60" font-size="5.5" fill="#161616" style="color:#161616" text-anchor="middle" >0</text>
<line x1="236.20" y1="418.10" x2="236.20" y2="419.60" stroke="#333" stroke-width="0.5" />
<rect x="235.30" y="418.10" width="1.8" height="1.4" fill="#111"/>
<text x="257.70" y="425.60" font-size="5.5" fill="#161616" style="color:#161616" text-anchor="middle" >10<tspan font-size="3.85" dy="-2.48">3</tspan></text>
<line x1="257.70" y1="418.10" x2="257.70" y2="419.60" stroke="#333" stroke-width="0.5" />
<text x="273.80" y="425.60" font-size="5.5" fill="#161616" style="color:#161616" text-anchor="middle" >10<tspan font-size="3.85" dy="-2.48">4</tspan></text>
<line x1="273.80" y1="418.10" x2="273.80" y2="419.60" stroke="#333" stroke-width="0.5" />
<text x="288.80" y="425.60" font-size="5.5" fill="#161616" style="color:#161616" text-anchor="middle" >10<tspan font-size="3.85" dy="-2.48">5</tspan></text>
<line x1="288.80" y1="418.10" x2="288.80" y2="419.60" stroke="#333" stroke-width="0.5" />
<line x1="288.00" y1="436.50" x2="242.20" y2="436.50" stroke="#333" stroke-width="0.5" />
<path d="M287.40,435.40 L290.00,436.50 L287.40,437.60 Z" fill="#111"/>
<text x="233.50" y="438.20" font-size="5.5" fill="#222" style="color:#222" text-anchor="start" font-weight="bold" textLength="6.90" lengthAdjust="spacingAndGlyphs" >IL-6</text>
<text x="265.70" y="433.70" font-size="5.5" fill="#333" style="color:#333" text-anchor="middle" textLength="9.40" lengthAdjust="spacingAndGlyphs" >(PE)</text>
<path d="M334.60,384.40 C334.60,384.40 334.12,385.63 334.60,384.40 C335.08,383.17 336.43,380.40 337.50,377.00 C338.57,373.60 339.75,368.00 341.00,364.00 C342.25,360.00 343.67,353.50 345.00,353.00 C346.33,352.50 347.67,357.67 349.00,361.00 C350.33,364.33 351.58,369.58 353.00,373.00 C354.42,376.42 356.13,379.62 357.50,381.50 C358.87,383.38 360.58,383.82 361.20,384.30 C361.82,384.78 361.20,384.38 361.20,384.40 Z" fill="#d3e6dc" stroke="#a3c9b7" stroke-width="0.5"/>
<line x1="319.60" y1="384.40" x2="387.70" y2="384.40" stroke="#c4d6cc" stroke-width="0.6" />
<path d="M324.20,401.30 C324.20,401.30 323.73,402.68 324.20,401.30 C324.67,399.92 326.03,397.05 327.00,393.00 C327.97,388.95 329.20,380.97 330.00,377.00 C330.80,373.03 331.13,369.87 331.80,369.20 C332.47,368.53 333.13,369.70 334.00,373.00 C334.87,376.30 336.00,384.83 337.00,389.00 C338.00,393.17 339.25,396.00 340.00,398.00 C340.75,400.00 341.25,400.45 341.50,401.00 C341.75,401.55 341.50,401.25 341.50,401.30 Z" fill="#cfcfcf" stroke="#a5a5a5" stroke-width="0.5"/>
<line x1="319.60" y1="401.30" x2="387.70" y2="401.30" stroke="#cfcfcf" stroke-width="0.6" />
<path d="M320.80,418.10 C320.80,418.08 320.43,420.18 320.80,418.00 C321.17,415.82 322.22,409.67 323.00,405.00 C323.78,400.33 324.80,393.40 325.50,390.00 C326.20,386.60 326.45,384.27 327.20,384.60 C327.95,384.93 328.87,388.60 330.00,392.00 C331.13,395.40 332.67,401.33 334.00,405.00 C335.33,408.67 336.93,411.87 338.00,414.00 C339.07,416.13 340.00,417.12 340.40,417.80 C340.80,418.48 340.40,418.05 340.40,418.10 Z" fill="#a2a8e0" stroke="#5a64b8" stroke-width="0.5"/>
<line x1="330.70" y1="353.00" x2="330.70" y2="384.00" stroke="#aaa" stroke-width="0.6" stroke-dasharray="0.8,0.9"/>
<line x1="327.20" y1="385.00" x2="327.20" y2="417.50" stroke="#2a3590" stroke-width="0.6" stroke-dasharray="0.8,0.9"/>
<line x1="319.60" y1="350.70" x2="387.70" y2="350.70" stroke="#888" stroke-width="0.6" />
<line x1="387.70" y1="350.70" x2="387.70" y2="418.10" stroke="#777" stroke-width="0.6" />
<line x1="319.60" y1="350.70" x2="319.60" y2="418.10" stroke="#222" stroke-width="0.8" />
<line x1="319.60" y1="418.10" x2="387.70" y2="418.10" stroke="#111" stroke-width="0.9" />
<rect x="354.33" y="351.92" width="2.48" height="2.48" fill="#d3e6dc" stroke="#777" stroke-width="0.25"/>
<text x="357.81" y="354.40" font-size="4.0" fill="#444" style="color:#444;stroke-width:0.06px" text-anchor="start" >Severe ETA</text>
<rect x="354.33" y="357.52" width="2.48" height="2.48" fill="#cfcfcf" stroke="#777" stroke-width="0.25"/>
<text x="357.81" y="360.00" font-size="4.0" fill="#444" style="color:#444;stroke-width:0.06px" text-anchor="start" >Severe Blood</text>
<rect x="354.33" y="363.12" width="2.48" height="2.48" fill="#a2a8e0" stroke="#777" stroke-width="0.25"/>
<text x="357.81" y="365.60" font-size="4.0" fill="#444" style="color:#444;stroke-width:0.06px" text-anchor="start" >Healthy Blood</text>
<text x="394.70" y="381.30" font-size="4.0" fill="#444" style="color:#444;stroke-width:0.06px" text-anchor="middle" textLength="16.00" lengthAdjust="spacingAndGlyphs" transform="rotate(-90 394.70 381.30)" >ETA FMO</text>
<text x="394.70" y="409.00" font-size="4.0" fill="#444" style="color:#444;stroke-width:0.06px" text-anchor="middle" textLength="19.00" lengthAdjust="spacingAndGlyphs" transform="rotate(-90 394.70 409.00)" >Blood FMO</text>
<line x1="390.90" y1="401.50" x2="390.90" y2="417.50" stroke="#555" stroke-width="0.5" stroke-dasharray="0.7,0.8"/>
<text x="327.70" y="425.60" font-size="5.5" fill="#161616" style="color:#161616" text-anchor="middle" >0</text>
<line x1="327.70" y1="418.10" x2="327.70" y2="419.60" stroke="#333" stroke-width="0.5" />
<rect x="326.80" y="418.10" width="1.8" height="1.4" fill="#111"/>
<text x="348.50" y="425.60" font-size="5.5" fill="#161616" style="color:#161616" text-anchor="middle" >10<tspan font-size="3.85" dy="-2.48">3</tspan></text>
<line x1="348.50" y1="418.10" x2="348.50" y2="419.60" stroke="#333" stroke-width="0.5" />
<text x="365.80" y="425.60" font-size="5.5" fill="#161616" style="color:#161616" text-anchor="middle" >10<tspan font-size="3.85" dy="-2.48">4</tspan></text>
<line x1="365.80" y1="418.10" x2="365.80" y2="419.60" stroke="#333" stroke-width="0.5" />
<text x="382.00" y="425.60" font-size="5.5" fill="#161616" style="color:#161616" text-anchor="middle" >10<tspan font-size="3.85" dy="-2.48">5</tspan></text>
<line x1="382.00" y1="418.10" x2="382.00" y2="419.60" stroke="#333" stroke-width="0.5" />
<line x1="377.60" y1="436.50" x2="335.30" y2="436.50" stroke="#333" stroke-width="0.5" />
<path d="M377.00,435.40 L379.60,436.50 L377.00,437.60 Z" fill="#111"/>
<text x="326.50" y="438.20" font-size="5.5" fill="#222" style="color:#222" text-anchor="start" font-weight="bold" textLength="7.00" lengthAdjust="spacingAndGlyphs" >IL-8</text>
<text x="357.65" y="433.70" font-size="5.5" fill="#333" style="color:#333" text-anchor="middle" textLength="27.70" lengthAdjust="spacingAndGlyphs" >(PE-CF594)</text>
<path d="M432.00,384.40 C432.00,384.40 431.17,384.50 432.00,384.40 C432.83,384.30 435.42,384.07 437.00,383.80 C438.58,383.53 440.17,383.60 441.50,382.80 C442.83,382.00 443.92,381.30 445.00,379.00 C446.08,376.70 447.00,372.50 448.00,369.00 C449.00,365.50 449.97,360.63 451.00,358.00 C452.03,355.37 453.15,353.28 454.20,353.20 C455.25,353.12 456.33,355.03 457.30,357.50 C458.27,359.97 459.13,364.42 460.00,368.00 C460.87,371.58 461.73,376.30 462.50,379.00 C463.27,381.70 464.25,383.30 464.60,384.20 C464.95,385.10 464.60,384.37 464.60,384.40 Z" fill="#d3e6dc" stroke="#a3c9b7" stroke-width="0.5"/>
<line x1="411.50" y1="384.40" x2="479.60" y2="384.40" stroke="#c4d6cc" stroke-width="0.6" />
<path d="M443.80,401.30 C443.80,401.30 443.52,402.85 443.80,401.30 C444.08,399.75 444.88,396.22 445.50,392.00 C446.12,387.78 446.93,379.92 447.50,376.00 C448.07,372.08 448.40,369.17 448.90,368.50 C449.40,367.83 449.90,369.08 450.50,372.00 C451.10,374.92 451.83,381.83 452.50,386.00 C453.17,390.17 454.02,394.50 454.50,397.00 C454.98,399.50 455.25,400.28 455.40,401.00 C455.55,401.72 455.40,401.25 455.40,401.30 Z" fill="#cfcfcf" stroke="#a5a5a5" stroke-width="0.5"/>
<line x1="411.50" y1="401.30" x2="479.60" y2="401.30" stroke="#cfcfcf" stroke-width="0.6" />
<path d="M424.20,418.10 C424.20,418.08 423.73,418.68 424.20,418.00 C424.67,417.32 426.12,417.00 427.00,414.00 C427.88,411.00 428.83,404.00 429.50,400.00 C430.17,396.00 430.53,392.57 431.00,390.00 C431.47,387.43 431.80,383.77 432.30,384.60 C432.80,385.43 433.38,391.10 434.00,395.00 C434.62,398.90 435.17,405.25 436.00,408.00 C436.83,410.75 437.83,411.08 439.00,411.50 C440.17,411.92 441.83,410.55 443.00,410.50 C444.17,410.45 444.83,410.70 446.00,411.20 C447.17,411.70 448.67,412.62 450.00,413.50 C451.33,414.38 452.72,415.77 454.00,416.50 C455.28,417.23 457.08,417.63 457.70,417.90 C458.32,418.17 457.70,418.07 457.70,418.10 Z" fill="#a2a8e0" stroke="#5a64b8" stroke-width="0.5"/>
<line x1="441.00" y1="368.00" x2="441.00" y2="384.00" stroke="#888" stroke-width="0.6" stroke-dasharray="0.8,0.9"/>
<line x1="432.30" y1="385.00" x2="432.30" y2="417.50" stroke="#2a3590" stroke-width="0.6" stroke-dasharray="0.8,0.9"/>
<line x1="411.50" y1="350.70" x2="479.60" y2="350.70" stroke="#888" stroke-width="0.6" />
<line x1="479.60" y1="350.70" x2="479.60" y2="418.10" stroke="#777" stroke-width="0.6" />
<line x1="411.50" y1="350.70" x2="411.50" y2="418.10" stroke="#222" stroke-width="0.8" />
<line x1="411.50" y1="418.10" x2="479.60" y2="418.10" stroke="#111" stroke-width="0.9" />
<rect x="413.60" y="351.92" width="2.48" height="2.48" fill="#d3e6dc" stroke="#777" stroke-width="0.25"/>
<text x="417.08" y="354.40" font-size="4.0" fill="#444" style="color:#444;stroke-width:0.06px" text-anchor="start" >Severe ETA</text>
<rect x="413.60" y="357.52" width="2.48" height="2.48" fill="#cfcfcf" stroke="#777" stroke-width="0.25"/>
<text x="417.08" y="360.00" font-size="4.0" fill="#444" style="color:#444;stroke-width:0.06px" text-anchor="start" >Severe Blood</text>
<rect x="413.60" y="363.12" width="2.48" height="2.48" fill="#a2a8e0" stroke="#777" stroke-width="0.25"/>
<text x="417.08" y="365.60" font-size="4.0" fill="#444" style="color:#444;stroke-width:0.06px" text-anchor="start" >Healthy Blood</text>
<text x="486.60" y="381.30" font-size="4.0" fill="#444" style="color:#444;stroke-width:0.06px" text-anchor="middle" textLength="16.00" lengthAdjust="spacingAndGlyphs" transform="rotate(-90 486.60 381.30)" >ETA FMO</text>
<text x="486.60" y="409.00" font-size="4.0" fill="#444" style="color:#444;stroke-width:0.06px" text-anchor="middle" textLength="19.00" lengthAdjust="spacingAndGlyphs" transform="rotate(-90 486.60 409.00)" >Blood FMO</text>
<line x1="482.80" y1="401.50" x2="482.80" y2="417.50" stroke="#555" stroke-width="0.5" stroke-dasharray="0.7,0.8"/>
<text x="420.30" y="425.60" font-size="5.5" fill="#161616" style="color:#161616" text-anchor="middle" >0</text>
<line x1="420.30" y1="418.10" x2="420.30" y2="419.60" stroke="#333" stroke-width="0.5" />
<rect x="419.40" y="418.10" width="1.8" height="1.4" fill="#111"/>
<text x="441.50" y="425.60" font-size="5.5" fill="#161616" style="color:#161616" text-anchor="middle" >10<tspan font-size="3.85" dy="-2.48">3</tspan></text>
<line x1="441.50" y1="418.10" x2="441.50" y2="419.60" stroke="#333" stroke-width="0.5" />
<text x="456.50" y="425.60" font-size="5.5" fill="#161616" style="color:#161616" text-anchor="middle" >10<tspan font-size="3.85" dy="-2.48">4</tspan></text>
<line x1="456.50" y1="418.10" x2="456.50" y2="419.60" stroke="#333" stroke-width="0.5" />
<text x="472.70" y="425.60" font-size="5.5" fill="#161616" style="color:#161616" text-anchor="middle" >10<tspan font-size="3.85" dy="-2.48">5</tspan></text>
<line x1="472.70" y1="418.10" x2="472.70" y2="419.60" stroke="#333" stroke-width="0.5" />
<line x1="470.70" y1="436.50" x2="427.20" y2="436.50" stroke="#333" stroke-width="0.5" />
<path d="M470.10,435.40 L472.70,436.50 L470.10,437.60 Z" fill="#111"/>
<text x="413.80" y="438.20" font-size="5.5" fill="#222" style="color:#222" text-anchor="start" font-weight="bold" textLength="11.60" lengthAdjust="spacingAndGlyphs" >IL-1β</text>
<text x="449.60" y="433.70" font-size="5.5" fill="#333" style="color:#333" text-anchor="middle" textLength="30.00" lengthAdjust="spacingAndGlyphs" >(Pacific Blue)</text>
<rect x="151.90" y="514.54" width="15.20" height="54.36" fill="#e2e2e2" stroke="#777" stroke-width="0.5"/>
<rect x="175.00" y="530.07" width="15.50" height="38.83" fill="#c3d9cf" stroke="#6f8f80" stroke-width="0.5"/>
<line x1="159.50" y1="494.47" x2="182.75" y2="515.51" stroke="#111" stroke-width="0.85" />
<line x1="159.50" y1="495.12" x2="182.75" y2="532.33" stroke="#111" stroke-width="0.85" />
<line x1="159.50" y1="513.89" x2="182.75" y2="520.36" stroke="#111" stroke-width="0.85" />
<line x1="159.50" y1="531.69" x2="182.75" y2="536.54" stroke="#111" stroke-width="0.85" />
<line x1="159.50" y1="536.86" x2="182.75" y2="545.60" stroke="#111" stroke-width="0.85" />
<circle cx="159.50" cy="494.47" r="1.55" fill="#fff" stroke="#333" stroke-width="0.55"/>
<rect x="181.30" y="514.06" width="2.9" height="2.9" fill="#fff" stroke="#333" stroke-width="0.55"/>
<circle cx="159.50" cy="495.12" r="1.55" fill="#fff" stroke="#333" stroke-width="0.55"/>
<rect x="181.30" y="530.88" width="2.9" height="2.9" fill="#fff" stroke="#333" stroke-width="0.55"/>
<circle cx="159.50" cy="513.89" r="1.55" fill="#fff" stroke="#333" stroke-width="0.55"/>
<rect x="181.30" y="518.91" width="2.9" height="2.9" fill="#fff" stroke="#333" stroke-width="0.55"/>
<circle cx="159.50" cy="531.69" r="1.55" fill="#fff" stroke="#333" stroke-width="0.55"/>
<rect x="181.30" y="535.09" width="2.9" height="2.9" fill="#fff" stroke="#333" stroke-width="0.55"/>
<circle cx="159.50" cy="536.86" r="1.55" fill="#fff" stroke="#333" stroke-width="0.55"/>
<rect x="181.30" y="544.15" width="2.9" height="2.9" fill="#fff" stroke="#333" stroke-width="0.55"/>
<line x1="143.40" y1="487.50" x2="143.40" y2="568.90" stroke="#111" stroke-width="0.8" />
<line x1="143.40" y1="568.90" x2="190.80" y2="568.90" stroke="#111" stroke-width="0.8" />
<line x1="141.60" y1="568.90" x2="143.40" y2="568.90" stroke="#111" stroke-width="0.7" />
<text x="138.00" y="571.70" font-size="7.8" fill="#222" style="color:#222" text-anchor="end" >0</text>
<line x1="141.60" y1="552.72" x2="143.40" y2="552.72" stroke="#111" stroke-width="0.7" />
<text x="138.00" y="555.52" font-size="7.8" fill="#222" style="color:#222" text-anchor="end" >500</text>
<line x1="141.60" y1="536.54" x2="143.40" y2="536.54" stroke="#111" stroke-width="0.7" />
<text x="138.00" y="539.34" font-size="7.8" fill="#222" style="color:#222" text-anchor="end" >1000</text>
<line x1="141.60" y1="520.36" x2="143.40" y2="520.36" stroke="#111" stroke-width="0.7" />
<text x="138.00" y="523.16" font-size="7.8" fill="#222" style="color:#222" text-anchor="end" >1500</text>
<line x1="141.60" y1="504.18" x2="143.40" y2="504.18" stroke="#111" stroke-width="0.7" />
<text x="138.00" y="506.98" font-size="7.8" fill="#222" style="color:#222" text-anchor="end" >2000</text>
<line x1="141.60" y1="488.00" x2="143.40" y2="488.00" stroke="#111" stroke-width="0.7" />
<text x="138.00" y="490.80" font-size="7.8" fill="#222" style="color:#222" text-anchor="end" >2500</text>
<line x1="159.50" y1="568.90" x2="159.50" y2="570.50" stroke="#111" stroke-width="0.6" />
<line x1="182.75" y1="568.90" x2="182.75" y2="570.50" stroke="#111" stroke-width="0.6" />
<text x="170.80" y="479.20" font-size="7.6" fill="#222" style="color:#222" text-anchor="middle" textLength="53.60" lengthAdjust="spacingAndGlyphs" >CD16 (FcγRIII)</text>
<text x="159.50" y="582.30" font-size="7.8" fill="#222" style="color:#222" text-anchor="middle" >Blood</text>
<text x="182.75" y="582.30" font-size="7.8" fill="#222" style="color:#222" text-anchor="middle" >Lung</text>
<text x="113.30" y="528.00" font-size="7.6" fill="#222" style="color:#222" text-anchor="middle" font-weight="bold" textLength="13.00" lengthAdjust="spacingAndGlyphs" transform="rotate(-90 113.30 528.00)" >MFI</text>
<rect x="260.20" y="558.77" width="15.50" height="10.02" fill="#e2e2e2" stroke="#777" stroke-width="0.5"/>
<rect x="283.60" y="534.85" width="14.70" height="33.95" fill="#c3d9cf" stroke="#6f8f80" stroke-width="0.5"/>
<line x1="267.95" y1="554.90" x2="290.95" y2="503.84" stroke="#111" stroke-width="0.85" />
<line x1="267.95" y1="558.11" x2="290.95" y2="514.53" stroke="#111" stroke-width="0.85" />
<line x1="267.95" y1="555.97" x2="290.95" y2="535.92" stroke="#111" stroke-width="0.85" />
<line x1="267.95" y1="562.38" x2="290.95" y2="559.71" stroke="#111" stroke-width="0.85" />
<line x1="267.95" y1="555.97" x2="290.95" y2="558.11" stroke="#111" stroke-width="0.85" />
<circle cx="267.95" cy="554.90" r="1.55" fill="#fff" stroke="#333" stroke-width="0.55"/>
<rect x="289.50" y="502.39" width="2.9" height="2.9" fill="#fff" stroke="#333" stroke-width="0.55"/>
<circle cx="267.95" cy="558.11" r="1.55" fill="#fff" stroke="#333" stroke-width="0.55"/>
<rect x="289.50" y="513.08" width="2.9" height="2.9" fill="#fff" stroke="#333" stroke-width="0.55"/>
<circle cx="267.95" cy="555.97" r="1.55" fill="#fff" stroke="#333" stroke-width="0.55"/>
<rect x="289.50" y="534.47" width="2.9" height="2.9" fill="#fff" stroke="#333" stroke-width="0.55"/>
<circle cx="267.95" cy="562.38" r="1.55" fill="#fff" stroke="#333" stroke-width="0.55"/>
<rect x="289.50" y="558.26" width="2.9" height="2.9" fill="#fff" stroke="#333" stroke-width="0.55"/>
<circle cx="267.95" cy="555.97" r="1.55" fill="#fff" stroke="#333" stroke-width="0.55"/>
<rect x="289.50" y="556.66" width="2.9" height="2.9" fill="#fff" stroke="#333" stroke-width="0.55"/>
<line x1="251.90" y1="488.10" x2="251.90" y2="568.80" stroke="#111" stroke-width="0.8" />
<line x1="251.90" y1="568.80" x2="306.70" y2="568.80" stroke="#111" stroke-width="0.8" />
<line x1="250.10" y1="568.80" x2="251.90" y2="568.80" stroke="#111" stroke-width="0.7" />
<text x="246.50" y="571.60" font-size="7.8" fill="#222" style="color:#222" text-anchor="end" >0</text>
<line x1="250.10" y1="542.07" x2="251.90" y2="542.07" stroke="#111" stroke-width="0.7" />
<text x="246.50" y="544.87" font-size="7.8" fill="#222" style="color:#222" text-anchor="end" >1000</text>
<line x1="250.10" y1="515.33" x2="251.90" y2="515.33" stroke="#111" stroke-width="0.7" />
<text x="246.50" y="518.13" font-size="7.8" fill="#222" style="color:#222" text-anchor="end" >2000</text>
<line x1="250.10" y1="488.60" x2="251.90" y2="488.60" stroke="#111" stroke-width="0.7" />
<text x="246.50" y="491.40" font-size="7.8" fill="#222" style="color:#222" text-anchor="end" >3000</text>
<line x1="267.95" y1="568.80" x2="267.95" y2="570.40" stroke="#111" stroke-width="0.6" />
<line x1="290.95" y1="568.80" x2="290.95" y2="570.40" stroke="#111" stroke-width="0.6" />
<text x="278.10" y="479.20" font-size="7.6" fill="#222" style="color:#222" text-anchor="middle" textLength="69.00" lengthAdjust="spacingAndGlyphs" >Neutrophil Elastase</text>
<text x="267.95" y="582.30" font-size="7.8" fill="#222" style="color:#222" text-anchor="middle" >Blood</text>
<text x="290.95" y="582.30" font-size="7.8" fill="#222" style="color:#222" text-anchor="middle" >Lung</text>
<text x="219.80" y="528.00" font-size="7.6" fill="#222" style="color:#222" text-anchor="middle" font-weight="bold" textLength="13.00" lengthAdjust="spacingAndGlyphs" transform="rotate(-90 219.80 528.00)" >MFI</text>
<rect x="376.40" y="566.59" width="13.10" height="2.01" fill="#e2e2e2" stroke="#777" stroke-width="0.5"/>
<rect x="399.00" y="532.38" width="15.50" height="36.23" fill="#c3d9cf" stroke="#6f8f80" stroke-width="0.5"/>
<line x1="382.95" y1="566.59" x2="406.75" y2="493.13" stroke="#111" stroke-width="0.85" />
<line x1="382.95" y1="567.59" x2="406.75" y2="506.21" stroke="#111" stroke-width="0.85" />
<line x1="382.95" y1="561.56" x2="406.75" y2="540.93" stroke="#111" stroke-width="0.85" />
<line x1="382.95" y1="567.09" x2="406.75" y2="561.05" stroke="#111" stroke-width="0.85" />
<line x1="382.95" y1="567.59" x2="406.75" y2="562.06" stroke="#111" stroke-width="0.85" />
<circle cx="382.95" cy="566.59" r="1.55" fill="#fff" stroke="#333" stroke-width="0.55"/>
<rect x="405.30" y="491.68" width="2.9" height="2.9" fill="#fff" stroke="#333" stroke-width="0.55"/>
<circle cx="382.95" cy="567.59" r="1.55" fill="#fff" stroke="#333" stroke-width="0.55"/>
<rect x="405.30" y="504.76" width="2.9" height="2.9" fill="#fff" stroke="#333" stroke-width="0.55"/>
<circle cx="382.95" cy="561.56" r="1.55" fill="#fff" stroke="#333" stroke-width="0.55"/>
<rect x="405.30" y="539.48" width="2.9" height="2.9" fill="#fff" stroke="#333" stroke-width="0.55"/>
<circle cx="382.95" cy="567.09" r="1.55" fill="#fff" stroke="#333" stroke-width="0.55"/>
<rect x="405.30" y="559.60" width="2.9" height="2.9" fill="#fff" stroke="#333" stroke-width="0.55"/>
<circle cx="382.95" cy="567.59" r="1.55" fill="#fff" stroke="#333" stroke-width="0.55"/>
<rect x="405.30" y="560.61" width="2.9" height="2.9" fill="#fff" stroke="#333" stroke-width="0.55"/>
<line x1="368.80" y1="487.60" x2="368.80" y2="568.60" stroke="#111" stroke-width="0.8" />
<line x1="368.80" y1="568.60" x2="421.70" y2="568.60" stroke="#111" stroke-width="0.8" />
<line x1="367.00" y1="568.60" x2="368.80" y2="568.60" stroke="#111" stroke-width="0.7" />
<text x="363.40" y="571.40" font-size="7.8" fill="#222" style="color:#222" text-anchor="end" >0</text>
<line x1="367.00" y1="548.48" x2="368.80" y2="548.48" stroke="#111" stroke-width="0.7" />
<text x="363.40" y="551.27" font-size="7.8" fill="#222" style="color:#222" text-anchor="end" >2000</text>
<line x1="367.00" y1="528.35" x2="368.80" y2="528.35" stroke="#111" stroke-width="0.7" />
<text x="363.40" y="531.15" font-size="7.8" fill="#222" style="color:#222" text-anchor="end" >4000</text>
<line x1="367.00" y1="508.23" x2="368.80" y2="508.23" stroke="#111" stroke-width="0.7" />
<text x="363.40" y="511.03" font-size="7.8" fill="#222" style="color:#222" text-anchor="end" >6000</text>
<line x1="367.00" y1="488.10" x2="368.80" y2="488.10" stroke="#111" stroke-width="0.7" />
<text x="363.40" y="490.90" font-size="7.8" fill="#222" style="color:#222" text-anchor="end" >8000</text>
<line x1="382.95" y1="568.60" x2="382.95" y2="570.20" stroke="#111" stroke-width="0.6" />
<line x1="406.75" y1="568.60" x2="406.75" y2="570.20" stroke="#111" stroke-width="0.6" />
<text x="394.85" y="479.20" font-size="7.6" fill="#222" style="color:#222" text-anchor="middle" textLength="58.30" lengthAdjust="spacingAndGlyphs" >CD63 (LAMP-3)</text>
<text x="382.95" y="582.30" font-size="7.8" fill="#222" style="color:#222" text-anchor="middle" >Blood</text>
<text x="406.75" y="582.30" font-size="7.8" fill="#222" style="color:#222" text-anchor="middle" >Lung</text>
<text x="334.80" y="528.00" font-size="7.6" fill="#222" style="color:#222" text-anchor="middle" font-weight="bold" textLength="13.00" lengthAdjust="spacingAndGlyphs" transform="rotate(-90 334.80 528.00)" >MFI</text>
</svg>
</body></html>
